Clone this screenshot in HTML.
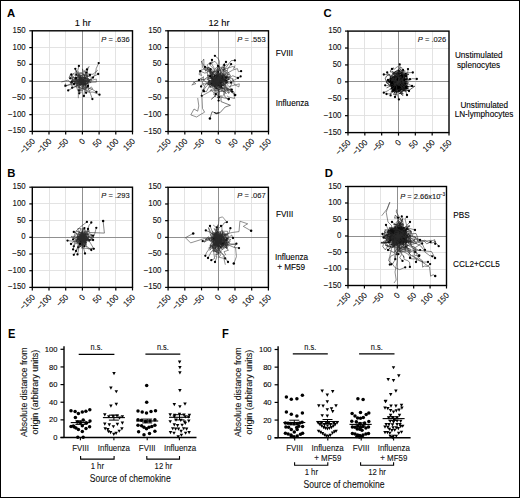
<!DOCTYPE html><html><head><meta charset="utf-8"><style>html,body{margin:0;padding:0;background:#fff}svg{display:block}text{stroke:#000;stroke-width:0.1px;paint-order:stroke}text[font-weight]{stroke:none}</style></head><body>
<svg width="520" height="498" viewBox="0 0 520 498" font-family='"Liberation Sans", sans-serif'>
<rect x="0" y="0" width="520" height="498" fill="#fff"/>
<rect x="0.5" y="0.5" width="519" height="497" fill="none" stroke="#000" stroke-width="1"/>
<text x="7" y="16.6" font-size="11.3" text-anchor="start" font-weight="bold" fill="#000">A</text>
<text x="7.2" y="177.1" font-size="11.3" text-anchor="start" font-weight="bold" fill="#000">B</text>
<text x="323.5" y="17.2" font-size="11.3" text-anchor="start" font-weight="bold" fill="#000">C</text>
<text x="324.8" y="177" font-size="11.3" text-anchor="start" font-weight="bold" fill="#000">D</text>
<text transform="translate(7.9 338.1) scale(0.98 1.1)" font-size="11.3" text-anchor="start" fill="#000" font-weight="bold">E</text>
<text transform="translate(221.9 338) scale(0.98 1.1)" font-size="11.3" text-anchor="start" fill="#000" font-weight="bold">F</text>
<line x1="49.5" y1="30.8" x2="49.5" y2="131.4" stroke="#e0e0e0" stroke-width="0.9"/>
<line x1="32.3" y1="114.5" x2="132.5" y2="114.5" stroke="#e0e0e0" stroke-width="0.9"/>
<line x1="65.5" y1="30.8" x2="65.5" y2="131.4" stroke="#e0e0e0" stroke-width="0.9"/>
<line x1="32.3" y1="97.5" x2="132.5" y2="97.5" stroke="#e0e0e0" stroke-width="0.9"/>
<line x1="99.5" y1="30.8" x2="99.5" y2="131.4" stroke="#e0e0e0" stroke-width="0.9"/>
<line x1="32.3" y1="64.5" x2="132.5" y2="64.5" stroke="#e0e0e0" stroke-width="0.9"/>
<line x1="115.5" y1="30.8" x2="115.5" y2="131.4" stroke="#e0e0e0" stroke-width="0.9"/>
<line x1="32.3" y1="47.5" x2="132.5" y2="47.5" stroke="#e0e0e0" stroke-width="0.9"/>
<line x1="82.5" y1="30.8" x2="82.5" y2="131.4" stroke="#909090" stroke-width="1.0"/>
<line x1="32.3" y1="81.5" x2="132.5" y2="81.5" stroke="#909090" stroke-width="1.0"/>
<path d="M82.4 81.1 L85.39 85.19 L83.32 82.57 L79.05 86.34 L79.6 87.74 L79.98 90.15 L78.85 86.5" fill="none" stroke="#333" stroke-width="0.5" stroke-opacity="1" stroke-linejoin="round"/>
<path d="M82.4 81.1 L78.46 78.6 L78.35 77.44 L78.92 74.38 L78.82 74.63 L75.61 79.12" fill="none" stroke="#333" stroke-width="0.5" stroke-opacity="1" stroke-linejoin="round"/>
<circle cx="75.61" cy="79.12" r="1.1" fill="#000"/>
<path d="M82.4 81.1 L80.41 77.61 L79.04 74.26 L79.5 75.46 L76.35 78.74 L75.32 79.35 L77.72 80.19" fill="none" stroke="#333" stroke-width="0.5" stroke-opacity="1" stroke-linejoin="round"/>
<path d="M82.4 81.1 L81.16 80.02 L81.85 81.35 L76.27 85.53 L77.51 90.09 L81.22 92.78 L80.71 90.15 L81.78 89.73 L79.43 87.21 L75.43 87.04 L78.66 82.07" fill="none" stroke="#333" stroke-width="0.5" stroke-opacity="1" stroke-linejoin="round"/>
<path d="M82.4 81.1 L83.49 79.48 L85.82 78.22 L84.47 75.4 L84.17 75.29 L84.16 74.55 L81.73 73.66 L84.16 73.63 L82.45 68.86 L82.96 72.33 L78.25 73.09 L75.54 69.55 L76.31 74.63" fill="none" stroke="#333" stroke-width="0.5" stroke-opacity="1" stroke-linejoin="round"/>
<circle cx="76.31" cy="74.63" r="1.1" fill="#000"/>
<path d="M82.4 81.1 L83.78 82.97 L86.41 83.49 L87.7 87.55 L85.06 88.89 L86.02 92.69 L92.63 88.92 L91.33 86.87 L86.74 90.9" fill="none" stroke="#333" stroke-width="0.5" stroke-opacity="1" stroke-linejoin="round"/>
<path d="M82.4 81.1 L79.93 82.63 L81.38 81.65 L80.53 80.06 L81.08 77.41 L80.67 77.16 L79.37 77.52 L79.88 81.88 L79.62 78.43 L77.13 76.3 L78.79 73.14 L78.72 76.94" fill="none" stroke="#333" stroke-width="0.5" stroke-opacity="1" stroke-linejoin="round"/>
<path d="M82.4 81.1 L81.99 84.76 L78.08 80.58 L73.01 76.44 L71.51 83.48 L64.65 86.68 L65.58 83.38" fill="none" stroke="#333" stroke-width="0.5" stroke-opacity="1" stroke-linejoin="round"/>
<path d="M82.4 81.1 L84.86 83.57 L82.34 84.2 L85.39 79.61 L84.43 75.29 L79.86 75.35 L76.87 75.52 L79.22 76.18 L76.32 70.95 L75.67 76.55 L74.41 74.44" fill="none" stroke="#333" stroke-width="0.5" stroke-opacity="1" stroke-linejoin="round"/>
<path d="M82.4 81.1 L84.28 81.23 L83.67 84.47 L83.33 87.49 L77.41 83.64 L78.33 81.54 L74 77.81 L77.01 81.18 L80.68 79.16 L79.65 76.5 L81.06 82.56" fill="none" stroke="#333" stroke-width="0.5" stroke-opacity="1" stroke-linejoin="round"/>
<path d="M82.4 81.1 L81.25 80.24 L79.33 84.91 L87.23 88.32 L87.39 82.96 L87.82 78.86 L84.46 70.62 L85.09 72.07 L87.87 76.95 L88.06 75.93 L86 75.12 L83.67 76.42" fill="none" stroke="#333" stroke-width="0.5" stroke-opacity="1" stroke-linejoin="round"/>
<path d="M82.4 81.1 L82.15 83.91 L80.41 83.15 L79.31 84.49 L82.22 83.41 L78.51 85.03 L81.65 83.66 L85.32 82.31 L81.88 82.06" fill="none" stroke="#333" stroke-width="0.5" stroke-opacity="1" stroke-linejoin="round"/>
<circle cx="81.88" cy="82.06" r="1.1" fill="#000"/>
<path d="M82.4 81.1 L81.63 83.25 L83.8 83.07 L78.74 81.75 L81.15 76.94 L78.21 80.62 L79.72 81.09 L81.26 82.08" fill="none" stroke="#333" stroke-width="0.5" stroke-opacity="1" stroke-linejoin="round"/>
<path d="M82.4 81.1 L78.65 83.25 L75.21 83.73 L74.35 81.05 L71.17 80.91 L76.18 79.74 L82.02 75" fill="none" stroke="#333" stroke-width="0.5" stroke-opacity="1" stroke-linejoin="round"/>
<path d="M82.4 81.1 L78.97 79.03 L79.27 77.8 L82.35 76.51 L82.01 76.67 L82.27 78.64 L73.5 77.44 L69.81 78.1" fill="none" stroke="#333" stroke-width="0.5" stroke-opacity="1" stroke-linejoin="round"/>
<path d="M82.4 81.1 L78.8 81.84 L84.21 80 L85.38 81.42 L81.85 79.68 L82.16 80.86 L81.42 78.77" fill="none" stroke="#333" stroke-width="0.5" stroke-opacity="1" stroke-linejoin="round"/>
<path d="M82.4 81.1 L82.09 78.34 L81.37 82.37 L80.21 82.26 L79.31 80.58 L79.59 79.44 L76.46 80.15 L78.26 83.59 L74.5 81.9 L75.69 83.94" fill="none" stroke="#333" stroke-width="0.5" stroke-opacity="1" stroke-linejoin="round"/>
<path d="M82.4 81.1 L82.77 79.04 L84.51 77.37 L85.62 77.4 L85.07 81.65 L85.25 84.01" fill="none" stroke="#333" stroke-width="0.5" stroke-opacity="1" stroke-linejoin="round"/>
<circle cx="85.25" cy="84.01" r="1.1" fill="#000"/>
<path d="M82.4 81.1 L84.47 80.12 L85.99 77.92 L80.87 80.07 L82.58 82.88 L91.5 79.87 L90.84 80.52 L96.37 79.03 L96.31 82.15 L88.76 82.45" fill="none" stroke="#333" stroke-width="0.5" stroke-opacity="1" stroke-linejoin="round"/>
<path d="M82.4 81.1 L80.05 84.83 L75.08 81.19 L70.41 78.08 L74.46 72.87 L71.22 75.2 L69.05 77.56 L70.42 74.31 L74.14 81.98 L77.75 81.54 L79.77 82.18 L79.8 80.1 L81.81 81.96" fill="none" stroke="#333" stroke-width="0.5" stroke-opacity="1" stroke-linejoin="round"/>
<path d="M82.4 81.1 L79.25 82.21 L77.45 81.33 L75.36 78.6 L75.14 80.56 L72.51 86.17 L71.56 85.73 L71.19 84.19 L69.97 82.49 L72.2 81.7" fill="none" stroke="#333" stroke-width="0.5" stroke-opacity="1" stroke-linejoin="round"/>
<circle cx="72.2" cy="81.7" r="1.1" fill="#000"/>
<path d="M82.4 81.1 L83.31 79.59 L87.67 77.9 L89.79 80.06 L86.21 77.02 L85.08 70.71 L89.05 66.46 L86.45 72.6" fill="none" stroke="#333" stroke-width="0.5" stroke-opacity="1" stroke-linejoin="round"/>
<circle cx="86.45" cy="72.6" r="1.1" fill="#000"/>
<path d="M82.4 81.1 L86.84 80.82 L87.19 77.54 L90.63 83.07 L91.1 79.71 L95.61 73.61 L96.2 68.63 L98.7 63.1" fill="none" stroke="#2a2a2a" stroke-width="0.55" stroke-opacity="1" stroke-linejoin="round"/>
<circle cx="98.7" cy="63.1" r="1.15" fill="#000"/>
<path d="M82.4 81.1 L79.9 76.31 L80.17 80.12 L83.53 81.67 L80.14 75.14 L77.76 70.61 L78.9 65.9" fill="none" stroke="#2a2a2a" stroke-width="0.55" stroke-opacity="1" stroke-linejoin="round"/>
<circle cx="78.9" cy="65.9" r="1.15" fill="#000"/>
<path d="M82.4 81.1 L80.73 78.72 L81.5 79.91 L78.47 75.99 L75.3 68.8" fill="none" stroke="#2a2a2a" stroke-width="0.55" stroke-opacity="1" stroke-linejoin="round"/>
<circle cx="75.3" cy="68.8" r="1.15" fill="#000"/>
<path d="M82.4 81.1 L84.01 78.67 L87.73 78.95 L88.5 82.02 L85.6 85.04 L83.42 79.84 L87.96 75.16 L87 69.5" fill="none" stroke="#2a2a2a" stroke-width="0.55" stroke-opacity="1" stroke-linejoin="round"/>
<circle cx="87" cy="69.5" r="1.15" fill="#000"/>
<path d="M82.4 81.1 L82.46 79.89 L80 75.73 L87.04 74.06 L92.97 74.29 L97.8 70.2" fill="none" stroke="#2a2a2a" stroke-width="0.55" stroke-opacity="1" stroke-linejoin="round"/>
<path d="M82.4 81.1 L91.53 79.25 L85.03 82.39 L85.08 80.35 L88.46 81.7 L87.14 83.2 L91.84 77.53 L98.2 74" fill="none" stroke="#2a2a2a" stroke-width="0.55" stroke-opacity="1" stroke-linejoin="round"/>
<circle cx="98.2" cy="74" r="1.15" fill="#000"/>
<path d="M82.4 81.1 L81.39 82.38 L84.82 83.68 L81.95 85.72 L83.52 89.21 L77.59 86.4 L75.56 80.81 L71.3 74.5" fill="none" stroke="#2a2a2a" stroke-width="0.55" stroke-opacity="1" stroke-linejoin="round"/>
<circle cx="71.3" cy="74.5" r="1.15" fill="#000"/>
<path d="M82.4 81.1 L85.06 78.52 L79.31 80.26 L80.17 73.08 L85.65 75.51 L93 77.6" fill="none" stroke="#2a2a2a" stroke-width="0.55" stroke-opacity="1" stroke-linejoin="round"/>
<circle cx="93" cy="77.6" r="1.15" fill="#000"/>
<path d="M82.4 81.1 L83.54 79.54 L79.1 83.66 L77.61 79.42 L80.71 79.47 L74.64 80.03 L70.2 78.3" fill="none" stroke="#2a2a2a" stroke-width="0.55" stroke-opacity="1" stroke-linejoin="round"/>
<circle cx="70.2" cy="78.3" r="1.15" fill="#000"/>
<path d="M82.4 81.1 L84.14 83.9 L89.36 83 L86.54 83.61 L81.5 84.41 L74.45 85.03 L67.85 80.17 L61.4 82" fill="none" stroke="#2a2a2a" stroke-width="0.55" stroke-opacity="1" stroke-linejoin="round"/>
<path d="M82.4 81.1 L82.72 83.9 L83.04 85.28 L81.54 81.2 L75.75 81.7 L74.24 81.33 L71.5 82.3" fill="none" stroke="#2a2a2a" stroke-width="0.55" stroke-opacity="1" stroke-linejoin="round"/>
<circle cx="71.5" cy="82.3" r="1.15" fill="#000"/>
<path d="M82.4 81.1 L84.18 85.26 L79.73 84.11 L81.33 82.5 L74.89 83.73 L69.08 84.98 L65.5 85.7" fill="none" stroke="#2a2a2a" stroke-width="0.55" stroke-opacity="1" stroke-linejoin="round"/>
<circle cx="65.5" cy="85.7" r="1.15" fill="#000"/>
<path d="M82.4 81.1 L81.78 76.33 L86.08 78.69 L89.87 81.8 L86.14 84.32 L79.91 84.66 L72.2 87.7" fill="none" stroke="#2a2a2a" stroke-width="0.55" stroke-opacity="1" stroke-linejoin="round"/>
<circle cx="72.2" cy="87.7" r="1.15" fill="#000"/>
<path d="M82.4 81.1 L87.62 82.8 L89.74 79.51 L84.92 78.62 L83.98 74.82 L87.52 80.22 L84.52 85.05 L78.27 85.03 L73.5 87.55 L68.2 90.4" fill="none" stroke="#2a2a2a" stroke-width="0.55" stroke-opacity="1" stroke-linejoin="round"/>
<circle cx="68.2" cy="90.4" r="1.15" fill="#000"/>
<path d="M82.4 81.1 L82.18 83.17 L85.31 89.16 L83.5 89.64 L82.48 90.38 L78.9 90.4" fill="none" stroke="#2a2a2a" stroke-width="0.55" stroke-opacity="1" stroke-linejoin="round"/>
<circle cx="78.9" cy="90.4" r="1.15" fill="#000"/>
<path d="M82.4 81.1 L85.56 80.63 L87.33 80.07 L84.04 85.17 L83.42 88.57 L81.86 87.85 L79.1 91 L79.3 93.3" fill="none" stroke="#2a2a2a" stroke-width="0.55" stroke-opacity="1" stroke-linejoin="round"/>
<circle cx="79.3" cy="93.3" r="1.15" fill="#000"/>
<path d="M82.4 81.1 L82.27 81.81 L79.93 81.33 L81.94 77.65 L84.24 77.18 L85.22 82.44 L86.1 86.71 L86.1 92.8" fill="none" stroke="#2a2a2a" stroke-width="0.55" stroke-opacity="1" stroke-linejoin="round"/>
<circle cx="86.1" cy="92.8" r="1.15" fill="#000"/>
<path d="M82.4 81.1 L81.16 79.89 L83.32 80.23 L82.78 83.79 L85.96 87.18 L92.04 89.1 L96.4 92" fill="none" stroke="#2a2a2a" stroke-width="0.55" stroke-opacity="1" stroke-linejoin="round"/>
<circle cx="96.4" cy="92" r="1.15" fill="#000"/>
<path d="M82.4 81.1 L81.19 84.87 L77.92 82.73 L76.3 84.15 L81.6 87.88 L85.26 89.11 L88.69 92.22 L93 92.03 L99.5 94.7" fill="none" stroke="#2a2a2a" stroke-width="0.55" stroke-opacity="1" stroke-linejoin="round"/>
<circle cx="99.5" cy="94.7" r="1.15" fill="#000"/>
<path d="M82.4 81.1 L78.9 81.44 L86.05 81.16 L84.53 90.64 L83.9 96" fill="none" stroke="#2a2a2a" stroke-width="0.55" stroke-opacity="1" stroke-linejoin="round"/>
<circle cx="83.9" cy="96" r="1.15" fill="#000"/>
<path d="M82.4 81.1 L86.05 86.09 L85.69 88.26 L87.71 85.87 L88.38 85.32 L88.39 84.23 L88.75 90.03 L90.57 94.02 L92.4 99.1" fill="none" stroke="#2a2a2a" stroke-width="0.55" stroke-opacity="1" stroke-linejoin="round"/>
<circle cx="92.4" cy="99.1" r="1.15" fill="#000"/>
<path d="M82.4 81.1 L82.05 84.14 L80.67 82.56 L81.79 84.64 L79.75 83.72 L78.32 88.54 L78.3 98.2" fill="none" stroke="#2a2a2a" stroke-width="0.55" stroke-opacity="1" stroke-linejoin="round"/>
<path d="M82.4 81.1 L78.36 79.7 L71.26 82.59 L72.87 81.43 L79.34 82.75 L84.4 78.47 L90 75" fill="none" stroke="#2a2a2a" stroke-width="0.55" stroke-opacity="1" stroke-linejoin="round"/>
<circle cx="90" cy="75" r="1.15" fill="#000"/>
<path d="M82.4 81.1 L84.78 77.24 L83.08 77.35 L86.31 80.46 L85.62 77.85 L80.69 77.62 L76 78" fill="none" stroke="#2a2a2a" stroke-width="0.55" stroke-opacity="1" stroke-linejoin="round"/>
<circle cx="76" cy="78" r="1.15" fill="#000"/>
<path d="M82.4 81.1 L84.29 84.65 L82.22 82.7 L86.07 86 L88 86" fill="none" stroke="#2a2a2a" stroke-width="0.55" stroke-opacity="1" stroke-linejoin="round"/>
<circle cx="88" cy="86" r="1.15" fill="#000"/>
<path d="M82.4 81.1 L82.55 79.53 L83.1 77.96 L78.01 80.53 L74 84" fill="none" stroke="#2a2a2a" stroke-width="0.55" stroke-opacity="1" stroke-linejoin="round"/>
<circle cx="74" cy="84" r="1.15" fill="#000"/>
<rect x="32.3" y="30.8" width="100.2" height="100.6" fill="none" stroke="#000" stroke-width="1.4"/>
<line x1="29.3" y1="131.4" x2="32.3" y2="131.4" stroke="#000" stroke-width="1.2"/>
<text transform="translate(25.7 133.4) scale(0.95 1)" font-size="8.3" text-anchor="end" fill="#111">−150</text>
<line x1="32.3" y1="131.4" x2="32.3" y2="134.4" stroke="#000" stroke-width="1.2"/>
<text transform="translate(35.5 141.9) rotate(-45) scale(0.95 1)" font-size="8.3" text-anchor="end" fill="#111">−150</text>
<line x1="29.3" y1="114.63" x2="32.3" y2="114.63" stroke="#000" stroke-width="1.2"/>
<text transform="translate(25.7 116.63) scale(0.95 1)" font-size="8.3" text-anchor="end" fill="#111">−100</text>
<line x1="49" y1="131.4" x2="49" y2="134.4" stroke="#000" stroke-width="1.2"/>
<text transform="translate(52.2 141.9) rotate(-45) scale(0.95 1)" font-size="8.3" text-anchor="end" fill="#111">−100</text>
<line x1="29.3" y1="97.87" x2="32.3" y2="97.87" stroke="#000" stroke-width="1.2"/>
<text transform="translate(25.7 99.87) scale(0.95 1)" font-size="8.3" text-anchor="end" fill="#111">−50</text>
<line x1="65.7" y1="131.4" x2="65.7" y2="134.4" stroke="#000" stroke-width="1.2"/>
<text transform="translate(68.9 141.9) rotate(-45) scale(0.95 1)" font-size="8.3" text-anchor="end" fill="#111">−50</text>
<line x1="29.3" y1="81.1" x2="32.3" y2="81.1" stroke="#000" stroke-width="1.2"/>
<text transform="translate(25.7 83.1) scale(0.95 1)" font-size="8.3" text-anchor="end" fill="#111">0</text>
<line x1="82.4" y1="131.4" x2="82.4" y2="134.4" stroke="#000" stroke-width="1.2"/>
<text transform="translate(85.6 141.9) rotate(-45) scale(0.95 1)" font-size="8.3" text-anchor="end" fill="#111">0</text>
<line x1="29.3" y1="64.33" x2="32.3" y2="64.33" stroke="#000" stroke-width="1.2"/>
<text transform="translate(25.7 66.33) scale(0.95 1)" font-size="8.3" text-anchor="end" fill="#111">50</text>
<line x1="99.1" y1="131.4" x2="99.1" y2="134.4" stroke="#000" stroke-width="1.2"/>
<text transform="translate(102.3 141.9) rotate(-45) scale(0.95 1)" font-size="8.3" text-anchor="end" fill="#111">50</text>
<line x1="29.3" y1="47.57" x2="32.3" y2="47.57" stroke="#000" stroke-width="1.2"/>
<text transform="translate(25.7 49.57) scale(0.95 1)" font-size="8.3" text-anchor="end" fill="#111">100</text>
<line x1="115.8" y1="131.4" x2="115.8" y2="134.4" stroke="#000" stroke-width="1.2"/>
<text transform="translate(119 141.9) rotate(-45) scale(0.95 1)" font-size="8.3" text-anchor="end" fill="#111">100</text>
<line x1="29.3" y1="30.8" x2="32.3" y2="30.8" stroke="#000" stroke-width="1.2"/>
<text transform="translate(25.7 32.8) scale(0.95 1)" font-size="8.3" text-anchor="end" fill="#111">150</text>
<line x1="132.5" y1="131.4" x2="132.5" y2="134.4" stroke="#000" stroke-width="1.2"/>
<text transform="translate(135.7 141.9) rotate(-45) scale(0.95 1)" font-size="8.3" text-anchor="end" fill="#111">150</text>
<text x="129.6" y="42.2" font-size="7.55" text-anchor="end" fill="#111"><tspan font-style="italic">P</tspan> = .636</text>
<text x="82.8" y="25.8" font-size="9.3" text-anchor="middle">1 hr</text>
<line x1="184.5" y1="30.8" x2="184.5" y2="131.5" stroke="#e0e0e0" stroke-width="0.9"/>
<line x1="168.1" y1="114.5" x2="268.5" y2="114.5" stroke="#e0e0e0" stroke-width="0.9"/>
<line x1="201.5" y1="30.8" x2="201.5" y2="131.5" stroke="#e0e0e0" stroke-width="0.9"/>
<line x1="168.1" y1="97.5" x2="268.5" y2="97.5" stroke="#e0e0e0" stroke-width="0.9"/>
<line x1="235.5" y1="30.8" x2="235.5" y2="131.5" stroke="#e0e0e0" stroke-width="0.9"/>
<line x1="168.1" y1="64.5" x2="268.5" y2="64.5" stroke="#e0e0e0" stroke-width="0.9"/>
<line x1="251.5" y1="30.8" x2="251.5" y2="131.5" stroke="#e0e0e0" stroke-width="0.9"/>
<line x1="168.1" y1="47.5" x2="268.5" y2="47.5" stroke="#e0e0e0" stroke-width="0.9"/>
<line x1="218.5" y1="30.8" x2="218.5" y2="131.5" stroke="#909090" stroke-width="1.0"/>
<line x1="168.1" y1="81.5" x2="268.5" y2="81.5" stroke="#909090" stroke-width="1.0"/>
<path d="M218.3 81.15 L218.97 85.08 L218.21 85.5 L224.16 78.85 L214.54 81.77 L216.44 84.33 L209.63 84.87 L208.55 84.03 L209.75 87.27 L218.18 79.72" fill="none" stroke="#2a2a2a" stroke-width="0.5" stroke-opacity="1" stroke-linejoin="round"/>
<path d="M218.3 81.15 L214.78 78.17 L216.02 78.59 L213.78 75.05 L214.64 76.63 L215.5 78.31 L217.95 79.08 L218.5 71.92 L222.57 66.58 L221.1 69.23 L221.49 69 L227.06 70.59 L224.83 71.74" fill="none" stroke="#2a2a2a" stroke-width="0.5" stroke-opacity="1" stroke-linejoin="round"/>
<path d="M218.3 81.15 L222.4 77.94 L224.55 82.35 L224.59 80.41 L225.6 79.28 L218.57 77.77 L219.35 77.52 L213.34 74.4" fill="none" stroke="#2a2a2a" stroke-width="0.5" stroke-opacity="1" stroke-linejoin="round"/>
<path d="M218.3 81.15 L222.49 79.43 L225.17 76.59 L229.24 74.37 L230.67 75.38 L226.9 74.22 L229.32 73.86 L227.93 71.92 L227.02 72.34 L227.22 77.09 L229.87 76.78 L224.48 77.65" fill="none" stroke="#2a2a2a" stroke-width="0.5" stroke-opacity="1" stroke-linejoin="round"/>
<path d="M218.3 81.15 L224.24 78.97 L228.56 77.73 L227.19 76.21 L221.63 79.96 L218.17 82.84 L214.02 80.81 L212.24 76 L212.81 83.97 L214.8 85.62 L217.41 91.03 L224.92 91.74 L222.55 96.66" fill="none" stroke="#2a2a2a" stroke-width="0.5" stroke-opacity="1" stroke-linejoin="round"/>
<path d="M218.3 81.15 L221.99 82.89 L217.27 79.79 L216.06 81.77 L212.86 78.35 L210.83 73.52 L210.19 72.27 L207.22 67.89 L207.88 72.44 L208.71 66.99 L210.55 69.13" fill="none" stroke="#2a2a2a" stroke-width="0.5" stroke-opacity="1" stroke-linejoin="round"/>
<circle cx="210.55" cy="69.13" r="1.1" fill="#000"/>
<path d="M218.3 81.15 L221.16 76.36 L223.21 78.68 L225.88 81.91 L226.61 82.12 L227.36 82.7 L221.91 79.56 L218.94 81.35 L221.35 77.66 L219.91 79.61 L223.31 82.33 L223.56 85.2 L219.8 83.43" fill="none" stroke="#2a2a2a" stroke-width="0.5" stroke-opacity="1" stroke-linejoin="round"/>
<circle cx="219.8" cy="83.43" r="1.1" fill="#000"/>
<path d="M218.3 81.15 L221.5 83.99 L219.51 86.92 L221.19 86.65 L222.39 81.86 L221.09 82.52 L219.72 79.81 L219.65 78.15 L223.7 72.43 L224.48 67.49" fill="none" stroke="#2a2a2a" stroke-width="0.5" stroke-opacity="1" stroke-linejoin="round"/>
<path d="M218.3 81.15 L219.16 87.18 L220.16 83.89 L221.26 88.23 L221.43 83.47 L221.69 85.37 L220.07 85.08 L224.33 89.2 L228.74 93.63 L231.85 89.01 L227.68 89.92" fill="none" stroke="#2a2a2a" stroke-width="0.5" stroke-opacity="1" stroke-linejoin="round"/>
<path d="M218.3 81.15 L220.16 75.09 L223.19 77.89 L223.05 75.11 L224.81 75.83 L222.37 76.06 L226.02 76.27 L225.72 74.89 L223.82 74.12 L223.71 75.57 L228.5 78" fill="none" stroke="#2a2a2a" stroke-width="0.5" stroke-opacity="1" stroke-linejoin="round"/>
<path d="M218.3 81.15 L219.83 82.25 L221.18 87.87 L226.34 89.4 L233.82 92.94 L234.53 98.56 L228.62 96.98 L226.92 95.84" fill="none" stroke="#2a2a2a" stroke-width="0.5" stroke-opacity="1" stroke-linejoin="round"/>
<path d="M218.3 81.15 L220.19 82.59 L215.62 84.29 L219.08 86.75 L221.25 87.33 L220.74 86.83" fill="none" stroke="#2a2a2a" stroke-width="0.5" stroke-opacity="1" stroke-linejoin="round"/>
<circle cx="220.74" cy="86.83" r="1.1" fill="#000"/>
<path d="M218.3 81.15 L217.37 79.97 L216.6 71.99 L207.7 71.46 L202.95 68.19 L201.42 61 L203.8 65.72 L205.64 71.33" fill="none" stroke="#2a2a2a" stroke-width="0.5" stroke-opacity="1" stroke-linejoin="round"/>
<path d="M218.3 81.15 L214.07 83.8 L210.56 74.76 L208.73 69.51 L203.94 65.74 L203.83 58.99 L202.17 61.63" fill="none" stroke="#2a2a2a" stroke-width="0.5" stroke-opacity="1" stroke-linejoin="round"/>
<path d="M218.3 81.15 L218.12 86.11 L214.48 85.98 L216.76 87.25 L215.81 82.77 L219.21 76.9 L224.3 85.12 L219.74 86.8 L216.24 81.69 L217.27 81.78" fill="none" stroke="#2a2a2a" stroke-width="0.5" stroke-opacity="1" stroke-linejoin="round"/>
<path d="M218.3 81.15 L217.08 76.26 L211 72.47 L209.35 71.88 L211.09 73.72 L214.22 80.74 L211.85 78.47 L213.1 81.01 L212.31 79.95 L217.01 80.59" fill="none" stroke="#2a2a2a" stroke-width="0.5" stroke-opacity="1" stroke-linejoin="round"/>
<path d="M218.3 81.15 L218.75 83.62 L216.31 80.83 L214.58 78.95 L218.71 85.61 L222.27 88.79 L220.79 91.98" fill="none" stroke="#2a2a2a" stroke-width="0.5" stroke-opacity="1" stroke-linejoin="round"/>
<path d="M218.3 81.15 L222.77 82.64 L223.16 83.67 L222.02 82.01 L221.41 82.94 L220.19 77.57 L215.71 83.94 L208.2 81.77" fill="none" stroke="#2a2a2a" stroke-width="0.5" stroke-opacity="1" stroke-linejoin="round"/>
<path d="M218.3 81.15 L221.14 78.22 L226.59 76.05 L226.82 77.35 L226.46 78.57 L225.3 81.26 L226.15 82.3" fill="none" stroke="#2a2a2a" stroke-width="0.5" stroke-opacity="1" stroke-linejoin="round"/>
<circle cx="226.15" cy="82.3" r="1.1" fill="#000"/>
<path d="M218.3 81.15 L213.3 76.8 L215.3 77.79 L216.75 78.62 L212.15 79.6 L212.81 73.79 L210.34 77.92 L213.3 77.59 L199.53 80.24 L195.24 81.59 L191.77 84.99 L195.88 83.67 L193.04 81.88" fill="none" stroke="#2a2a2a" stroke-width="0.5" stroke-opacity="1" stroke-linejoin="round"/>
<path d="M218.3 81.15 L219.26 77.7 L221.77 80.08 L223.11 76.14 L219.29 78.21 L211.47 78.33 L211.44 84.18 L214.55 83.05" fill="none" stroke="#2a2a2a" stroke-width="0.5" stroke-opacity="1" stroke-linejoin="round"/>
<circle cx="214.55" cy="83.05" r="1.1" fill="#000"/>
<path d="M218.3 81.15 L215.54 78.03 L207.15 77.58 L206.22 77.69 L203.32 80.79 L203.37 76.83 L203.77 76.86 L200.63 78.51 L201.22 79 L203.75 85.86" fill="none" stroke="#2a2a2a" stroke-width="0.5" stroke-opacity="1" stroke-linejoin="round"/>
<path d="M218.3 81.15 L217.87 81.06 L219.48 78.8 L222.31 77.26 L223.98 78.46 L222.39 80.19 L219.7 85.95 L220.21 82.32 L221.16 84.03 L220.76 85.49 L221.1 84.18 L220.68 83.24" fill="none" stroke="#2a2a2a" stroke-width="0.5" stroke-opacity="1" stroke-linejoin="round"/>
<path d="M218.3 81.15 L219.49 75.69 L213.41 68.59 L208.58 63.82 L207.04 65.02 L207.93 66.65 L205.75 71.17 L206.03 68.46 L199.59 70.74 L201.63 75.51 L199.08 74.52 L199.99 70.09" fill="none" stroke="#2a2a2a" stroke-width="0.5" stroke-opacity="1" stroke-linejoin="round"/>
<path d="M218.3 81.15 L218.75 77.64 L223.86 78.32 L226.12 75.95 L227.97 77.33 L222 75.37" fill="none" stroke="#2a2a2a" stroke-width="0.5" stroke-opacity="1" stroke-linejoin="round"/>
<path d="M218.3 81.15 L213.82 77.99 L216.55 71.37 L209.79 73.28 L211.8 75.81 L207.68 76.86 L215.79 81.31 L215.68 79.51 L215.77 80.34 L220.15 77.88 L215.9 77.78 L214.86 77.28 L216.45 80.36" fill="none" stroke="#2a2a2a" stroke-width="0.5" stroke-opacity="1" stroke-linejoin="round"/>
<path d="M218.3 81.15 L225.65 79.71 L227.15 81.59 L227.56 82.95 L226.3 80 L222.82 81.45 L221.95 78.69 L217.08 80.39 L214.51 87.12 L215.36 84.08 L211.29 78.55 L213.49 79.9" fill="none" stroke="#2a2a2a" stroke-width="0.5" stroke-opacity="1" stroke-linejoin="round"/>
<path d="M218.3 81.15 L214.61 81.16 L218.41 77.2 L219.4 73.85 L217.17 73.58 L226.54 76.77 L231.07 78.54 L232.71 78.8" fill="none" stroke="#2a2a2a" stroke-width="0.5" stroke-opacity="1" stroke-linejoin="round"/>
<path d="M218.3 81.15 L215.63 80.88 L214.06 89.87 L213.59 88.49 L210.21 90.25 L210.3 91.03 L215.39 90 L215.98 95.4 L211.26 99.29 L216.75 94.56 L211.69 90.97" fill="none" stroke="#2a2a2a" stroke-width="0.5" stroke-opacity="1" stroke-linejoin="round"/>
<path d="M218.3 81.15 L215.87 79.37 L221.99 80.77 L221.2 77.33 L224.03 78.01 L225.98 72.54 L222.17 69.22 L226.86 64.23 L226.97 64.52" fill="none" stroke="#2a2a2a" stroke-width="0.5" stroke-opacity="1" stroke-linejoin="round"/>
<path d="M218.3 81.15 L221.03 79.07 L215.13 77.84 L217.84 80.65 L217.54 78.74 L213.7 85.02 L214.63 83.02 L207.08 79.51 L216.04 76.79 L215.82 78.97 L215.3 79.39 L210.41 77.03 L216.54 75.73" fill="none" stroke="#2a2a2a" stroke-width="0.5" stroke-opacity="1" stroke-linejoin="round"/>
<path d="M218.3 81.15 L217.41 81.41 L217.2 79.63 L216.19 79.94 L212.75 77.1 L219.84 73.42 L218.28 72.47 L216.29 69.59 L218.11 71.95" fill="none" stroke="#2a2a2a" stroke-width="0.5" stroke-opacity="1" stroke-linejoin="round"/>
<circle cx="218.11" cy="71.95" r="1.1" fill="#000"/>
<path d="M218.3 81.15 L227.53 81.12 L223.04 81.27 L225.62 82.4 L228.9 86.64 L239.34 83.8 L238.92 86.97 L234.15 84.41 L233.83 81.78 L232.76 78.55 L232.56 81.05 L240.65 76.41" fill="none" stroke="#2a2a2a" stroke-width="0.5" stroke-opacity="1" stroke-linejoin="round"/>
<circle cx="240.65" cy="76.41" r="1.1" fill="#000"/>
<path d="M218.3 81.15 L216.98 82.1 L217.67 82.01 L219.17 80.76 L217.25 86.2 L218.89 84.61" fill="none" stroke="#2a2a2a" stroke-width="0.5" stroke-opacity="1" stroke-linejoin="round"/>
<circle cx="218.89" cy="84.61" r="1.1" fill="#000"/>
<path d="M218.3 81.15 L219.35 78.88 L222.38 83.8 L219.82 81.02 L225.43 82.02 L229.16 82.07" fill="none" stroke="#2a2a2a" stroke-width="0.5" stroke-opacity="1" stroke-linejoin="round"/>
<path d="M218.3 81.15 L213.01 79.8 L215.54 80.99 L214.4 81.08 L213.13 79.2 L210.76 75.6 L210.65 73.36 L210.32 70.07" fill="none" stroke="#2a2a2a" stroke-width="0.5" stroke-opacity="1" stroke-linejoin="round"/>
<circle cx="210.32" cy="70.07" r="1.1" fill="#000"/>
<path d="M218.3 81.15 L223.52 82.97 L221.3 81.66 L215.13 84.17 L219.3 81.72 L223.11 75.14 L222.55 80.06 L216.85 79.71" fill="none" stroke="#2a2a2a" stroke-width="0.5" stroke-opacity="1" stroke-linejoin="round"/>
<circle cx="216.85" cy="79.71" r="1.1" fill="#000"/>
<path d="M218.3 81.15 L216.9 82.19 L210.57 75.9 L214.07 70.69 L211.51 77.76 L211.94 72.78 L217.63 79.93" fill="none" stroke="#2a2a2a" stroke-width="0.5" stroke-opacity="1" stroke-linejoin="round"/>
<circle cx="217.63" cy="79.93" r="1.1" fill="#000"/>
<path d="M218.3 81.15 L223.87 76.82 L228.05 83.18 L225.93 80.87 L224.73 90.33 L228.37 88.8 L221.93 86.81 L226.22 93.96 L225.28 91.9 L223.46 85.54 L226.75 82.06 L230.6 76.34 L226.05 77.8" fill="none" stroke="#2a2a2a" stroke-width="0.5" stroke-opacity="1" stroke-linejoin="round"/>
<circle cx="226.05" cy="77.8" r="1.1" fill="#000"/>
<path d="M218.3 81.15 L220.97 89.66 L219.71 85.13 L217.44 88.79 L224.4 83.35 L228.52 92.91 L228.06 90.31 L226.98 87.88 L220.81 88.65 L215.51 90.73 L215.07 86.87 L216.36 88.26" fill="none" stroke="#2a2a2a" stroke-width="0.5" stroke-opacity="1" stroke-linejoin="round"/>
<circle cx="216.36" cy="88.26" r="1.1" fill="#000"/>
<path d="M218.3 81.15 L212.08 82.09 L209.94 87.55 L215.07 87.82 L214.19 80.99 L212.23 84.18" fill="none" stroke="#2a2a2a" stroke-width="0.5" stroke-opacity="1" stroke-linejoin="round"/>
<path d="M218.3 81.15 L218.56 81.68 L219.48 77.88 L216.37 75.27 L217.58 67.29 L217.66 74.42 L210.33 73.72 L207.44 75.61 L210.07 76.14" fill="none" stroke="#2a2a2a" stroke-width="0.5" stroke-opacity="1" stroke-linejoin="round"/>
<circle cx="210.07" cy="76.14" r="1.1" fill="#000"/>
<path d="M218.3 81.15 L216.75 88.62 L215.76 84.25 L215.61 84.06 L221.3 76.54 L224.65 77.52 L217.49 80.47 L216.31 83.08 L216.32 83.98" fill="none" stroke="#2a2a2a" stroke-width="0.5" stroke-opacity="1" stroke-linejoin="round"/>
<circle cx="216.32" cy="83.98" r="1.1" fill="#000"/>
<path d="M218.3 81.15 L210.66 81.16 L215.62 76.19 L209.72 69.36 L208.59 67.28 L206.79 69.1 L212.93 72.87 L209.94 72.21 L211.27 68.83 L211.1 73.99 L214.43 81 L214.9 79.98 L213.38 79.14" fill="none" stroke="#2a2a2a" stroke-width="0.5" stroke-opacity="1" stroke-linejoin="round"/>
<path d="M218.3 81.15 L218.4 83.96 L219.69 85.14 L211.76 84.72 L209.64 80.55 L206.93 83.98 L209.49 84.82 L211.93 83.56 L212.78 84.63 L215.38 85.3 L215.45 85.73 L213.73 94.69 L216.17 97.15" fill="none" stroke="#2a2a2a" stroke-width="0.5" stroke-opacity="1" stroke-linejoin="round"/>
<path d="M218.3 81.15 L221.25 71.27 L225.78 68.71 L228.53 67.94 L233.01 66.42 L234.54 67.23 L233.74 68.68 L234.89 65.45" fill="none" stroke="#2a2a2a" stroke-width="0.5" stroke-opacity="1" stroke-linejoin="round"/>
<path d="M218.3 81.15 L217.85 77.72 L217.73 75.16 L223.33 72.4 L223.99 67.6 L222.95 67.41 L220.72 66.98 L219.33 69.55 L214.84 68.89 L217.59 66.61 L219.08 65.99 L221.13 77.05" fill="none" stroke="#2a2a2a" stroke-width="0.5" stroke-opacity="1" stroke-linejoin="round"/>
<path d="M218.3 81.15 L216.17 82.75 L220.82 74.6 L223.71 79.17 L219.42 81.22 L215.25 81.47 L217.09 73.63 L216.04 77.46 L219.33 78.91 L218.66 81.67" fill="none" stroke="#2a2a2a" stroke-width="0.5" stroke-opacity="1" stroke-linejoin="round"/>
<path d="M218.3 81.15 L221.89 83.3 L216.61 81.12 L211.93 80.56 L215.04 76.67 L211.97 76.32 L216.23 80.39" fill="none" stroke="#2a2a2a" stroke-width="0.5" stroke-opacity="1" stroke-linejoin="round"/>
<path d="M218.3 81.15 L215.73 78.19 L215.44 80.66 L217.65 77.57 L213.24 78.28 L217.53 79.67" fill="none" stroke="#2a2a2a" stroke-width="0.5" stroke-opacity="1" stroke-linejoin="round"/>
<circle cx="217.53" cy="79.67" r="1.1" fill="#000"/>
<path d="M218.3 81.15 L217.98 78.04 L215.92 75.59 L219.3 76.76 L218.88 76.24 L219.78 78.78 L215.64 79.93" fill="none" stroke="#000" stroke-width="0.6" stroke-opacity="1" stroke-linejoin="round"/>
<path d="M218.3 81.15 L214.34 80.56 L210.38 76.89 L210.23 75.96 L207.52 75.57" fill="none" stroke="#000" stroke-width="0.6" stroke-opacity="1" stroke-linejoin="round"/>
<path d="M218.3 81.15 L217.44 81.12 L221.09 81.99 L221.22 81.56 L219.93 84.23 L220.2 82.06 L219.04 81.77" fill="none" stroke="#000" stroke-width="0.6" stroke-opacity="1" stroke-linejoin="round"/>
<path d="M218.3 81.15 L220.51 80.99 L219.38 80.64 L220.42 81.2 L220.75 81.36 L218.64 78.74" fill="none" stroke="#000" stroke-width="0.6" stroke-opacity="1" stroke-linejoin="round"/>
<path d="M218.3 81.15 L218.39 82.05 L219.83 80.56 L219.08 78.86 L219.08 84.57 L221.83 86.91" fill="none" stroke="#000" stroke-width="0.6" stroke-opacity="1" stroke-linejoin="round"/>
<path d="M218.3 81.15 L218.59 77.32 L214.34 74.95 L214.58 76.71 L214.06 75.98 L217 78.31 L215.66 81.46" fill="none" stroke="#000" stroke-width="0.6" stroke-opacity="1" stroke-linejoin="round"/>
<path d="M218.3 81.15 L217.76 81.86 L218.06 80.23 L217.44 82.39 L220.9 81.95 L215.66 78.29" fill="none" stroke="#000" stroke-width="0.6" stroke-opacity="1" stroke-linejoin="round"/>
<path d="M218.3 81.15 L220.98 79.19 L220.57 79.61 L220.09 79.5 L222.46 75.65" fill="none" stroke="#000" stroke-width="0.6" stroke-opacity="1" stroke-linejoin="round"/>
<path d="M218.3 81.15 L218.25 83.7 L220.14 86.04 L219.55 84.84 L216.98 86.21" fill="none" stroke="#000" stroke-width="0.6" stroke-opacity="1" stroke-linejoin="round"/>
<path d="M218.3 81.15 L220.67 80.02 L216.93 79.48 L219.61 77.92 L219.52 80.91 L219.83 79.03 L217.29 79.68 L218.05 81.39 L216.64 80.58" fill="none" stroke="#000" stroke-width="0.6" stroke-opacity="1" stroke-linejoin="round"/>
<path d="M218.3 81.15 L219.94 81.48 L219.77 80.98 L221.58 81.51 L220.69 81.13 L219.63 81.38 L218.58 79.22" fill="none" stroke="#000" stroke-width="0.6" stroke-opacity="1" stroke-linejoin="round"/>
<path d="M218.3 81.15 L217.68 82.93 L218.43 82.03 L220.26 78.95 L222.44 78.18 L219.75 77.86" fill="none" stroke="#000" stroke-width="0.6" stroke-opacity="1" stroke-linejoin="round"/>
<path d="M218.3 81.15 L222.22 78.65 L222.63 79.58 L222.59 78.42 L220.48 78.97 L218.64 81.85" fill="none" stroke="#000" stroke-width="0.6" stroke-opacity="1" stroke-linejoin="round"/>
<path d="M218.3 81.15 L221.2 79.14 L224.32 79.65 L226.66 80.57 L229.14 78.98 L226.23 80.09 L226.58 80.24" fill="none" stroke="#000" stroke-width="0.6" stroke-opacity="1" stroke-linejoin="round"/>
<path d="M218.3 81.15 L216.63 81.88 L214.46 80.34 L216.57 77.76 L218.81 74.28 L217.48 76.48 L217.91 77.34 L218.08 75.47" fill="none" stroke="#000" stroke-width="0.6" stroke-opacity="1" stroke-linejoin="round"/>
<path d="M218.3 81.15 L215.24 78.57 L218.37 79.56 L215.94 81.63 L217.89 75.97 L217.78 76.62 L217.32 75.09 L219.08 74.48" fill="none" stroke="#000" stroke-width="0.6" stroke-opacity="1" stroke-linejoin="round"/>
<path d="M218.3 81.15 L215.75 79.88 L213.39 81.66 L209.63 79.93 L209.69 83.13 L209.56 83.15 L208.75 84.76 L208.46 83.07 L208.84 80.64" fill="none" stroke="#000" stroke-width="0.6" stroke-opacity="1" stroke-linejoin="round"/>
<path d="M218.3 81.15 L221.68 81.89 L220.2 84.17 L223.16 85.37 L220.68 85.93 L222.64 88.71" fill="none" stroke="#000" stroke-width="0.6" stroke-opacity="1" stroke-linejoin="round"/>
<path d="M218.3 81.15 L216.56 82.58 L215.56 82.35 L219.86 79.39 L219.95 80.1" fill="none" stroke="#000" stroke-width="0.6" stroke-opacity="1" stroke-linejoin="round"/>
<path d="M218.3 81.15 L216.5 79.73 L217.15 80.92 L215.15 78.41 L217.48 76.92 L218.95 76.08" fill="none" stroke="#000" stroke-width="0.6" stroke-opacity="1" stroke-linejoin="round"/>
<path d="M218.3 81.15 L220.44 81.14 L218.71 79.67 L218.18 79.14 L217.68 77.69" fill="none" stroke="#000" stroke-width="0.6" stroke-opacity="1" stroke-linejoin="round"/>
<path d="M218.3 81.15 L217.9 79.62 L219.48 80.76 L221.67 81.24 L221.9 79.78 L226.93 80.58 L225.4 79.29 L222.86 79.37 L221.79 75.48" fill="none" stroke="#000" stroke-width="0.6" stroke-opacity="1" stroke-linejoin="round"/>
<path d="M218.3 81.15 L217.85 81.55 L217.62 84.7 L218.54 82.73 L216.02 80.49 L215.02 84.09 L214.83 79.33" fill="none" stroke="#000" stroke-width="0.6" stroke-opacity="1" stroke-linejoin="round"/>
<path d="M218.3 81.15 L216.51 83.02 L216.05 85.72 L214.26 86.38 L213.84 85.2 L210.62 86.4 L212.95 83.22 L213.79 84.92 L210.69 83.01" fill="none" stroke="#000" stroke-width="0.6" stroke-opacity="1" stroke-linejoin="round"/>
<path d="M218.3 81.15 L216.63 81.6 L211.64 82.52 L209.77 84.64 L211.14 84.04" fill="none" stroke="#000" stroke-width="0.6" stroke-opacity="1" stroke-linejoin="round"/>
<path d="M218.3 81.15 L222.55 75.19 L225.01 75.58 L222.74 74.36 L219.66 69.25 L219.36 64.66 L219.38 61.18 L218.06 58.29 L214.9 55.8" fill="none" stroke="#2a2a2a" stroke-width="0.55" stroke-opacity="1" stroke-linejoin="round"/>
<circle cx="214.9" cy="55.8" r="1.15" fill="#000"/>
<path d="M218.3 81.15 L218.49 81.71 L217.49 79.83 L220.9 75.45 L220.17 69.58 L217.05 63.84 L214.94 61.33 L210.3 63.5" fill="none" stroke="#2a2a2a" stroke-width="0.55" stroke-opacity="1" stroke-linejoin="round"/>
<circle cx="210.3" cy="63.5" r="1.15" fill="#000"/>
<path d="M218.3 81.15 L212.65 79.86 L213.73 80.15 L216.99 81.83 L216.15 77.67 L211.55 76.74 L213.09 73.58 L214.41 71.09 L219.75 70.42 L223.89 69.72 L225.96 67.48 L228.64 63.98 L231.41 60.56 L234.9 60.4" fill="none" stroke="#2a2a2a" stroke-width="0.55" stroke-opacity="1" stroke-linejoin="round"/>
<circle cx="234.9" cy="60.4" r="1.15" fill="#000"/>
<path d="M218.3 81.15 L223.66 78.96 L224.59 81.74 L220.18 78.76 L221.75 78 L221.78 75.02 L227.09 72.13 L227.77 68.67 L231.1 64.2" fill="none" stroke="#2a2a2a" stroke-width="0.55" stroke-opacity="1" stroke-linejoin="round"/>
<circle cx="231.1" cy="64.2" r="1.15" fill="#000"/>
<path d="M218.3 81.15 L220.78 79.27 L220.81 81.65 L216.17 78.79 L213.59 78.24 L212.53 76.6 L216.81 75.44 L219.87 73.64 L225.19 74.53 L231.31 70.91 L232.63 70.11 L237.43 68.62 L238.41 71.67 L241.1 71.2" fill="none" stroke="#2a2a2a" stroke-width="0.55" stroke-opacity="1" stroke-linejoin="round"/>
<circle cx="241.1" cy="71.2" r="1.15" fill="#000"/>
<path d="M218.3 81.15 L219.01 82.27 L213.93 86.22 L209.12 82.49 L207.96 77.7 L207.31 72.55 L204.64 73.04 L200.3 71.2" fill="none" stroke="#2a2a2a" stroke-width="0.55" stroke-opacity="1" stroke-linejoin="round"/>
<circle cx="200.3" cy="71.2" r="1.15" fill="#000"/>
<path d="M218.3 81.15 L221.98 85.73 L224.56 84.83 L222.72 81.67 L224.8 86.5 L221.87 84.28 L218.95 85.16 L214.54 85.14 L209.98 84.01 L202.55 83.77 L201.1 86.5" fill="none" stroke="#2a2a2a" stroke-width="0.55" stroke-opacity="1" stroke-linejoin="round"/>
<circle cx="201.1" cy="86.5" r="1.15" fill="#000"/>
<path d="M218.3 81.15 L216.35 78.57 L216.03 79.25 L215.77 82.68 L216.83 81.15 L211.17 84.71 L209.2 83.72 L206.42 86.14 L203.4 90.4" fill="none" stroke="#2a2a2a" stroke-width="0.55" stroke-opacity="1" stroke-linejoin="round"/>
<circle cx="203.4" cy="90.4" r="1.15" fill="#000"/>
<path d="M218.3 81.15 L220.51 75.84 L215.17 78.93 L216.32 76.17 L212.5 79.44 L206.22 83.56 L204.79 85.57 L203.31 89.95 L201.38 93.85 L201.8 95.8" fill="none" stroke="#2a2a2a" stroke-width="0.55" stroke-opacity="1" stroke-linejoin="round"/>
<circle cx="201.8" cy="95.8" r="1.15" fill="#000"/>
<path d="M218.3 81.15 L218.43 76.67 L221.43 77.2 L221.12 77.96 L219.15 74.56 L220.55 78.72 L222.17 79.93 L221.4 80.71 L224.85 84.16 L229.74 89.81 L233.82 91.64 L234.9 95" fill="none" stroke="#2a2a2a" stroke-width="0.55" stroke-opacity="1" stroke-linejoin="round"/>
<circle cx="234.9" cy="95" r="1.15" fill="#000"/>
<path d="M218.3 81.15 L218.3 82.42 L210.84 81.97 L215 82.14 L214.98 85.89 L217.37 89.37 L216.62 91.95 L217.78 96.11 L224.13 97.96 L228.8 98.8" fill="none" stroke="#2a2a2a" stroke-width="0.55" stroke-opacity="1" stroke-linejoin="round"/>
<circle cx="228.8" cy="98.8" r="1.15" fill="#000"/>
<path d="M218.3 81.15 L221.68 76.38 L221.95 78.61 L219.19 85.64 L216.66 81.25 L217.28 87.49 L219.23 92.09 L219.37 96.95 L218.8 97.3" fill="none" stroke="#2a2a2a" stroke-width="0.55" stroke-opacity="1" stroke-linejoin="round"/>
<circle cx="218.8" cy="97.3" r="1.15" fill="#000"/>
<path d="M218.3 81.15 L220.17 85.44 L223.29 91.59 L228.94 89.7 L231.8 89.6" fill="none" stroke="#2a2a2a" stroke-width="0.55" stroke-opacity="1" stroke-linejoin="round"/>
<circle cx="231.8" cy="89.6" r="1.15" fill="#000"/>
<path d="M218.3 81.15 L215.58 80.47 L218.09 77.73 L223.97 81.23 L224.89 83.6 L231.1 82.7" fill="none" stroke="#2a2a2a" stroke-width="0.55" stroke-opacity="1" stroke-linejoin="round"/>
<circle cx="231.1" cy="82.7" r="1.15" fill="#000"/>
<path d="M218.3 81.15 L217.83 79 L217.88 77.03 L221.01 77.59 L220.73 75.61 L222.94 74.76 L225.35 70.43 L224.2 65" fill="none" stroke="#2a2a2a" stroke-width="0.55" stroke-opacity="1" stroke-linejoin="round"/>
<circle cx="224.2" cy="65" r="1.15" fill="#000"/>
<path d="M218.3 81.15 L216.03 80.67 L212.54 77.87 L217.71 81.51 L217.05 81.16 L212.45 87.06 L214.37 81.7 L216.68 76.04 L218.33 70.67 L217.95 68.09 L219.19 66.5 L218 66" fill="none" stroke="#2a2a2a" stroke-width="0.55" stroke-opacity="1" stroke-linejoin="round"/>
<circle cx="218" cy="66" r="1.15" fill="#000"/>
<path d="M218.3 81.15 L219.25 79.98 L217.11 82.1 L223.87 78.27 L225.27 79.1 L219.17 78.03 L215.84 78.99 L210.85 83.07 L210.88 81.75 L208.97 86.91 L206.33 91.75 L204 91.3" fill="none" stroke="#2a2a2a" stroke-width="0.55" stroke-opacity="1" stroke-linejoin="round"/>
<circle cx="204" cy="91.3" r="1.15" fill="#000"/>
<path d="M218.3 81.15 L217.4 82.73 L217.21 82.38 L220.34 84.6 L218.97 88.83 L218.04 92.19 L215.7 94.2" fill="none" stroke="#2a2a2a" stroke-width="0.55" stroke-opacity="1" stroke-linejoin="round"/>
<circle cx="215.7" cy="94.2" r="1.15" fill="#000"/>
<path d="M218.3 81.15 L218.33 72.72 L220.3 73.22 L220.02 76.53 L218.8 80.14 L216.39 83.96 L216.08 85.04 L219.02 91.42 L218.6 97.4" fill="none" stroke="#2a2a2a" stroke-width="0.55" stroke-opacity="1" stroke-linejoin="round"/>
<circle cx="218.6" cy="97.4" r="1.15" fill="#000"/>
<path d="M218.3 81.15 L220.84 78.16 L220.28 78.18 L218.38 79.44 L219.72 88.51 L219.41 88.35 L219.61 90.7 L218.57 93.77 L218.6 100.6" fill="none" stroke="#2a2a2a" stroke-width="0.55" stroke-opacity="1" stroke-linejoin="round"/>
<circle cx="218.6" cy="100.6" r="1.15" fill="#000"/>
<path d="M218.3 81.15 L212.16 81.34 L222.5 81.75 L217.62 81.2 L215.87 85.56 L213.69 84.86 L217.82 88.79 L221.23 90.22 L223.33 90.62 L225.14 97.15 L228.6 99.3" fill="none" stroke="#2a2a2a" stroke-width="0.55" stroke-opacity="1" stroke-linejoin="round"/>
<circle cx="228.6" cy="99.3" r="1.15" fill="#000"/>
<path d="M218.3 81.15 L219.73 79.55 L219.54 76.9 L221.2 81.02 L220.92 82.68 L225.52 87.04 L227.49 88.62 L232.1 91.6" fill="none" stroke="#2a2a2a" stroke-width="0.55" stroke-opacity="1" stroke-linejoin="round"/>
<circle cx="232.1" cy="91.6" r="1.15" fill="#000"/>
<path d="M218.3 81.15 L216.8 74.17 L222.34 75.23 L226.7 77.48 L230.71 80.42 L232.12 82.89 L229.88 87.5 L231.33 92.04 L235.3 95.1" fill="none" stroke="#2a2a2a" stroke-width="0.55" stroke-opacity="1" stroke-linejoin="round"/>
<circle cx="235.3" cy="95.1" r="1.15" fill="#000"/>
<path d="M218.3 81.15 L214.86 79.83 L212.08 86.24 L215.24 82.48 L217.23 82.21 L214.93 80.98 L211.57 75.95 L213.17 70.55 L208.41 67.58 L205 67" fill="none" stroke="#2a2a2a" stroke-width="0.55" stroke-opacity="1" stroke-linejoin="round"/>
<circle cx="205" cy="67" r="1.15" fill="#000"/>
<path d="M218.3 81.15 L220.68 85.65 L217.62 83.06 L220.05 84.61 L212.24 83.29 L215.11 82.29 L217.06 78.94 L219.22 78.99 L222.5 79.95 L230.18 77.77 L232.76 75.7 L238 78" fill="none" stroke="#2a2a2a" stroke-width="0.55" stroke-opacity="1" stroke-linejoin="round"/>
<circle cx="238" cy="78" r="1.15" fill="#000"/>
<path d="M218.3 81.15 L212.77 87.05 L216.78 83.65 L211.91 82.63 L206.96 83.26 L203.13 79.26 L200.59 78.79 L199 80" fill="none" stroke="#2a2a2a" stroke-width="0.55" stroke-opacity="1" stroke-linejoin="round"/>
<circle cx="199" cy="80" r="1.15" fill="#000"/>
<path d="M218.3 81.15 L217.35 86.43 L220.65 88.27 L220.73 86.57 L223.07 80.06 L223.5 74.63 L221.38 72.5 L224.47 69.94 L222.94 64.9 L226 62" fill="none" stroke="#2a2a2a" stroke-width="0.55" stroke-opacity="1" stroke-linejoin="round"/>
<circle cx="226" cy="62" r="1.15" fill="#000"/>
<path d="M218.3 81.15 L218.74 75.15 L216.6 77.5 L218.23 83.03 L217.46 84.86 L219.88 81.81 L217.12 76.7 L217.39 74.89 L215.06 73.85 L213.89 67.68 L211.85 64.09 L212 60" fill="none" stroke="#2a2a2a" stroke-width="0.55" stroke-opacity="1" stroke-linejoin="round"/>
<circle cx="212" cy="60" r="1.15" fill="#000"/>
<path d="M212 90 L208.8 92.1 L201.4 96.1 L202 98 L202.5 108.5 L204.6 112.2 L200.9 114.3 L196.6 117 L190.8 114.9 L194 109 L197.7 111.2 L198.8 105.9 L197.7 98" fill="none" stroke="#444" stroke-width="0.6" stroke-opacity="1" stroke-linejoin="round"/>
<path d="M221 95 L221 101.6 L230.5 105.3 L225.2 107 L219.9 112.8 L216.7 113.8 L213.6 112.2 L212 111.7 L209.9 118.6" fill="none" stroke="#222" stroke-width="0.6" stroke-opacity="1" stroke-linejoin="round"/>
<circle cx="209.9" cy="118.6" r="1.25" fill="#000"/>
<path d="M219.5 112.5 L216 113.6 L214 112.4 L216.5 113 L218.5 112.6" fill="none" stroke="#000" stroke-width="0.6" stroke-opacity="1" stroke-linejoin="round"/>
<rect x="168.1" y="30.8" width="100.4" height="100.7" fill="none" stroke="#000" stroke-width="1.4"/>
<line x1="165.1" y1="131.5" x2="168.1" y2="131.5" stroke="#000" stroke-width="1.2"/>
<text transform="translate(161.5 133.5) scale(0.95 1)" font-size="8.3" text-anchor="end" fill="#111">−150</text>
<line x1="168.1" y1="131.5" x2="168.1" y2="134.5" stroke="#000" stroke-width="1.2"/>
<text transform="translate(171.3 142) rotate(-45) scale(0.95 1)" font-size="8.3" text-anchor="end" fill="#111">−150</text>
<line x1="165.1" y1="114.72" x2="168.1" y2="114.72" stroke="#000" stroke-width="1.2"/>
<text transform="translate(161.5 116.72) scale(0.95 1)" font-size="8.3" text-anchor="end" fill="#111">−100</text>
<line x1="184.83" y1="131.5" x2="184.83" y2="134.5" stroke="#000" stroke-width="1.2"/>
<text transform="translate(188.03 142) rotate(-45) scale(0.95 1)" font-size="8.3" text-anchor="end" fill="#111">−100</text>
<line x1="165.1" y1="97.93" x2="168.1" y2="97.93" stroke="#000" stroke-width="1.2"/>
<text transform="translate(161.5 99.93) scale(0.95 1)" font-size="8.3" text-anchor="end" fill="#111">−50</text>
<line x1="201.57" y1="131.5" x2="201.57" y2="134.5" stroke="#000" stroke-width="1.2"/>
<text transform="translate(204.77 142) rotate(-45) scale(0.95 1)" font-size="8.3" text-anchor="end" fill="#111">−50</text>
<line x1="165.1" y1="81.15" x2="168.1" y2="81.15" stroke="#000" stroke-width="1.2"/>
<text transform="translate(161.5 83.15) scale(0.95 1)" font-size="8.3" text-anchor="end" fill="#111">0</text>
<line x1="218.3" y1="131.5" x2="218.3" y2="134.5" stroke="#000" stroke-width="1.2"/>
<text transform="translate(221.5 142) rotate(-45) scale(0.95 1)" font-size="8.3" text-anchor="end" fill="#111">0</text>
<line x1="165.1" y1="64.37" x2="168.1" y2="64.37" stroke="#000" stroke-width="1.2"/>
<text transform="translate(161.5 66.37) scale(0.95 1)" font-size="8.3" text-anchor="end" fill="#111">50</text>
<line x1="235.03" y1="131.5" x2="235.03" y2="134.5" stroke="#000" stroke-width="1.2"/>
<text transform="translate(238.23 142) rotate(-45) scale(0.95 1)" font-size="8.3" text-anchor="end" fill="#111">50</text>
<line x1="165.1" y1="47.58" x2="168.1" y2="47.58" stroke="#000" stroke-width="1.2"/>
<text transform="translate(161.5 49.58) scale(0.95 1)" font-size="8.3" text-anchor="end" fill="#111">100</text>
<line x1="251.77" y1="131.5" x2="251.77" y2="134.5" stroke="#000" stroke-width="1.2"/>
<text transform="translate(254.97 142) rotate(-45) scale(0.95 1)" font-size="8.3" text-anchor="end" fill="#111">100</text>
<line x1="165.1" y1="30.8" x2="168.1" y2="30.8" stroke="#000" stroke-width="1.2"/>
<text transform="translate(161.5 32.8) scale(0.95 1)" font-size="8.3" text-anchor="end" fill="#111">150</text>
<line x1="268.5" y1="131.5" x2="268.5" y2="134.5" stroke="#000" stroke-width="1.2"/>
<text transform="translate(271.7 142) rotate(-45) scale(0.95 1)" font-size="8.3" text-anchor="end" fill="#111">150</text>
<text x="265.6" y="42.2" font-size="7.55" text-anchor="end" fill="#111"><tspan font-style="italic">P</tspan> = .553</text>
<text x="219" y="25.6" font-size="9.3" text-anchor="middle">12 hr</text>
<text x="275.7" y="55.8" font-size="8.2" text-anchor="start">FVIII</text>
<text x="275.7" y="106" font-size="8.2" text-anchor="start">Influenza</text>
<line x1="364.5" y1="31.1" x2="364.5" y2="132.6" stroke="#e0e0e0" stroke-width="0.9"/>
<line x1="348" y1="115.5" x2="449" y2="115.5" stroke="#e0e0e0" stroke-width="0.9"/>
<line x1="381.5" y1="31.1" x2="381.5" y2="132.6" stroke="#e0e0e0" stroke-width="0.9"/>
<line x1="348" y1="98.5" x2="449" y2="98.5" stroke="#e0e0e0" stroke-width="0.9"/>
<line x1="415.5" y1="31.1" x2="415.5" y2="132.6" stroke="#e0e0e0" stroke-width="0.9"/>
<line x1="348" y1="64.5" x2="449" y2="64.5" stroke="#e0e0e0" stroke-width="0.9"/>
<line x1="432.5" y1="31.1" x2="432.5" y2="132.6" stroke="#e0e0e0" stroke-width="0.9"/>
<line x1="348" y1="48.5" x2="449" y2="48.5" stroke="#e0e0e0" stroke-width="0.9"/>
<line x1="398.5" y1="31.1" x2="398.5" y2="132.6" stroke="#909090" stroke-width="1.0"/>
<line x1="348" y1="81.5" x2="449" y2="81.5" stroke="#909090" stroke-width="1.0"/>
<path d="M398.5 81.85 L397.79 77.26 L396.95 79.09 L397.91 81.27 L399.42 75.2 L399.01 77.45 L402.89 75.31 L403.51 76.54" fill="none" stroke="#000" stroke-width="0.62" stroke-opacity="1" stroke-linejoin="round"/>
<path d="M398.5 81.85 L398.77 84.19 L401.74 78.83 L405.9 82.34 L404.66 84.87 L406.95 86.36 L411.22 86.45 L414.74 86.31 L409.46 89.98 L406.01 90.82 L403.1 88.77" fill="none" stroke="#000" stroke-width="0.62" stroke-opacity="1" stroke-linejoin="round"/>
<path d="M398.5 81.85 L397.9 77.98 L399.67 73.2 L398.16 75.89 L402.23 76.3 L406.44 75.6 L403.27 76.34 L407.17 75.39 L403.34 76.26" fill="none" stroke="#000" stroke-width="0.62" stroke-opacity="1" stroke-linejoin="round"/>
<path d="M398.5 81.85 L400.71 81.5 L399.25 80.27 L401.34 78.59 L402.59 80.84 L400.9 85.35 L400.72 79.71 L401.88 80.58 L396.05 82.08 L397.98 82.39" fill="none" stroke="#000" stroke-width="0.62" stroke-opacity="1" stroke-linejoin="round"/>
<path d="M398.5 81.85 L396.48 79.51 L392.7 81.2 L393.34 80.79 L394.46 79.95 L394.76 75.78 L396.18 81.07 L397.65 81.74 L398.22 82.66 L397.92 83.34 L398.5 83.32" fill="none" stroke="#000" stroke-width="0.62" stroke-opacity="1" stroke-linejoin="round"/>
<path d="M398.5 81.85 L401.35 80.55 L402.74 81.06 L400.11 80.12 L404.22 80.46 L402.9 81.93 L402.13 85.94" fill="none" stroke="#000" stroke-width="0.62" stroke-opacity="1" stroke-linejoin="round"/>
<path d="M398.5 81.85 L400.59 81.68 L398.74 80.4 L402.17 76.87 L399.03 75.09 L396.57 76.41" fill="none" stroke="#000" stroke-width="0.62" stroke-opacity="1" stroke-linejoin="round"/>
<path d="M398.5 81.85 L397.44 80.94 L396.24 83.87 L394.4 83.74 L393.16 85.37 L393.93 85.46 L393.19 85.19 L391.91 87.53 L392.28 87.53 L390.76 85.32 L390.47 81.49 L390.12 78.36 L391.43 80.61" fill="none" stroke="#000" stroke-width="0.62" stroke-opacity="1" stroke-linejoin="round"/>
<path d="M398.5 81.85 L398.27 84.75 L399.45 81.53 L402.05 78.43 L401.66 78.98 L395 80.87 L394.43 79.02 L399.92 80.69 L400.2 81.72 L400.56 83.21 L400.85 82.65 L398.13 83.22" fill="none" stroke="#000" stroke-width="0.62" stroke-opacity="1" stroke-linejoin="round"/>
<path d="M398.5 81.85 L399.53 82.49 L394.75 79.9 L394.67 82.48 L394.73 80.4 L391.86 78.3 L394.7 76.66 L396.72 74.56 L394.4 73.77 L397.68 72.81 L397.33 72.08 L396.18 75.21 L394.77 75.42" fill="none" stroke="#000" stroke-width="0.62" stroke-opacity="1" stroke-linejoin="round"/>
<path d="M398.5 81.85 L401.98 85.38 L400.49 88.5 L401.28 92.43 L400.25 93 L399.05 93.51 L403.33 93.76 L399.79 91.12" fill="none" stroke="#000" stroke-width="0.62" stroke-opacity="1" stroke-linejoin="round"/>
<path d="M398.5 81.85 L396.46 84.59 L397.97 88.13 L399.34 90.79 L396.43 91.43 L396.69 86.35 L401.84 87.09 L399.22 84.32 L399.78 86.06 L398.31 86.71 L396.1 86.55 L395.82 86.65" fill="none" stroke="#000" stroke-width="0.62" stroke-opacity="1" stroke-linejoin="round"/>
<path d="M398.5 81.85 L401.67 80.91 L401.1 78.81 L396.98 76.32 L398.14 77.33 L396.55 77.54 L396.71 76.64 L402.31 80.24 L402.44 83.51" fill="none" stroke="#000" stroke-width="0.62" stroke-opacity="1" stroke-linejoin="round"/>
<path d="M398.5 81.85 L397.75 83.35 L395.99 80.75 L393.52 79.99 L397.11 81.27 L398.37 85.01 L396.42 83.11 L394.72 83.45 L398.2 84.73 L398.25 81.6" fill="none" stroke="#000" stroke-width="0.62" stroke-opacity="1" stroke-linejoin="round"/>
<path d="M398.5 81.85 L400.94 82.35 L404.44 79.28 L396.9 80.94 L397.24 80.24 L396.1 79.53" fill="none" stroke="#000" stroke-width="0.62" stroke-opacity="1" stroke-linejoin="round"/>
<path d="M398.5 81.85 L400.15 83.07 L399.2 81.23 L401.35 79.53 L401.61 80.76 L398.94 83.03" fill="none" stroke="#000" stroke-width="0.62" stroke-opacity="1" stroke-linejoin="round"/>
<path d="M398.5 81.85 L400.94 82.93 L399.14 79.95 L401.63 81.04 L397.64 82.48 L401.14 82.22 L401 81.02 L398.36 83.43 L404.72 83.51 L403.31 85.24 L401.46 86.81 L402.36 84.14 L398.65 83.77" fill="none" stroke="#000" stroke-width="0.62" stroke-opacity="1" stroke-linejoin="round"/>
<circle cx="398.65" cy="83.77" r="1.1" fill="#000"/>
<path d="M398.5 81.85 L395.42 81.83 L396.93 83.22 L400.69 86.99 L399.44 87.08 L398.36 89.58 L397.65 86.24 L398.97 84.59 L395.76 85.96 L396.07 90.83" fill="none" stroke="#000" stroke-width="0.62" stroke-opacity="1" stroke-linejoin="round"/>
<circle cx="396.07" cy="90.83" r="1.1" fill="#000"/>
<path d="M398.5 81.85 L398.16 86.33 L399.92 83.85 L394.99 86.17 L390.85 88.6 L394.02 90.22 L394.19 90.3 L395.49 90.25 L394.88 90.03 L398.39 89.21 L399.98 87.1 L398.94 84.46 L399.14 86.79" fill="none" stroke="#000" stroke-width="0.62" stroke-opacity="1" stroke-linejoin="round"/>
<path d="M398.5 81.85 L397.3 81.65 L397.3 83.75 L397.38 85.96 L401.69 86.66 L398.73 83.62 L400.66 86.24" fill="none" stroke="#000" stroke-width="0.62" stroke-opacity="1" stroke-linejoin="round"/>
<circle cx="400.66" cy="86.24" r="1.1" fill="#000"/>
<path d="M398.5 81.85 L401.18 78.33 L399.64 74.14 L398.45 75.58 L396.32 74.7 L399.33 73.1 L399.67 79.46 L398.51 80.39 L397.11 83.56" fill="none" stroke="#000" stroke-width="0.62" stroke-opacity="1" stroke-linejoin="round"/>
<path d="M398.5 81.85 L400.7 81.24 L400.5 81.77 L400.3 89.08 L397.35 91.85 L397.13 91.19 L400.28 91.12 L398.27 92.05 L398.71 87 L400.11 84.38 L399.23 85.47" fill="none" stroke="#000" stroke-width="0.62" stroke-opacity="1" stroke-linejoin="round"/>
<path d="M398.5 81.85 L396.77 80.9 L395.89 80.41 L397.67 80.48 L399.01 82.26 L400.24 84.37 L398.15 84.69 L397.49 85.66 L399.86 81.76" fill="none" stroke="#000" stroke-width="0.62" stroke-opacity="1" stroke-linejoin="round"/>
<path d="M398.5 81.85 L396.84 78.8 L394.84 80.98 L395.03 83.18 L396.67 84.64 L398.66 82.43 L400.16 80.89 L398.45 83.02" fill="none" stroke="#000" stroke-width="0.62" stroke-opacity="1" stroke-linejoin="round"/>
<path d="M398.5 81.85 L398.15 82.43 L399.88 82.33 L401.3 82.7 L399.45 80.88 L399.82 82.87 L401.96 82.12 L404.19 80.22 L397.48 76.44 L401.15 72.99 L399.63 71.34 L400.89 70.75 L405.36 70.96" fill="none" stroke="#000" stroke-width="0.62" stroke-opacity="1" stroke-linejoin="round"/>
<path d="M398.5 81.85 L397.9 83.59 L399.97 86.67 L400.91 85.23 L401.14 86.67 L400.93 85.69 L400.53 82.7 L398.52 83.11" fill="none" stroke="#000" stroke-width="0.62" stroke-opacity="1" stroke-linejoin="round"/>
<circle cx="398.52" cy="83.11" r="1.1" fill="#000"/>
<path d="M398.5 81.85 L401.99 82.11 L400.48 77.2 L398.12 80.39 L392.79 81.11 L398.85 80.88 L396.81 81.6" fill="none" stroke="#000" stroke-width="0.62" stroke-opacity="1" stroke-linejoin="round"/>
<circle cx="396.81" cy="81.6" r="1.1" fill="#000"/>
<path d="M398.5 81.85 L395.72 83.01 L392.6 84.54 L399.02 82.91 L396.37 82.98 L397.42 83.38 L397.92 81.07 L398.53 84.06" fill="none" stroke="#000" stroke-width="0.62" stroke-opacity="1" stroke-linejoin="round"/>
<circle cx="398.53" cy="84.06" r="1.1" fill="#000"/>
<path d="M398.5 81.85 L399.73 78.35 L401.81 80.65 L399.69 81.97 L402.08 81.29 L400.79 80.07" fill="none" stroke="#000" stroke-width="0.62" stroke-opacity="1" stroke-linejoin="round"/>
<path d="M398.5 81.85 L396.97 77.88 L399.62 79.29 L395.47 77.69 L402.34 72.09 L401.95 77.32 L407.12 78.09 L406.06 79.37" fill="none" stroke="#000" stroke-width="0.62" stroke-opacity="1" stroke-linejoin="round"/>
<circle cx="406.06" cy="79.37" r="1.1" fill="#000"/>
<path d="M398.5 81.85 L399.74 79.74 L403.43 77.77 L405.83 79.08 L401.95 81.39 L401.19 79.29 L395.67 83.65 L395.07 87.51 L394.92 84.11" fill="none" stroke="#000" stroke-width="0.62" stroke-opacity="1" stroke-linejoin="round"/>
<path d="M398.5 81.85 L399.81 87.4 L397.57 85.52 L397.29 85.75 L397.94 85.41 L396.97 83.88" fill="none" stroke="#000" stroke-width="0.62" stroke-opacity="1" stroke-linejoin="round"/>
<circle cx="396.97" cy="83.88" r="1.1" fill="#000"/>
<path d="M398.5 81.85 L399.79 86.94 L396.47 88.89 L395.83 90.88 L393.41 89.38 L394.66 88.12 L393.23 89.61 L393.66 91.87 L395.01 87.39 L396.37 87.1" fill="none" stroke="#000" stroke-width="0.62" stroke-opacity="1" stroke-linejoin="round"/>
<path d="M398.5 81.85 L397.53 82.37 L400.07 83.87 L401.46 84.74 L407.02 83.28 L405.94 80.84 L401.81 81.22 L399.98 81.33" fill="none" stroke="#000" stroke-width="0.62" stroke-opacity="1" stroke-linejoin="round"/>
<path d="M398.5 81.85 L402.53 83.37 L397.55 85.44 L396.1 88.16 L395.38 86.28 L392.59 85.67 L395.96 83.96 L392.41 89.03 L397.78 90.61 L397.41 87.6 L394.39 88.85 L398.44 86.21" fill="none" stroke="#000" stroke-width="0.62" stroke-opacity="1" stroke-linejoin="round"/>
<path d="M398.5 81.85 L400.13 84.66 L403.17 84.74 L403.23 82.27 L406.25 81.75 L405.09 82.68 L403.44 80.93 L403.14 85.27 L403.06 87.3 L399.95 83.37" fill="none" stroke="#000" stroke-width="0.62" stroke-opacity="1" stroke-linejoin="round"/>
<path d="M398.5 81.85 L396.38 84.04 L395.6 82.03 L390.43 78.93 L391.81 81.22 L393.81 79.99 L390.07 77.47 L392.86 73.61 L397.13 70.81 L394.68 71.74" fill="none" stroke="#000" stroke-width="0.62" stroke-opacity="1" stroke-linejoin="round"/>
<path d="M398.5 81.85 L399.12 79.42 L401.35 78.67 L403.09 80.1 L400.43 85.1 L404.2 83.66 L402.21 83.09 L403.08 84.34 L402.68 84.45 L405.79 82.55 L401.74 82.38 L402.33 79.96 L404.9 77.01" fill="none" stroke="#000" stroke-width="0.62" stroke-opacity="1" stroke-linejoin="round"/>
<path d="M398.5 81.85 L399.32 82.31 L401.54 80.62 L398.67 86.52 L399.21 89.55 L402.78 92.07 L403.6 89.49 L400.44 93.03 L402.8 95.59 L399.51 91.61 L397.68 89.92 L398.79 88.63 L403.34 88.3" fill="none" stroke="#000" stroke-width="0.62" stroke-opacity="1" stroke-linejoin="round"/>
<path d="M398.5 81.85 L396.64 80.95 L395.6 80.15 L393.34 81.44 L392.74 81.74 L396.74 82 L396.63 84.7 L397.01 84.37" fill="none" stroke="#000" stroke-width="0.62" stroke-opacity="1" stroke-linejoin="round"/>
<circle cx="397.01" cy="84.37" r="1.1" fill="#000"/>
<path d="M398.5 81.85 L399.84 85.77 L399.09 83.71 L402.56 81.41 L401.53 77.66 L397.65 74.41 L399.47 78.16 L397.65 75.75" fill="none" stroke="#000" stroke-width="0.62" stroke-opacity="1" stroke-linejoin="round"/>
<path d="M398.5 81.85 L397.08 79.62 L395.1 80.75 L398.7 77.98 L397.91 80.45 L399.57 81.17 L400.83 84.83 L401.74 82.72 L404.25 81.91 L406.63 87.21" fill="none" stroke="#000" stroke-width="0.62" stroke-opacity="1" stroke-linejoin="round"/>
<path d="M398.5 81.85 L400 82.63 L398.56 80.62 L397.11 83.09 L398.13 87.09 L399.47 91.35 L400.72 88.1 L405.11 88.57 L408.15 88.74 L407.48 88.8 L404.86 85.52 L402.81 83.87 L399.62 83.26" fill="none" stroke="#000" stroke-width="0.62" stroke-opacity="1" stroke-linejoin="round"/>
<circle cx="399.62" cy="83.26" r="1.1" fill="#000"/>
<path d="M398.5 81.85 L399.64 80.32 L399.3 77.77 L398.02 71.29 L402.04 73.33 L400.93 74.1 L405.41 74.76 L407.64 74.33 L407.91 74.2 L408.89 74.47 L405.8 73.8" fill="none" stroke="#000" stroke-width="0.62" stroke-opacity="1" stroke-linejoin="round"/>
<circle cx="405.8" cy="73.8" r="1.1" fill="#000"/>
<path d="M398.5 81.85 L398.64 76.44 L402.38 75.18 L402.45 74.97 L402.79 76.03 L405.64 73.68 L404.54 72.93 L403.85 74.78 L398.88 69.75 L398.86 71.13" fill="none" stroke="#000" stroke-width="0.62" stroke-opacity="1" stroke-linejoin="round"/>
<circle cx="398.86" cy="71.13" r="1.1" fill="#000"/>
<path d="M398.5 81.85 L396.05 82.59 L394.01 84.49 L392.38 87.06 L390.69 89.44 L392.05 87.63 L397.12 92.86 L396.62 91.4 L396.51 90.02 L398.24 87.16 L393.57 88.28 L395.69 89.9 L393.14 90.92" fill="none" stroke="#000" stroke-width="0.62" stroke-opacity="1" stroke-linejoin="round"/>
<circle cx="393.14" cy="90.92" r="1.1" fill="#000"/>
<path d="M398.5 81.85 L399.29 82 L400.56 85.08 L400.84 85.16 L403.48 81.17 L403.28 81.19 L406.17 79.05 L408.69 79.85 L405.52 76.03 L402.49 76.23 L403.53 77.87 L406.09 76.35" fill="none" stroke="#000" stroke-width="0.62" stroke-opacity="1" stroke-linejoin="round"/>
<circle cx="406.09" cy="76.35" r="1.1" fill="#000"/>
<path d="M398.5 81.85 L401.37 76.34 L400.59 73.71 L397.19 73.5 L395.63 72.09 L392.43 73.41 L397.28 77.87 L393.18 76.84 L392.11 78.89 L391.47 80.6 L395.14 77.29 L399.44 78.47 L396.14 81.25" fill="none" stroke="#000" stroke-width="0.62" stroke-opacity="1" stroke-linejoin="round"/>
<path d="M398.5 81.85 L397.99 86.98 L397.27 86.75 L394.03 86.96 L399.18 84.34 L398.54 83.27" fill="none" stroke="#000" stroke-width="0.62" stroke-opacity="1" stroke-linejoin="round"/>
<path d="M398.5 81.85 L399.75 84.91 L401.1 89.13 L406.05 87.6 L405.37 87.01 L404.84 84.7 L405.62 84.79 L401.39 83.81 L402.17 84.59 L400.48 84.74 L398.69 81.17 L397.27 80.35 L397.18 82.19" fill="none" stroke="#000" stroke-width="0.62" stroke-opacity="1" stroke-linejoin="round"/>
<path d="M398.5 81.85 L397.31 83.72 L398.84 88.96 L400.13 90 L399.47 88.56 L396.49 84.75" fill="none" stroke="#000" stroke-width="0.62" stroke-opacity="1" stroke-linejoin="round"/>
<path d="M398.5 81.85 L401.04 83.43 L399.22 86.29 L401.29 87.05 L405.86 89.35 L407.46 86.1 L406.17 88.32" fill="none" stroke="#000" stroke-width="0.62" stroke-opacity="1" stroke-linejoin="round"/>
<circle cx="406.17" cy="88.32" r="1.1" fill="#000"/>
<path d="M398.5 81.85 L397.35 83.3 L396.07 86.99 L394.34 84.31 L395.45 81.68 L401.1 81 L402.56 82.19 L402.1 79.57 L399.03 83.53" fill="none" stroke="#000" stroke-width="0.62" stroke-opacity="1" stroke-linejoin="round"/>
<circle cx="399.03" cy="83.53" r="1.1" fill="#000"/>
<path d="M398.5 81.85 L401.05 82.3 L397.49 84.03 L399.08 84.13 L401.49 86.89 L401.44 82.77 L403.17 82.17 L400.15 79.41 L405.31 81.82 L406.71 79.45" fill="none" stroke="#000" stroke-width="0.62" stroke-opacity="1" stroke-linejoin="round"/>
<path d="M398.5 81.85 L399.13 78.67 L402.64 76.92 L401.57 77.79 L402.64 76.95 L401.05 76.34" fill="none" stroke="#000" stroke-width="0.62" stroke-opacity="1" stroke-linejoin="round"/>
<path d="M398.5 81.85 L400.95 83.58 L399.82 86.21 L397.7 86.63 L397.32 86.48 L399.16 86.18 L398.78 85.29 L402.58 86.2 L402.32 82.04" fill="none" stroke="#000" stroke-width="0.62" stroke-opacity="1" stroke-linejoin="round"/>
<path d="M398.5 81.85 L397.9 83.27 L401.06 83.43 L400.93 84.8 L403.81 83.49 L400.12 81 L396.35 78.28 L395.43 78.63 L395.21 78.29 L393.69 78.85 L395.29 80.24 L398.41 79.01" fill="none" stroke="#000" stroke-width="0.62" stroke-opacity="1" stroke-linejoin="round"/>
<path d="M398.5 81.85 L398.03 78.54 L398.9 81.76 L404.07 85.08 L399.13 82.67 L398.17 83.08 L399.05 83.07 L396.39 83.4 L397.14 81.34 L398.65 81.62" fill="none" stroke="#000" stroke-width="0.62" stroke-opacity="1" stroke-linejoin="round"/>
<circle cx="398.65" cy="81.62" r="1.1" fill="#000"/>
<path d="M398.5 81.85 L396.59 79.39 L396.21 79.16 L397.58 77.77 L394.63 74 L393.71 73.78 L397.5 73.12 L400.82 76.68 L397.12 78.59 L398.89 80.84" fill="none" stroke="#000" stroke-width="0.62" stroke-opacity="1" stroke-linejoin="round"/>
<path d="M398.5 81.85 L399.52 82.26 L399.91 81.79 L395.32 84.49 L397.2 86.84 L395.62 87.1 L395.34 87.77 L395.32 88.05 L396.57 85.47" fill="none" stroke="#000" stroke-width="0.62" stroke-opacity="1" stroke-linejoin="round"/>
<path d="M398.5 81.85 L399.86 82.91 L398.89 81.05 L400.29 82.2 L400.42 83.02 L398.54 82.7 L399.99 82.89 L393.52 83.24 L391.91 82.13 L391.91 85.41 L386.54 82.69 L390.64 80.75 L394.55 83.79" fill="none" stroke="#000" stroke-width="0.62" stroke-opacity="1" stroke-linejoin="round"/>
<path d="M398.5 81.85 L402.91 85.25 L404.63 80.44 L405.83 81.85 L404.56 84.19 L401.27 86.97 L402.46 88.31 L401.57 88.61 L398.87 89.59" fill="none" stroke="#000" stroke-width="0.62" stroke-opacity="1" stroke-linejoin="round"/>
<path d="M398.5 81.85 L396.83 77.71 L401.05 77.28 L402.26 72.47 L404.48 73.14 L401.2 75.38" fill="none" stroke="#000" stroke-width="0.62" stroke-opacity="1" stroke-linejoin="round"/>
<path d="M398.5 81.85 L395.6 83.42 L395.12 81.24 L396.11 78.32 L397.58 78.53 L404.17 81.37 L402.32 82.42 L403.8 84.64" fill="none" stroke="#000" stroke-width="0.62" stroke-opacity="1" stroke-linejoin="round"/>
<circle cx="403.8" cy="84.64" r="1.1" fill="#000"/>
<path d="M398.5 81.85 L399.2 83.47 L393.53 81.82 L386.18 80.99 L385.31 78.58 L386.56 75.92 L389.71 74.7 L391.06 79.79 L390.34 80.88 L388.69 82.77 L391.48 81.91 L394.34 84.69 L398.15 83.48" fill="none" stroke="#000" stroke-width="0.62" stroke-opacity="1" stroke-linejoin="round"/>
<path d="M398.5 81.85 L395.79 80.85 L397.79 79.69 L399.14 86.52 L393.12 87.2 L393.56 86.45 L390.84 84.77 L390.1 85.86" fill="none" stroke="#000" stroke-width="0.62" stroke-opacity="1" stroke-linejoin="round"/>
<path d="M398.5 81.85 L401.28 75.99 L399.35 80.88 L397.44 80.29 L397.22 78.66 L398.05 77.85 L395.25 83.14 L395.81 80.21 L389.81 78.28" fill="none" stroke="#000" stroke-width="0.62" stroke-opacity="1" stroke-linejoin="round"/>
<path d="M398.5 81.85 L398.91 79.34 L399.43 78.88 L397.77 76.27 L397.85 73.75 L399.67 74.27 L402.64 78.8 L398.31 77.77 L396.8 80.19" fill="none" stroke="#000" stroke-width="0.62" stroke-opacity="1" stroke-linejoin="round"/>
<path d="M398.5 81.85 L397.21 81.93 L395.81 80.04 L399.36 82.28 L398.35 80.82 L398.12 81.62" fill="none" stroke="#000" stroke-width="0.62" stroke-opacity="1" stroke-linejoin="round"/>
<path d="M398.5 81.85 L399.35 80.54 L396.9 84.44 L398.21 82.87 L399.27 81.88 L399.48 77.26 L404.23 75.11 L398.49 78.51 L398.65 82.23" fill="none" stroke="#000" stroke-width="0.62" stroke-opacity="1" stroke-linejoin="round"/>
<path d="M398.5 81.85 L401.75 81.3 L399.52 84.99 L398.26 86.2 L397.97 86.87 L397.49 86.16 L393.29 91.46 L393.97 87.35 L391.92 85.2 L390.28 79.56 L391.87 84.2 L391.44 86.64 L393.09 84.2" fill="none" stroke="#000" stroke-width="0.62" stroke-opacity="1" stroke-linejoin="round"/>
<path d="M398.5 81.85 L399.33 79.19 L399.58 78.09 L401.06 78.98 L398.22 80.07 L400.89 80.25" fill="none" stroke="#000" stroke-width="0.62" stroke-opacity="1" stroke-linejoin="round"/>
<path d="M398.5 81.85 L398.79 81.19 L403.93 77.74 L404.35 78.75 L401.24 77.63 L397.84 78.24 L396.86 78.27 L397.22 78.21 L399.23 79.3" fill="none" stroke="#000" stroke-width="0.62" stroke-opacity="1" stroke-linejoin="round"/>
<path d="M398.5 81.85 L395.45 81.34 L396.29 76.25 L392.51 78.54 L389.44 80.8 L388.07 81.54 L389.36 82.05 L391.11 82.01 L392.13 85.44 L396.61 83.63 L398.3 85.88" fill="none" stroke="#000" stroke-width="0.62" stroke-opacity="1" stroke-linejoin="round"/>
<path d="M398.5 81.85 L399.58 83.55 L398.57 83.4 L397.36 82.46 L397.25 85.53 L393.35 85.15 L397.32 86.37 L397.72 88.86 L395.3 86.35 L391.28 83.25 L391.91 85.76 L390.93 84.55" fill="none" stroke="#000" stroke-width="0.62" stroke-opacity="1" stroke-linejoin="round"/>
<circle cx="390.93" cy="84.55" r="1.1" fill="#000"/>
<path d="M398.5 81.85 L393.04 80.63 L394.07 80.34 L397.3 80.71 L398.39 81.08 L399.21 83.87 L401.54 85.09 L401.34 84.42 L404.49 84.62 L398.72 84.71" fill="none" stroke="#000" stroke-width="0.62" stroke-opacity="1" stroke-linejoin="round"/>
<path d="M398.5 81.85 L398.29 81.38 L404.12 84.62 L403.1 85.8 L408.34 82.49 L406.63 85.81 L404.09 86.28" fill="none" stroke="#000" stroke-width="0.62" stroke-opacity="1" stroke-linejoin="round"/>
<path d="M398.5 81.85 L398.81 81.94 L396.24 90.21 L396.84 92.73 L395.09 90.75 L394.79 91.87 L394.65 93.3" fill="none" stroke="#000" stroke-width="0.62" stroke-opacity="1" stroke-linejoin="round"/>
<path d="M398.5 81.85 L398.55 78.53 L399.83 78.33 L404.3 76.77 L401.82 76.47 L401.3 81.13 L400.6 80.02 L402.09 82.92 L404.8 79.68 L402.71 84.12 L400.99 85.38 L407.34 89.07" fill="none" stroke="#000" stroke-width="0.62" stroke-opacity="1" stroke-linejoin="round"/>
<path d="M398.5 81.85 L398.18 79.99 L395.43 75.89 L394.8 75.54 L392 77.5 L396.42 80.86 L397.78 79.64 L397.89 79.32" fill="none" stroke="#000" stroke-width="0.62" stroke-opacity="1" stroke-linejoin="round"/>
<path d="M398.5 81.85 L396.17 85.55 L397.61 82.45 L396.38 81.7 L397.44 81.68 L394.23 85.32 L393.45 86 L401.12 88.01 L400.66 90.15 L404.38 85.97 L402.52 89.24" fill="none" stroke="#000" stroke-width="0.62" stroke-opacity="1" stroke-linejoin="round"/>
<path d="M398.5 81.85 L398.52 81.8 L394.4 76.56 L392.31 77.81 L389.19 82.57 L391.04 83.03 L392.45 81.78 L395.39 80.34 L397.93 79.47 L399.82 78.4 L396.35 83.19 L398.31 84" fill="none" stroke="#000" stroke-width="0.62" stroke-opacity="1" stroke-linejoin="round"/>
<path d="M398.5 81.85 L399.54 79.02 L405.27 80.02 L402.27 82.33 L401.97 79.36 L401.4 78.81" fill="none" stroke="#000" stroke-width="0.62" stroke-opacity="1" stroke-linejoin="round"/>
<circle cx="401.4" cy="78.81" r="1.1" fill="#000"/>
<path d="M398.5 81.85 L395.54 83.11 L397.06 87.98 L399.33 89.99 L402.54 87.45 L405.72 90.64" fill="none" stroke="#000" stroke-width="0.62" stroke-opacity="1" stroke-linejoin="round"/>
<path d="M398.5 81.85 L397.94 84.43 L400.51 81.44 L397.58 86.37 L390.91 81.73 L392.05 81.64 L392.09 82.26 L394.21 82.26 L395.42 85.77 L399.11 84.65 L401.89 82.37 L399.76 81.7 L399.66 81.96" fill="none" stroke="#000" stroke-width="0.62" stroke-opacity="1" stroke-linejoin="round"/>
<circle cx="399.66" cy="81.96" r="1.1" fill="#000"/>
<path d="M398.5 81.85 L399.97 85.09 L402.18 84.08 L401.23 79.75 L405.23 79.31 L403.34 78.33 L402.15 76.07 L402.83 78.75 L402.24 81.28 L401.31 80.96 L400.51 82.98" fill="none" stroke="#000" stroke-width="0.62" stroke-opacity="1" stroke-linejoin="round"/>
<path d="M398.5 81.85 L399.51 86.53 L394.29 84.86 L394.67 82.78 L394.96 81.67 L396.66 81.77 L399.76 78.24 L401.4 77.07" fill="none" stroke="#000" stroke-width="0.62" stroke-opacity="1" stroke-linejoin="round"/>
<path d="M398.5 81.85 L398.7 79.53 L397.68 80.12 L397.11 78.18 L395.98 77.8 L393.62 80.78" fill="none" stroke="#000" stroke-width="0.62" stroke-opacity="1" stroke-linejoin="round"/>
<path d="M398.5 81.85 L396.18 81.51 L396.42 79.96 L398.16 84.57 L401.56 84.06 L403.15 85.93 L401.15 85.04 L401.94 82.88 L398.5 82.78" fill="none" stroke="#000" stroke-width="0.62" stroke-opacity="1" stroke-linejoin="round"/>
<circle cx="398.5" cy="82.78" r="1.1" fill="#000"/>
<path d="M398.5 81.85 L394.63 83.95 L396.85 78.72 L390.26 76.89 L393.97 77.3 L395.69 79.02 L397.92 77.82 L396.54 79.11 L398.09 80.88 L398.98 80.05 L401.75 81.57 L404.42 75.69" fill="none" stroke="#000" stroke-width="0.62" stroke-opacity="1" stroke-linejoin="round"/>
<path d="M398.5 81.85 L397.35 81.64 L396.07 81.59 L397.98 84.02 L398.94 84.77 L403.88 87.28 L403.54 90.76 L407.14 87.83 L404.16 88.98 L405.13 88.88 L407.4 86.21 L405.12 86.11 L404.1 80.67" fill="none" stroke="#000" stroke-width="0.62" stroke-opacity="1" stroke-linejoin="round"/>
<path d="M398.5 81.85 L396.84 84.33 L398.12 82.22 L403.5 84.22 L401.99 84.36 L401.67 88.48" fill="none" stroke="#000" stroke-width="0.62" stroke-opacity="1" stroke-linejoin="round"/>
<path d="M398.5 81.85 L400.38 86.2 L402.11 85.93 L401.37 83.66 L399.22 86.92 L400.67 87.58 L399.56 85.7" fill="none" stroke="#000" stroke-width="0.62" stroke-opacity="1" stroke-linejoin="round"/>
<path d="M398.5 81.85 L400.76 85.77 L400.06 89.38 L400.76 88.57 L399.32 89.62 L396.85 83.16 L395.86 81.91 L395.39 82.39 L398.17 83.21 L398.68 83.18" fill="none" stroke="#000" stroke-width="0.62" stroke-opacity="1" stroke-linejoin="round"/>
<circle cx="398.68" cy="83.18" r="1.1" fill="#000"/>
<path d="M398.5 81.85 L400.26 80.45 L399.99 79.58 L401.14 78.01 L401.37 81.53 L401.7 79.25 L404.71 81.69" fill="none" stroke="#000" stroke-width="0.62" stroke-opacity="1" stroke-linejoin="round"/>
<path d="M398.5 81.85 L396.66 82.74 L395.51 81.44 L397.16 83.32 L397.85 85.13 L397.14 81.91" fill="none" stroke="#000" stroke-width="0.62" stroke-opacity="1" stroke-linejoin="round"/>
<circle cx="397.14" cy="81.91" r="1.1" fill="#000"/>
<path d="M398.5 81.85 L397.75 85.45 L395.45 87.71 L399.56 89.6 L401.2 90.03 L405.08 88.58 L402.94 87.29 L400.07 89.78 L404.1 88.65 L399.55 88.44 L402.65 89.98 L406.57 91.81" fill="none" stroke="#000" stroke-width="0.62" stroke-opacity="1" stroke-linejoin="round"/>
<path d="M398.5 81.85 L399.75 79.76 L400.44 83.49 L404.06 79.56 L404.67 79.53 L399.65 82.59 L398.31 83.87 L397.37 82.91" fill="none" stroke="#000" stroke-width="0.62" stroke-opacity="1" stroke-linejoin="round"/>
<path d="M398.5 81.85 L396.52 85.57 L394.88 92.45 L395.04 89.7 L397.36 84.3 L395.54 83.78 L394.64 83.33 L392.52 83.89" fill="none" stroke="#000" stroke-width="0.62" stroke-opacity="1" stroke-linejoin="round"/>
<path d="M398.5 81.85 L401.98 77.7 L400.11 80.77 L398.77 83.56 L397.94 83.29 L398.7 83.77 L396.37 83.17" fill="none" stroke="#000" stroke-width="0.62" stroke-opacity="1" stroke-linejoin="round"/>
<path d="M398.5 81.85 L395.09 83.17 L395.27 87.1 L394.94 86.07 L391.3 86.1 L392.45 89.54 L392.38 91.79 L397.97 88.79 L400.96 88.63 L397.21 86.53 L397.71 83.66 L399.72 81.63" fill="none" stroke="#000" stroke-width="0.62" stroke-opacity="1" stroke-linejoin="round"/>
<path d="M398.5 81.85 L401.1 84.02 L398.94 81.39 L395.73 82.29 L389.64 80.76 L393.34 83.36 L391.6 82.03 L391.27 84.44" fill="none" stroke="#000" stroke-width="0.62" stroke-opacity="1" stroke-linejoin="round"/>
<path d="M398.5 81.85 L396.14 82.03 L395.73 77.63 L392.9 82.03 L393.82 82.83 L394.7 81.23 L396.24 83.5 L395.85 84.34 L398.79 82.7" fill="none" stroke="#000" stroke-width="0.62" stroke-opacity="1" stroke-linejoin="round"/>
<path d="M398.5 81.85 L398.53 85.27 L398.7 82.37 L397.39 83.23 L396.2 86.94 L400.35 87.43 L397.74 86.57 L396.88 81.24 L398.89 85.94 L398.5 87.16" fill="none" stroke="#000" stroke-width="0.62" stroke-opacity="1" stroke-linejoin="round"/>
<path d="M398.5 81.85 L402.62 79.18 L396.41 80.34 L394.87 79.96 L387.63 80.12 L386.05 82.19 L387.58 83.63 L392.12 87.97" fill="none" stroke="#000" stroke-width="0.62" stroke-opacity="1" stroke-linejoin="round"/>
<path d="M398.5 81.85 L400.91 83.62 L401 85.99 L401.77 87.24 L404.75 83.64 L401.94 84.71 L399.3 90.08 L397.73 87.29" fill="none" stroke="#000" stroke-width="0.62" stroke-opacity="1" stroke-linejoin="round"/>
<path d="M398.5 81.85 L396.31 88.13 L396.42 94.85 L396.6 95 L394.86 94.45 L393.47 94.41 L395.26 91.24 L392.83 86.01 L396.45 85.84" fill="none" stroke="#000" stroke-width="0.62" stroke-opacity="1" stroke-linejoin="round"/>
<path d="M398.5 81.85 L400.05 80.03 L403.79 82.04 L404.69 84.2 L403.52 83.81 L403.9 83.7 L406.16 83.7 L405.9 84.92 L405.83 86.55 L404.53 83.08" fill="none" stroke="#000" stroke-width="0.62" stroke-opacity="1" stroke-linejoin="round"/>
<path d="M398.5 81.85 L395.65 77.09 L391.79 76.69 L394.46 72.25 L390.24 71.92 L391.15 69.44 L393.96 67.78" fill="none" stroke="#000" stroke-width="0.62" stroke-opacity="1" stroke-linejoin="round"/>
<path d="M398.5 81.85 L398.78 80.54 L401.49 82.58 L401.43 85.44 L401.17 83.71 L397.36 87.38 L398.41 86.6 L395.52 86.01" fill="none" stroke="#000" stroke-width="0.62" stroke-opacity="1" stroke-linejoin="round"/>
<circle cx="395.52" cy="86.01" r="1.1" fill="#000"/>
<path d="M398.5 81.85 L400.51 85.88 L404.21 85.69 L399.91 88.68 L400 85.43 L395.82 86.27 L400.79 87.65 L399.97 87.23 L400.2 86.72 L404.13 87.67 L403.14 89.13 L402.16 84.61" fill="none" stroke="#000" stroke-width="0.62" stroke-opacity="1" stroke-linejoin="round"/>
<path d="M398.5 81.85 L397.57 81.53 L399.07 80.4 L401.21 83.33 L399.16 81.59 L399.87 82.45 L400.28 84.15 L397.38 85.72 L400.35 88.12 L401.47 87.15 L402.52 86.59 L398.61 84.7 L398.56 83.04" fill="none" stroke="#000" stroke-width="0.62" stroke-opacity="1" stroke-linejoin="round"/>
<path d="M398.5 81.85 L400.87 81.58 L400.13 82.27 L403.97 83.96 L406.82 83.56 L407.04 86.96 L408.07 89.15 L407.66 86.38 L408.79 86.87 L402.02 84.52 L403.62 83.66 L401.32 83.31 L403.2 86.5" fill="none" stroke="#000" stroke-width="0.62" stroke-opacity="1" stroke-linejoin="round"/>
<path d="M398.5 81.85 L402.95 81.42 L402.43 76.95 L402.66 77.45 L401.73 80.33 L400.18 80.34 L394.71 83.26 L395.57 82.29 L396.16 83.09 L394.35 84.26 L397.3 79.27 L398.71 79.6 L399.81 79.09" fill="none" stroke="#000" stroke-width="0.62" stroke-opacity="1" stroke-linejoin="round"/>
<path d="M398.5 81.85 L395.91 82.04 L397.02 80.47 L397.2 83.37 L395.46 84.47 L396.06 86.37 L400.33 81.73 L396.41 87.99 L395.88 84.4" fill="none" stroke="#000" stroke-width="0.62" stroke-opacity="1" stroke-linejoin="round"/>
<path d="M398.5 81.85 L395.24 80.9 L398.33 80.41 L398.57 78.14 L402.63 81.3 L403.93 80.28 L404.35 82.59 L406.24 81.67 L407.34 81.02" fill="none" stroke="#000" stroke-width="0.62" stroke-opacity="1" stroke-linejoin="round"/>
<path d="M398.5 81.85 L396.88 82.02 L399.81 81.06 L398.61 82.9 L395.66 85.55 L397.12 83.32 L397.18 81.99 L395.19 83.06 L394.63 85.66 L395.01 81.98 L395.76 84.12" fill="none" stroke="#000" stroke-width="0.62" stroke-opacity="1" stroke-linejoin="round"/>
<path d="M398.5 81.85 L396.54 81.25 L398.64 80.37 L400.35 82.85 L400.84 79.25 L396.35 79.38" fill="none" stroke="#000" stroke-width="0.62" stroke-opacity="1" stroke-linejoin="round"/>
<path d="M398.5 81.85 L397.35 82.29 L398.24 85.41 L398.23 80.5 L402.41 76.66 L401.23 77.89 L399.82 84.37 L401.67 85.96" fill="none" stroke="#000" stroke-width="0.62" stroke-opacity="1" stroke-linejoin="round"/>
<path d="M398.5 81.85 L396.77 83.76 L395.16 85.16 L399.24 84.14 L400.19 86.22 L398.71 83.4 L400.79 83.26 L401.36 81.25" fill="none" stroke="#000" stroke-width="0.62" stroke-opacity="1" stroke-linejoin="round"/>
<circle cx="401.36" cy="81.25" r="1.1" fill="#000"/>
<path d="M398.5 81.85 L396.86 85.01 L395.96 83.77 L399.91 84.14 L398.56 82.7 L400.31 87.27 L402.08 86.18 L399.52 84.39 L399.47 84.89 L398.07 87.99 L395.91 86.1" fill="none" stroke="#000" stroke-width="0.62" stroke-opacity="1" stroke-linejoin="round"/>
<circle cx="395.91" cy="86.1" r="1.1" fill="#000"/>
<path d="M398.5 81.85 L400.98 85.31 L401.23 85.73 L403.51 85.91 L401.43 86.65 L403.11 86.3 L400.93 85.94 L400.35 83.72 L401.19 84.99 L401.35 85.21 L399.04 85.62" fill="none" stroke="#000" stroke-width="0.62" stroke-opacity="1" stroke-linejoin="round"/>
<path d="M398.5 81.85 L400.19 87.09 L402.7 86.49 L400.96 80.54 L400.85 79.01 L401.83 76.19 L405.11 78.38 L403.55 78.57 L399.55 80 L399.9 78.84 L395.56 81.71 L396.37 83.48" fill="none" stroke="#000" stroke-width="0.62" stroke-opacity="1" stroke-linejoin="round"/>
<circle cx="396.37" cy="83.48" r="1.1" fill="#000"/>
<path d="M398.5 81.85 L397.21 81.47 L398.14 80.09 L395.17 80.91 L395.36 84.25 L393.86 88.04 L395.42 86.89 L394.14 85.65 L397.56 85.31 L398.93 88.63 L397.46 88.45 L397.48 87.56" fill="none" stroke="#000" stroke-width="0.62" stroke-opacity="1" stroke-linejoin="round"/>
<path d="M398.5 81.85 L398.84 84.56 L400.2 88.62 L399.06 87.09 L393.84 90.01 L391.26 91.56 L392.81 91.65 L392.3 87.95 L392.22 87.85" fill="none" stroke="#000" stroke-width="0.62" stroke-opacity="1" stroke-linejoin="round"/>
<circle cx="392.22" cy="87.85" r="1.1" fill="#000"/>
<path d="M398.5 81.85 L399.4 77.08 L396.11 74.28 L400.05 71.41 L397.02 70.91 L399.25 68.36 L401.79 70.67 L402.01 73.05" fill="none" stroke="#000" stroke-width="0.62" stroke-opacity="1" stroke-linejoin="round"/>
<path d="M398.5 81.85 L393.55 80.79 L390.62 83.48 L394.05 83.24 L392.23 82.91 L390.6 83.12 L395.59 81.06 L394.18 79.75 L393.93 79.1 L394.22 77.06 L398.32 78.22" fill="none" stroke="#000" stroke-width="0.62" stroke-opacity="1" stroke-linejoin="round"/>
<path d="M398.5 81.85 L394.69 81.85 L398.85 80 L398.38 77.96 L398.22 79.55 L398.79 79.07 L398.85 76.98 L399.85 80.19" fill="none" stroke="#000" stroke-width="0.62" stroke-opacity="1" stroke-linejoin="round"/>
<path d="M398.5 81.85 L394.51 77.94 L395.58 77.94 L398.82 78.77 L397.96 84.56 L397.76 82.21 L394.9 79.24 L393.91 81.44 L391.99 84.7 L396.14 79.59 L397.83 81.63 L402.01 80.86 L404.76 82.54" fill="none" stroke="#000" stroke-width="0.62" stroke-opacity="1" stroke-linejoin="round"/>
<circle cx="404.76" cy="82.54" r="1.1" fill="#000"/>
<path d="M398.5 81.85 L400.38 80.11 L400.44 85.44 L401.38 86.49 L396.52 86.63 L398.11 85.5 L401.68 85.31 L399.79 85.09 L399.81 88.76 L398.67 85.57 L398.73 88.06 L402.77 86.5 L406.66 89.37" fill="none" stroke="#000" stroke-width="0.62" stroke-opacity="1" stroke-linejoin="round"/>
<path d="M398.5 81.85 L394.41 79.16 L392.5 83.28 L393.89 81.72 L394.16 80.37 L391.03 79.29 L394.04 76.92 L395.75 80.15 L401.14 83.88 L398.48 84.95 L400.39 81.5 L395.82 83.34" fill="none" stroke="#000" stroke-width="0.62" stroke-opacity="1" stroke-linejoin="round"/>
<circle cx="395.82" cy="83.34" r="1.1" fill="#000"/>
<path d="M398.5 81.85 L397.36 81.38 L398.45 83.33 L401.62 84.98 L404.44 82.98 L403.98 78.83 L404.05 85.17 L404.83 86 L405.67 86.97 L402.62 85.87 L402.38 86.9 L400.46 87.25" fill="none" stroke="#000" stroke-width="0.62" stroke-opacity="1" stroke-linejoin="round"/>
<path d="M398.5 81.85 L400.49 84.36 L400.33 83.93 L398.06 85.46 L398.17 81.05 L399.59 82 L399.31 80.75 L398.23 82.34 L397.6 80.4 L396.01 80.19 L395.95 79.06" fill="none" stroke="#000" stroke-width="0.62" stroke-opacity="1" stroke-linejoin="round"/>
<circle cx="395.95" cy="79.06" r="1.1" fill="#000"/>
<path d="M398.5 81.85 L400.35 84.23 L402.78 80.7 L403.33 81.71 L403.28 79.67 L404.71 76.15" fill="none" stroke="#000" stroke-width="0.62" stroke-opacity="1" stroke-linejoin="round"/>
<path d="M398.5 81.85 L404.43 84.61 L402.22 84.49 L398.75 86.23 L400.6 83.83 L402.19 86.21 L404.65 84.68 L403.43 82.05 L400.73 82.92 L401.3 86.2 L402.45 85.52 L399.42 89.38" fill="none" stroke="#000" stroke-width="0.62" stroke-opacity="1" stroke-linejoin="round"/>
<path d="M398.5 81.85 L397.21 81.6 L398.69 81.42 L403.69 82.24 L403.25 81 L401.63 81.77 L402.43 80.75 L404.46 79.94 L404.4 83.57" fill="none" stroke="#000" stroke-width="0.62" stroke-opacity="1" stroke-linejoin="round"/>
<path d="M398.5 81.85 L400.32 78.91 L401.64 80.57 L397.23 74.87 L396.66 79.74 L400.78 78.51 L398.87 76.86 L399.28 72.28 L402.09 74.89 L400.13 75.83" fill="none" stroke="#000" stroke-width="0.62" stroke-opacity="1" stroke-linejoin="round"/>
<circle cx="400.13" cy="75.83" r="1.1" fill="#000"/>
<path d="M398.5 81.85 L399.45 79.78 L395.51 77.3 L397.93 77.88 L398.93 81.31 L399.45 83.29 L398.07 80.15 L399.43 80.71 L400.66 78.9 L400.15 84.64 L397.96 85.68 L400.97 85.91 L401.11 81.48" fill="none" stroke="#000" stroke-width="0.62" stroke-opacity="1" stroke-linejoin="round"/>
<path d="M398.5 81.85 L401.94 83.65 L399.32 84.42 L401.05 79.37 L397.96 81.85 L398.3 81.27 L394.58 80.29" fill="none" stroke="#000" stroke-width="0.62" stroke-opacity="1" stroke-linejoin="round"/>
<path d="M398.5 81.85 L398.75 83.14 L397.23 83.28 L399.92 83.85 L400.09 83.96 L399.79 86.53 L399.75 82.62 L397.71 83.51 L399.07 82.52 L396.78 82.32" fill="none" stroke="#000" stroke-width="0.62" stroke-opacity="1" stroke-linejoin="round"/>
<path d="M398.5 81.85 L402.24 81.3 L401.81 83.2 L400.89 80 L404.4 80.76 L404.11 81.86 L403.2 85.26 L403.66 86.42 L404.75 91.03 L402.41 89.84 L401.9 87.84 L400.35 88.05" fill="none" stroke="#000" stroke-width="0.62" stroke-opacity="1" stroke-linejoin="round"/>
<path d="M398.5 81.85 L397.06 82.1 L393.93 85.57 L396.15 85.52 L397.72 83.39 L396.46 78.63 L397.22 80.74 L399.14 82.07" fill="none" stroke="#000" stroke-width="0.62" stroke-opacity="1" stroke-linejoin="round"/>
<path d="M398.5 81.85 L403.95 76.76 L401.45 77.89 L403.14 80.12 L397.27 76.27 L396.9 78.58" fill="none" stroke="#000" stroke-width="0.62" stroke-opacity="1" stroke-linejoin="round"/>
<path d="M398.5 81.85 L400.79 83.6 L402.07 83.54 L401.9 82.31 L399.36 85.65 L398.99 86.04 L399.04 85.65 L397.69 83.69 L401.32 84.1 L398.14 85.14 L396.47 84.79" fill="none" stroke="#000" stroke-width="0.62" stroke-opacity="1" stroke-linejoin="round"/>
<path d="M398.5 81.85 L398.86 80.1 L399.18 83.12 L402.06 83.06 L402.44 83.22 L402.26 84.6 L405.94 82.16 L404.82 85.45 L399.88 87.28 L398.48 86.74 L399.22 86.42" fill="none" stroke="#000" stroke-width="0.62" stroke-opacity="1" stroke-linejoin="round"/>
<circle cx="399.22" cy="86.42" r="1.1" fill="#000"/>
<path d="M398.5 81.85 L397.3 78.71 L397.55 77.9 L395.28 79.92 L393.12 80.18 L394.73 80.9 L393.44 79.12" fill="none" stroke="#000" stroke-width="0.62" stroke-opacity="1" stroke-linejoin="round"/>
<path d="M398.5 81.85 L400.14 78.53 L398.73 78.14 L404.23 80.38 L404.49 75.17 L402.55 75.85 L402.7 76.18 L401.81 73.86" fill="none" stroke="#000" stroke-width="0.62" stroke-opacity="1" stroke-linejoin="round"/>
<path d="M398.5 81.85 L398.8 80.06 L393.63 81.82 L390.8 79 L391.65 79.79 L392.59 77.75 L389.33 79.08 L392.97 81.38 L392 84.58 L394.04 82.78" fill="none" stroke="#000" stroke-width="0.62" stroke-opacity="1" stroke-linejoin="round"/>
<path d="M398.5 81.85 L394.98 81.23 L394.02 81.48 L393.98 83.26 L394.35 84.09 L386.58 87.87" fill="none" stroke="#000" stroke-width="0.62" stroke-opacity="1" stroke-linejoin="round"/>
<path d="M398.5 81.85 L395.65 79.27 L399.05 77.82 L399.9 77.37 L400.09 80.95 L401.53 78.64 L402.68 78.51 L403.05 80.49 L399.37 81.62" fill="none" stroke="#000" stroke-width="0.62" stroke-opacity="1" stroke-linejoin="round"/>
<path d="M398.5 81.85 L395.24 83.6 L394.63 84.24 L395.51 85.67 L394.45 85.42 L395.56 77.85 L397.16 73.99 L400.23 68.72 L399.7 64.4" fill="none" stroke="#2a2a2a" stroke-width="0.55" stroke-opacity="1" stroke-linejoin="round"/>
<circle cx="399.7" cy="64.4" r="1.15" fill="#000"/>
<path d="M398.5 81.85 L401.89 82.77 L402.09 88.82 L401.77 92.25 L402.55 92.04 L403.2 87.69 L407.18 83.04 L407.6 75.91 L408 69.1" fill="none" stroke="#2a2a2a" stroke-width="0.55" stroke-opacity="1" stroke-linejoin="round"/>
<circle cx="408" cy="69.1" r="1.15" fill="#000"/>
<path d="M398.5 81.85 L398.8 74.67 L394.45 72.14 L400.74 71.22 L408.21 72.72 L412.8 72.5" fill="none" stroke="#2a2a2a" stroke-width="0.55" stroke-opacity="1" stroke-linejoin="round"/>
<circle cx="412.8" cy="72.5" r="1.15" fill="#000"/>
<path d="M398.5 81.85 L396.87 82.83 L396.3 82.22 L405.57 82.15 L410 79.81 L412.31 78.63 L416.8 79" fill="none" stroke="#2a2a2a" stroke-width="0.55" stroke-opacity="1" stroke-linejoin="round"/>
<circle cx="416.8" cy="79" r="1.15" fill="#000"/>
<path d="M398.5 81.85 L402.41 80.78 L404.83 81.96 L407.44 79.15 L410 79.2" fill="none" stroke="#2a2a2a" stroke-width="0.55" stroke-opacity="1" stroke-linejoin="round"/>
<circle cx="410" cy="79.2" r="1.15" fill="#000"/>
<path d="M398.5 81.85 L397.93 83.9 L401.46 87.27 L401.71 84.16 L398.16 82.33 L392.93 77.32 L389.69 74.56 L383.8 74.5" fill="none" stroke="#2a2a2a" stroke-width="0.55" stroke-opacity="1" stroke-linejoin="round"/>
<circle cx="383.8" cy="74.5" r="1.15" fill="#000"/>
<path d="M398.5 81.85 L397.24 81.38 L391.85 80.14 L396.44 78.35 L393.56 80.92 L392.39 78.98 L390.84 76.89 L387.2 72.5" fill="none" stroke="#2a2a2a" stroke-width="0.55" stroke-opacity="1" stroke-linejoin="round"/>
<circle cx="387.2" cy="72.5" r="1.15" fill="#000"/>
<path d="M398.5 81.85 L396.27 83.97 L397.82 83.45 L396.65 82.81 L392.16 84.55 L386.65 85.69 L385.2 85.3" fill="none" stroke="#2a2a2a" stroke-width="0.55" stroke-opacity="1" stroke-linejoin="round"/>
<circle cx="385.2" cy="85.3" r="1.15" fill="#000"/>
<path d="M398.5 81.85 L400.96 81.81 L400.36 80.63 L395.75 84.33 L393.14 85.71 L388.46 90.37 L383.8 92.7" fill="none" stroke="#2a2a2a" stroke-width="0.55" stroke-opacity="1" stroke-linejoin="round"/>
<circle cx="383.8" cy="92.7" r="1.15" fill="#000"/>
<path d="M398.5 81.85 L404.42 87.17 L404.96 85.97 L406.03 85.03 L400.68 88.73 L394.4 91.52 L389.97 93.76 L386.5 94" fill="none" stroke="#2a2a2a" stroke-width="0.55" stroke-opacity="1" stroke-linejoin="round"/>
<circle cx="386.5" cy="94" r="1.15" fill="#000"/>
<path d="M398.5 81.85 L397.45 81.5 L398.94 78.89 L400.62 76.71 L398.6 73.71 L400.13 73.99 L396.7 77.63 L395.18 86.17 L391.67 89.4 L390.6 95.4" fill="none" stroke="#2a2a2a" stroke-width="0.55" stroke-opacity="1" stroke-linejoin="round"/>
<circle cx="390.6" cy="95.4" r="1.15" fill="#000"/>
<path d="M398.5 81.85 L399.51 78.58 L395.99 74.78 L395.77 77.75 L395.87 78.88 L393.51 83.09 L396.61 86.16 L396.9 93.01 L398.9 99.4" fill="none" stroke="#2a2a2a" stroke-width="0.55" stroke-opacity="1" stroke-linejoin="round"/>
<circle cx="398.9" cy="99.4" r="1.15" fill="#000"/>
<path d="M398.5 81.85 L402.24 78.36 L404.43 85.01 L402.34 80.53 L402.77 86.11 L405.4 87.3" fill="none" stroke="#2a2a2a" stroke-width="0.55" stroke-opacity="1" stroke-linejoin="round"/>
<circle cx="405.4" cy="87.3" r="1.15" fill="#000"/>
<path d="M398.5 81.85 L393.16 80.12 L395.22 73.76 L394.31 74.36 L391.42 81.28 L391.45 79.51 L394.86 83.48 L400.07 84.5 L402.14 88.36 L409 91" fill="none" stroke="#2a2a2a" stroke-width="0.55" stroke-opacity="1" stroke-linejoin="round"/>
<circle cx="409" cy="91" r="1.15" fill="#000"/>
<path d="M398.5 81.85 L397.3 84.44 L398.46 83.02 L398.63 78.15 L401.52 78.02 L403.29 78.54 L403.78 76.08 L403 70" fill="none" stroke="#2a2a2a" stroke-width="0.55" stroke-opacity="1" stroke-linejoin="round"/>
<circle cx="403" cy="70" r="1.15" fill="#000"/>
<path d="M398.5 81.85 L404.12 78.87 L402.67 72.98 L401.9 67.67 L397.24 66.74 L394.59 69.03 L392 69" fill="none" stroke="#2a2a2a" stroke-width="0.55" stroke-opacity="1" stroke-linejoin="round"/>
<circle cx="392" cy="69" r="1.15" fill="#000"/>
<path d="M398.5 81.85 L398.82 84.39 L400.78 82.62 L398.98 85.81 L397.19 84.65 L398.54 80.36 L396.68 86.16 L396.06 91.46 L395 97" fill="none" stroke="#2a2a2a" stroke-width="0.55" stroke-opacity="1" stroke-linejoin="round"/>
<circle cx="395" cy="97" r="1.15" fill="#000"/>
<path d="M398.5 81.85 L399.7 77.19 L398.48 75.11 L398.03 75.81 L392.21 71.53 L397.02 74.82 L399.83 78.8 L404.91 82.24 L412 86" fill="none" stroke="#2a2a2a" stroke-width="0.55" stroke-opacity="1" stroke-linejoin="round"/>
<circle cx="412" cy="86" r="1.15" fill="#000"/>
<path d="M398.5 81.85 L400.46 76.74 L401.77 77.06 L394.48 78.15 L388 80" fill="none" stroke="#2a2a2a" stroke-width="0.55" stroke-opacity="1" stroke-linejoin="round"/>
<circle cx="388" cy="80" r="1.15" fill="#000"/>
<path d="M398.5 81.85 L401.86 79.93 L404.82 76.37 L402.32 79.35 L403.88 85.13 L405.57 90.97 L407 95" fill="none" stroke="#2a2a2a" stroke-width="0.55" stroke-opacity="1" stroke-linejoin="round"/>
<circle cx="407" cy="95" r="1.15" fill="#000"/>
<rect x="348" y="31.1" width="101" height="101.5" fill="none" stroke="#000" stroke-width="1.4"/>
<line x1="345" y1="132.6" x2="348" y2="132.6" stroke="#000" stroke-width="1.2"/>
<text transform="translate(341.4 134.6) scale(0.95 1)" font-size="8.3" text-anchor="end" fill="#111">−150</text>
<line x1="348" y1="132.6" x2="348" y2="135.6" stroke="#000" stroke-width="1.2"/>
<text transform="translate(351.2 143.1) rotate(-45) scale(0.95 1)" font-size="8.3" text-anchor="end" fill="#111">−150</text>
<line x1="345" y1="115.68" x2="348" y2="115.68" stroke="#000" stroke-width="1.2"/>
<text transform="translate(341.4 117.68) scale(0.95 1)" font-size="8.3" text-anchor="end" fill="#111">−100</text>
<line x1="364.83" y1="132.6" x2="364.83" y2="135.6" stroke="#000" stroke-width="1.2"/>
<text transform="translate(368.03 143.1) rotate(-45) scale(0.95 1)" font-size="8.3" text-anchor="end" fill="#111">−100</text>
<line x1="345" y1="98.77" x2="348" y2="98.77" stroke="#000" stroke-width="1.2"/>
<text transform="translate(341.4 100.77) scale(0.95 1)" font-size="8.3" text-anchor="end" fill="#111">−50</text>
<line x1="381.67" y1="132.6" x2="381.67" y2="135.6" stroke="#000" stroke-width="1.2"/>
<text transform="translate(384.87 143.1) rotate(-45) scale(0.95 1)" font-size="8.3" text-anchor="end" fill="#111">−50</text>
<line x1="345" y1="81.85" x2="348" y2="81.85" stroke="#000" stroke-width="1.2"/>
<text transform="translate(341.4 83.85) scale(0.95 1)" font-size="8.3" text-anchor="end" fill="#111">0</text>
<line x1="398.5" y1="132.6" x2="398.5" y2="135.6" stroke="#000" stroke-width="1.2"/>
<text transform="translate(401.7 143.1) rotate(-45) scale(0.95 1)" font-size="8.3" text-anchor="end" fill="#111">0</text>
<line x1="345" y1="64.93" x2="348" y2="64.93" stroke="#000" stroke-width="1.2"/>
<text transform="translate(341.4 66.93) scale(0.95 1)" font-size="8.3" text-anchor="end" fill="#111">50</text>
<line x1="415.33" y1="132.6" x2="415.33" y2="135.6" stroke="#000" stroke-width="1.2"/>
<text transform="translate(418.53 143.1) rotate(-45) scale(0.95 1)" font-size="8.3" text-anchor="end" fill="#111">50</text>
<line x1="345" y1="48.02" x2="348" y2="48.02" stroke="#000" stroke-width="1.2"/>
<text transform="translate(341.4 50.02) scale(0.95 1)" font-size="8.3" text-anchor="end" fill="#111">100</text>
<line x1="432.17" y1="132.6" x2="432.17" y2="135.6" stroke="#000" stroke-width="1.2"/>
<text transform="translate(435.37 143.1) rotate(-45) scale(0.95 1)" font-size="8.3" text-anchor="end" fill="#111">100</text>
<line x1="345" y1="31.1" x2="348" y2="31.1" stroke="#000" stroke-width="1.2"/>
<text transform="translate(341.4 33.1) scale(0.95 1)" font-size="8.3" text-anchor="end" fill="#111">150</text>
<line x1="449" y1="132.6" x2="449" y2="135.6" stroke="#000" stroke-width="1.2"/>
<text transform="translate(452.2 143.1) rotate(-45) scale(0.95 1)" font-size="8.3" text-anchor="end" fill="#111">150</text>
<text x="446.2" y="41.8" font-size="7.55" text-anchor="end" fill="#111"><tspan font-style="italic">P</tspan> = .026</text>
<text x="478.8" y="58.4" font-size="8.2" text-anchor="middle">Unstimulated</text>
<text x="478.6" y="68.2" font-size="8.2" text-anchor="middle">splenocytes</text>
<text x="484.3" y="108" font-size="8.2" text-anchor="middle">Unstimulated</text>
<text x="484" y="117" font-size="8.2" text-anchor="middle">LN-lymphocytes</text>
<line x1="49.5" y1="187.2" x2="49.5" y2="287.4" stroke="#e0e0e0" stroke-width="0.9"/>
<line x1="32.3" y1="270.5" x2="132.5" y2="270.5" stroke="#e0e0e0" stroke-width="0.9"/>
<line x1="65.5" y1="187.2" x2="65.5" y2="287.4" stroke="#e0e0e0" stroke-width="0.9"/>
<line x1="32.3" y1="253.5" x2="132.5" y2="253.5" stroke="#e0e0e0" stroke-width="0.9"/>
<line x1="99.5" y1="187.2" x2="99.5" y2="287.4" stroke="#e0e0e0" stroke-width="0.9"/>
<line x1="32.3" y1="220.5" x2="132.5" y2="220.5" stroke="#e0e0e0" stroke-width="0.9"/>
<line x1="115.5" y1="187.2" x2="115.5" y2="287.4" stroke="#e0e0e0" stroke-width="0.9"/>
<line x1="32.3" y1="203.5" x2="132.5" y2="203.5" stroke="#e0e0e0" stroke-width="0.9"/>
<line x1="82.5" y1="187.2" x2="82.5" y2="287.4" stroke="#909090" stroke-width="1.0"/>
<line x1="32.3" y1="237.5" x2="132.5" y2="237.5" stroke="#909090" stroke-width="1.0"/>
<path d="M82.4 237.3 L81.02 237.33 L80.32 234.51 L83.59 241.67 L79.63 242.7 L78.95 246.7 L79.62 244.66 L80.48 243.36 L82.11 238.68 L79.93 235.14 L80.67 238.09" fill="none" stroke="#2e2e2e" stroke-width="0.5" stroke-opacity="1" stroke-linejoin="round"/>
<circle cx="80.67" cy="238.09" r="1.1" fill="#000"/>
<path d="M82.4 237.3 L81.74 237.68 L82.65 235.63 L78.81 235.99 L82.09 237.6 L84.54 236.7" fill="none" stroke="#2e2e2e" stroke-width="0.5" stroke-opacity="1" stroke-linejoin="round"/>
<path d="M82.4 237.3 L80.02 236.62 L82.89 235.4 L79.76 231.67 L77.06 236.39 L80.61 237.19 L80.35 240.59 L80.62 237.57 L79.84 241.5 L78.78 239.33" fill="none" stroke="#2e2e2e" stroke-width="0.5" stroke-opacity="1" stroke-linejoin="round"/>
<path d="M82.4 237.3 L81.43 239.41 L82.52 240.86 L83.07 241.11 L85.92 239.28 L86.09 235.11 L84.79 234.98 L81.87 239.24 L79.04 236.76 L77.35 236.35 L78.01 239.29" fill="none" stroke="#2e2e2e" stroke-width="0.5" stroke-opacity="1" stroke-linejoin="round"/>
<circle cx="78.01" cy="239.29" r="1.1" fill="#000"/>
<path d="M82.4 237.3 L86.61 236.53 L87.12 238.12 L88.6 234.41 L85.02 232.83 L86.58 234.62 L80.26 236.35 L82.09 238.51 L84.36 237.42" fill="none" stroke="#2e2e2e" stroke-width="0.5" stroke-opacity="1" stroke-linejoin="round"/>
<circle cx="84.36" cy="237.42" r="1.1" fill="#000"/>
<path d="M82.4 237.3 L82.15 236.95 L82.03 236.49 L83.61 235.58 L82.48 239.3 L83.93 240.81 L82.24 242" fill="none" stroke="#2e2e2e" stroke-width="0.5" stroke-opacity="1" stroke-linejoin="round"/>
<path d="M82.4 237.3 L76.83 236.05 L80.93 239.96 L81.95 236.2 L81.35 236.01 L82.88 236.21 L84.11 232.64 L82.85 236.75 L79.55 239.57" fill="none" stroke="#2e2e2e" stroke-width="0.5" stroke-opacity="1" stroke-linejoin="round"/>
<circle cx="79.55" cy="239.57" r="1.1" fill="#000"/>
<path d="M82.4 237.3 L85.79 237.15 L88.44 239.26 L84.22 240.03 L86.01 240.86 L88.58 239.56 L88.04 239.58 L87.39 238.18 L84.88 238.78 L84.52 241.16 L87.07 235.14 L87.81 234.24 L86.41 236.71" fill="none" stroke="#2e2e2e" stroke-width="0.5" stroke-opacity="1" stroke-linejoin="round"/>
<path d="M82.4 237.3 L85.85 243.11 L83.66 240.75 L84.96 244.58 L81.14 241.05 L80.9 242.44 L79.03 241.79 L76.19 241.64 L75.34 241.04 L78.06 239.03" fill="none" stroke="#2e2e2e" stroke-width="0.5" stroke-opacity="1" stroke-linejoin="round"/>
<path d="M82.4 237.3 L78.42 239.3 L81.31 234.87 L83.2 228.8 L81.93 228.56 L81.89 232.97 L84.7 232.14 L84.47 233.99 L80.75 235.22 L82.49 235.91 L82.23 236.08 L82.96 237.6 L82.32 240.02" fill="none" stroke="#2e2e2e" stroke-width="0.5" stroke-opacity="1" stroke-linejoin="round"/>
<path d="M82.4 237.3 L81.93 235.75 L81.11 234.64 L77.23 234.11 L76.89 233.2 L73.6 237.87 L75.43 231.75 L76.15 233.61 L78.83 236.84" fill="none" stroke="#2e2e2e" stroke-width="0.5" stroke-opacity="1" stroke-linejoin="round"/>
<path d="M82.4 237.3 L79.76 242.41 L78.4 242.29 L75.96 239.73 L76.56 240.31 L76.39 239.69 L78.05 238.46 L79.86 238.59" fill="none" stroke="#2e2e2e" stroke-width="0.5" stroke-opacity="1" stroke-linejoin="round"/>
<path d="M82.4 237.3 L78.99 238.91 L80.02 241.68 L79.34 243.62 L81.34 245.16 L80.56 246.62 L77.98 242.3" fill="none" stroke="#2e2e2e" stroke-width="0.5" stroke-opacity="1" stroke-linejoin="round"/>
<path d="M82.4 237.3 L81.63 232.46 L83.45 236.19 L79.75 234.74 L80.46 236.35 L85.08 236.72 L82.95 233.68 L87.1 232.18 L82.99 237.82" fill="none" stroke="#2e2e2e" stroke-width="0.5" stroke-opacity="1" stroke-linejoin="round"/>
<path d="M82.4 237.3 L81.32 234.85 L86.42 231.14 L85.94 230.44 L84.04 229.1 L84.46 235.17 L84.7 233.94 L85.43 236.4 L83.77 235.47 L79.75 237.33 L81.88 241.2 L79.25 246.76 L81.87 246.16" fill="none" stroke="#2e2e2e" stroke-width="0.5" stroke-opacity="1" stroke-linejoin="round"/>
<path d="M82.4 237.3 L84.42 239.78 L82.13 239.92 L83.79 242.95 L81.44 248.19 L87.38 248.48 L93.16 248.26 L90.65 248.84 L88.59 249.22 L86.95 247.44 L84.85 243.36" fill="none" stroke="#2e2e2e" stroke-width="0.5" stroke-opacity="1" stroke-linejoin="round"/>
<path d="M82.4 237.3 L79.84 240 L76.15 243.74 L78.27 243.2 L79.88 243.29 L82.89 243.87 L81.71 242.58 L81.39 244.99 L83.11 244.4 L82.06 242.68" fill="none" stroke="#2e2e2e" stroke-width="0.5" stroke-opacity="1" stroke-linejoin="round"/>
<path d="M82.4 237.3 L83.79 241.38 L83.14 240.47 L82.82 240.35 L83.89 241.79 L80.23 240.87 L81.25 240.32 L82.57 237.69 L85.64 238.64 L81.01 241.47" fill="none" stroke="#2e2e2e" stroke-width="0.5" stroke-opacity="1" stroke-linejoin="round"/>
<circle cx="81.01" cy="241.47" r="1.1" fill="#000"/>
<path d="M82.4 237.3 L77.56 236.58 L80.72 239.69 L81.77 239.81 L78.45 241.43 L79.37 240.13 L80.59 239.72 L84.95 240.86" fill="none" stroke="#2e2e2e" stroke-width="0.5" stroke-opacity="1" stroke-linejoin="round"/>
<path d="M82.4 237.3 L80 236.72 L74.43 238.41 L72.43 237.41 L71.04 236.44 L75.4 236.45 L80.73 238.22" fill="none" stroke="#2e2e2e" stroke-width="0.5" stroke-opacity="1" stroke-linejoin="round"/>
<path d="M82.4 237.3 L83.75 236.14 L85.19 238.96 L83.05 236.04 L84.89 240.49 L85.69 241.19 L85.42 243.98 L81.73 244.14 L80.51 238.35 L79.33 238.17 L79.15 237.4" fill="none" stroke="#2e2e2e" stroke-width="0.5" stroke-opacity="1" stroke-linejoin="round"/>
<path d="M82.4 237.3 L80.53 236.52 L85.91 241.88 L81.75 241.19 L82.54 244.95 L81.02 243.68 L81.29 245.79 L84.67 245.08" fill="none" stroke="#2e2e2e" stroke-width="0.5" stroke-opacity="1" stroke-linejoin="round"/>
<path d="M82.4 237.3 L79.44 236.85 L79.32 236.2 L75.95 241.91 L79.34 237.9 L79.19 235.1 L79.52 232.2 L80.54 233.95 L84.42 237.4 L82.8 240.2 L81.17 240.31" fill="none" stroke="#2e2e2e" stroke-width="0.5" stroke-opacity="1" stroke-linejoin="round"/>
<path d="M82.4 237.3 L76.68 241.07 L77.58 240.59 L78.34 238.13 L80.86 240.39 L78.96 239.66 L77.75 238.01 L81.03 239.54 L81.8 243.11 L82.63 238.95 L81.3 236.62" fill="none" stroke="#2e2e2e" stroke-width="0.5" stroke-opacity="1" stroke-linejoin="round"/>
<path d="M82.4 237.3 L84.54 234.21 L82.8 235.25 L83.71 241.57 L86.94 242.73 L82.32 242.14 L78.37 241.48 L75.95 241.09" fill="none" stroke="#2e2e2e" stroke-width="0.5" stroke-opacity="1" stroke-linejoin="round"/>
<path d="M82.4 237.3 L85.65 239.03 L85.57 241.9 L85.97 243.13 L84.78 239.72 L84.18 242.45" fill="none" stroke="#2e2e2e" stroke-width="0.5" stroke-opacity="1" stroke-linejoin="round"/>
<path d="M82.4 237.3 L87.18 236.98 L92.26 237.74 L92.65 240.6 L88.55 239.57 L89.31 239.87 L88.2 241.01 L87.36 240.66 L84.4 239.04 L82.69 242.94 L81.19 236.86 L80.42 234.31" fill="none" stroke="#2e2e2e" stroke-width="0.5" stroke-opacity="1" stroke-linejoin="round"/>
<path d="M82.4 237.3 L83.09 231.67 L89.09 231.39 L88.47 232.32 L89.22 230.44 L88.27 230.43 L91.12 235.64 L93.82 237.58 L91.02 235.67 L91.8 233.94 L90.38 240.55 L89.41 240.03" fill="none" stroke="#2e2e2e" stroke-width="0.5" stroke-opacity="1" stroke-linejoin="round"/>
<circle cx="89.41" cy="240.03" r="1.1" fill="#000"/>
<path d="M82.4 237.3 L79.71 231.92 L75.74 231.27 L80.26 227.07 L86.9 221.9" fill="none" stroke="#2a2a2a" stroke-width="0.55" stroke-opacity="1" stroke-linejoin="round"/>
<circle cx="86.9" cy="221.9" r="1.15" fill="#000"/>
<path d="M82.4 237.3 L82.39 239.01 L84.97 238.68 L82.55 240.3 L85.46 241.7 L84.85 235.84 L86.91 231.63 L89.09 225.36 L91.3 222.5" fill="none" stroke="#2a2a2a" stroke-width="0.55" stroke-opacity="1" stroke-linejoin="round"/>
<circle cx="91.3" cy="222.5" r="1.15" fill="#000"/>
<path d="M82.4 237.3 L83.72 238.91 L88.97 241.56 L93.15 237.41 L94.66 233.98 L96.3 227.8" fill="none" stroke="#2a2a2a" stroke-width="0.55" stroke-opacity="1" stroke-linejoin="round"/>
<circle cx="96.3" cy="227.8" r="1.15" fill="#000"/>
<path d="M82.4 237.3 L81.66 239.75 L86.34 244.78 L86.13 240.15 L86.39 237.26 L84.4 228.1" fill="none" stroke="#2a2a2a" stroke-width="0.55" stroke-opacity="1" stroke-linejoin="round"/>
<circle cx="84.4" cy="228.1" r="1.15" fill="#000"/>
<path d="M82.4 237.3 L82.31 238.2 L84.36 240.32 L84.86 241.13 L84.85 246.24 L80.36 240.61 L77.29 233.81 L73.8 231.9" fill="none" stroke="#2a2a2a" stroke-width="0.55" stroke-opacity="1" stroke-linejoin="round"/>
<circle cx="73.8" cy="231.9" r="1.15" fill="#000"/>
<path d="M82.4 237.3 L79.47 238.99 L79.34 240.87 L79.2 243.75 L78.88 242.74 L72.6 241.15 L67.5 240.6" fill="none" stroke="#2a2a2a" stroke-width="0.55" stroke-opacity="1" stroke-linejoin="round"/>
<circle cx="67.5" cy="240.6" r="1.15" fill="#000"/>
<path d="M82.4 237.3 L85.5 241.58 L91.69 238.74 L90.86 236.92 L86.17 236.07 L78.24 236.3 L73.1 239.4" fill="none" stroke="#2a2a2a" stroke-width="0.55" stroke-opacity="1" stroke-linejoin="round"/>
<circle cx="73.1" cy="239.4" r="1.15" fill="#000"/>
<path d="M82.4 237.3 L84.24 236.87 L82.87 235.8 L82.46 231.06 L81.72 233.19 L88.66 234.83 L93.1 235.6" fill="none" stroke="#2a2a2a" stroke-width="0.55" stroke-opacity="1" stroke-linejoin="round"/>
<circle cx="93.1" cy="235.6" r="1.15" fill="#000"/>
<path d="M82.4 237.3 L87.27 239.2 L85.54 241.59 L88.75 238.74 L87.78 238.3 L84.94 239.35 L89.58 239.49 L93.1 240" fill="none" stroke="#2a2a2a" stroke-width="0.55" stroke-opacity="1" stroke-linejoin="round"/>
<circle cx="93.1" cy="240" r="1.15" fill="#000"/>
<path d="M82.4 237.3 L80.25 234.41 L82.92 230.83 L83.44 228.16 L81.57 233.83 L77.88 237.36 L75.98 242.47 L73.8 246.3" fill="none" stroke="#2a2a2a" stroke-width="0.55" stroke-opacity="1" stroke-linejoin="round"/>
<circle cx="73.8" cy="246.3" r="1.15" fill="#000"/>
<path d="M82.4 237.3 L83.78 236.51 L82.01 238.78 L81.69 239.89 L78.1 240.15 L79.37 238.01 L77.71 242.19 L78.1 247.3" fill="none" stroke="#2a2a2a" stroke-width="0.55" stroke-opacity="1" stroke-linejoin="round"/>
<circle cx="78.1" cy="247.3" r="1.15" fill="#000"/>
<path d="M82.4 237.3 L82.15 236.69 L82.89 231.86 L79.24 232.87 L80.96 228.59 L77.86 228.49 L78.87 235.66 L75.27 239.67 L74.5 242.81 L73.1 249.4" fill="none" stroke="#2a2a2a" stroke-width="0.55" stroke-opacity="1" stroke-linejoin="round"/>
<circle cx="73.1" cy="249.4" r="1.15" fill="#000"/>
<path d="M82.4 237.3 L84.54 235.74 L86.43 234.35 L83.3 236.97 L84.43 240.3 L81.08 245.34 L77.7 248.49 L73.8 254.8" fill="none" stroke="#2a2a2a" stroke-width="0.55" stroke-opacity="1" stroke-linejoin="round"/>
<circle cx="73.8" cy="254.8" r="1.15" fill="#000"/>
<path d="M82.4 237.3 L86.39 234 L87.42 233.29 L89.1 236.06 L87.95 237.89 L89.17 236.1 L86.76 239.08 L84.57 241.15 L78.83 248.29 L77.5 254.4" fill="none" stroke="#2a2a2a" stroke-width="0.55" stroke-opacity="1" stroke-linejoin="round"/>
<circle cx="77.5" cy="254.4" r="1.15" fill="#000"/>
<path d="M82.4 237.3 L86.49 240.25 L87.06 237.48 L85.27 235.46 L84.66 236.8 L81.29 232.78 L83.34 238.45 L81.75 242.5 L83.6 248.08 L85 253.5" fill="none" stroke="#2a2a2a" stroke-width="0.55" stroke-opacity="1" stroke-linejoin="round"/>
<circle cx="85" cy="253.5" r="1.15" fill="#000"/>
<path d="M82.4 237.3 L83.59 235.47 L85.63 234.02 L82.36 234.42 L79.31 234 L81.01 237.44 L85.09 241.79 L85.78 245.53 L91.3 250" fill="none" stroke="#2a2a2a" stroke-width="0.55" stroke-opacity="1" stroke-linejoin="round"/>
<circle cx="91.3" cy="250" r="1.15" fill="#000"/>
<path d="M82.4 237.3 L85.23 235.97 L84.59 235.55 L87.58 238.35 L90.56 243.25 L93.8 248.8" fill="none" stroke="#2a2a2a" stroke-width="0.55" stroke-opacity="1" stroke-linejoin="round"/>
<circle cx="93.8" cy="248.8" r="1.15" fill="#000"/>
<path d="M82.4 237.3 L84.44 236.78 L84.29 234.11 L84.74 235.72 L85.48 240.64 L84.4 246.3" fill="none" stroke="#2a2a2a" stroke-width="0.55" stroke-opacity="1" stroke-linejoin="round"/>
<circle cx="84.4" cy="246.3" r="1.15" fill="#000"/>
<path d="M82.4 237.3 L83.94 238.08 L82 239.4 L81.4 237 L81.42 238.37 L79.16 238.44 L75.52 240.1 L71 244" fill="none" stroke="#2a2a2a" stroke-width="0.55" stroke-opacity="1" stroke-linejoin="round"/>
<circle cx="71" cy="244" r="1.15" fill="#000"/>
<path d="M82.4 237.3 L85.42 238.73 L81.24 238.97 L79.25 243.53 L76 251" fill="none" stroke="#2a2a2a" stroke-width="0.55" stroke-opacity="1" stroke-linejoin="round"/>
<circle cx="76" cy="251" r="1.15" fill="#000"/>
<path d="M82.4 237.3 L82.77 237.55 L86.89 240.13 L88.71 237.76 L89 241.16 L88.19 239.44 L84.03 239.65 L80 244" fill="none" stroke="#2a2a2a" stroke-width="0.55" stroke-opacity="1" stroke-linejoin="round"/>
<circle cx="80" cy="244" r="1.15" fill="#000"/>
<path d="M82.4 237.3 L86.49 239.77 L83.25 243.46 L82.44 248.02 L84.58 241.76 L87.25 234.54 L88 229" fill="none" stroke="#2a2a2a" stroke-width="0.55" stroke-opacity="1" stroke-linejoin="round"/>
<circle cx="88" cy="229" r="1.15" fill="#000"/>
<path d="M85 236 L90 232.5 L104.4 233.1 L103.1 221" fill="none" stroke="#333" stroke-width="0.6" stroke-opacity="1" stroke-linejoin="round"/>
<circle cx="103.1" cy="221" r="1.25" fill="#000"/>
<rect x="32.3" y="187.2" width="100.2" height="100.2" fill="none" stroke="#000" stroke-width="1.4"/>
<line x1="29.3" y1="287.4" x2="32.3" y2="287.4" stroke="#000" stroke-width="1.2"/>
<text transform="translate(25.7 289.4) scale(0.95 1)" font-size="8.3" text-anchor="end" fill="#111">−150</text>
<line x1="32.3" y1="287.4" x2="32.3" y2="290.4" stroke="#000" stroke-width="1.2"/>
<text transform="translate(35.5 297.9) rotate(-45) scale(0.95 1)" font-size="8.3" text-anchor="end" fill="#111">−150</text>
<line x1="29.3" y1="270.7" x2="32.3" y2="270.7" stroke="#000" stroke-width="1.2"/>
<text transform="translate(25.7 272.7) scale(0.95 1)" font-size="8.3" text-anchor="end" fill="#111">−100</text>
<line x1="49" y1="287.4" x2="49" y2="290.4" stroke="#000" stroke-width="1.2"/>
<text transform="translate(52.2 297.9) rotate(-45) scale(0.95 1)" font-size="8.3" text-anchor="end" fill="#111">−100</text>
<line x1="29.3" y1="254" x2="32.3" y2="254" stroke="#000" stroke-width="1.2"/>
<text transform="translate(25.7 256) scale(0.95 1)" font-size="8.3" text-anchor="end" fill="#111">−50</text>
<line x1="65.7" y1="287.4" x2="65.7" y2="290.4" stroke="#000" stroke-width="1.2"/>
<text transform="translate(68.9 297.9) rotate(-45) scale(0.95 1)" font-size="8.3" text-anchor="end" fill="#111">−50</text>
<line x1="29.3" y1="237.3" x2="32.3" y2="237.3" stroke="#000" stroke-width="1.2"/>
<text transform="translate(25.7 239.3) scale(0.95 1)" font-size="8.3" text-anchor="end" fill="#111">0</text>
<line x1="82.4" y1="287.4" x2="82.4" y2="290.4" stroke="#000" stroke-width="1.2"/>
<text transform="translate(85.6 297.9) rotate(-45) scale(0.95 1)" font-size="8.3" text-anchor="end" fill="#111">0</text>
<line x1="29.3" y1="220.6" x2="32.3" y2="220.6" stroke="#000" stroke-width="1.2"/>
<text transform="translate(25.7 222.6) scale(0.95 1)" font-size="8.3" text-anchor="end" fill="#111">50</text>
<line x1="99.1" y1="287.4" x2="99.1" y2="290.4" stroke="#000" stroke-width="1.2"/>
<text transform="translate(102.3 297.9) rotate(-45) scale(0.95 1)" font-size="8.3" text-anchor="end" fill="#111">50</text>
<line x1="29.3" y1="203.9" x2="32.3" y2="203.9" stroke="#000" stroke-width="1.2"/>
<text transform="translate(25.7 205.9) scale(0.95 1)" font-size="8.3" text-anchor="end" fill="#111">100</text>
<line x1="115.8" y1="287.4" x2="115.8" y2="290.4" stroke="#000" stroke-width="1.2"/>
<text transform="translate(119 297.9) rotate(-45) scale(0.95 1)" font-size="8.3" text-anchor="end" fill="#111">100</text>
<line x1="29.3" y1="187.2" x2="32.3" y2="187.2" stroke="#000" stroke-width="1.2"/>
<text transform="translate(25.7 189.2) scale(0.95 1)" font-size="8.3" text-anchor="end" fill="#111">150</text>
<line x1="132.5" y1="287.4" x2="132.5" y2="290.4" stroke="#000" stroke-width="1.2"/>
<text transform="translate(135.7 297.9) rotate(-45) scale(0.95 1)" font-size="8.3" text-anchor="end" fill="#111">150</text>
<text x="129.6" y="197.9" font-size="7.55" text-anchor="end" fill="#111"><tspan font-style="italic">P</tspan> = .293</text>
<line x1="184.5" y1="187.3" x2="184.5" y2="287.4" stroke="#e0e0e0" stroke-width="0.9"/>
<line x1="168.1" y1="270.5" x2="268.4" y2="270.5" stroke="#e0e0e0" stroke-width="0.9"/>
<line x1="201.5" y1="187.3" x2="201.5" y2="287.4" stroke="#e0e0e0" stroke-width="0.9"/>
<line x1="168.1" y1="254.5" x2="268.4" y2="254.5" stroke="#e0e0e0" stroke-width="0.9"/>
<line x1="234.5" y1="187.3" x2="234.5" y2="287.4" stroke="#e0e0e0" stroke-width="0.9"/>
<line x1="168.1" y1="220.5" x2="268.4" y2="220.5" stroke="#e0e0e0" stroke-width="0.9"/>
<line x1="251.5" y1="187.3" x2="251.5" y2="287.4" stroke="#e0e0e0" stroke-width="0.9"/>
<line x1="168.1" y1="203.5" x2="268.4" y2="203.5" stroke="#e0e0e0" stroke-width="0.9"/>
<line x1="218.5" y1="187.3" x2="218.5" y2="287.4" stroke="#909090" stroke-width="1.0"/>
<line x1="168.1" y1="237.5" x2="268.4" y2="237.5" stroke="#909090" stroke-width="1.0"/>
<path d="M218.25 237.35 L216.08 241.16 L222.01 243.48 L221.42 241.21 L223.52 242.81 L226.17 242.24 L227.55 249.67 L228.55 250.17 L224 251.71 L225.83 255.22" fill="none" stroke="#262626" stroke-width="0.5" stroke-opacity="1" stroke-linejoin="round"/>
<path d="M218.25 237.35 L215.29 233.2 L214.73 235.25 L219.16 237.41 L217.23 239.25 L216.52 238.31 L217.44 230.87 L214.41 239.79 L211.05 240 L213.56 239.24 L214.84 237.66 L216.46 235.32" fill="none" stroke="#262626" stroke-width="0.5" stroke-opacity="1" stroke-linejoin="round"/>
<path d="M218.25 237.35 L222.06 242.84 L226.63 248.86 L224.15 240.74 L216.96 242.62 L218.49 246.2 L216.57 250.11 L216.54 248.94 L212.71 242.77 L220.66 247.29" fill="none" stroke="#262626" stroke-width="0.5" stroke-opacity="1" stroke-linejoin="round"/>
<circle cx="220.66" cy="247.29" r="1.1" fill="#000"/>
<path d="M218.25 237.35 L215.69 238.3 L218.84 239.91 L218.67 241.47 L219.15 239.39 L216.12 227.23 L213.1 224.99" fill="none" stroke="#262626" stroke-width="0.5" stroke-opacity="1" stroke-linejoin="round"/>
<path d="M218.25 237.35 L223.69 237.31 L224.54 242.47 L222.27 244.34 L222.68 243.03 L221.68 240.31" fill="none" stroke="#262626" stroke-width="0.5" stroke-opacity="1" stroke-linejoin="round"/>
<path d="M218.25 237.35 L209.16 238.96 L207.46 237.89 L204.85 242.04 L204.3 242.37 L205.65 239.18 L207.17 239.44 L209.39 238.99 L210.28 241.48 L214.19 240.05 L218.12 237.64 L218.27 238.87" fill="none" stroke="#262626" stroke-width="0.5" stroke-opacity="1" stroke-linejoin="round"/>
<path d="M218.25 237.35 L222.56 241.95 L222.04 244.98 L218.15 241.19 L224.18 248.06 L227.08 246.7 L227.17 248.18 L224.1 246.42 L224.1 246.26 L219.8 242.76" fill="none" stroke="#262626" stroke-width="0.5" stroke-opacity="1" stroke-linejoin="round"/>
<circle cx="219.8" cy="242.76" r="1.1" fill="#000"/>
<path d="M218.25 237.35 L215.08 240.41 L212.04 237.87 L212.58 235.86 L213.96 237.81 L216.38 239 L218.78 242.14" fill="none" stroke="#262626" stroke-width="0.5" stroke-opacity="1" stroke-linejoin="round"/>
<path d="M218.25 237.35 L220.12 235.65 L216.66 238.16 L216.8 232.01 L223.43 236.22 L221.15 240.5 L215.81 241.29 L214.78 241.19 L218.54 243.88 L221.91 244.03 L226.45 240.53 L229.18 238.65 L226.99 238.66" fill="none" stroke="#262626" stroke-width="0.5" stroke-opacity="1" stroke-linejoin="round"/>
<circle cx="226.99" cy="238.66" r="1.1" fill="#000"/>
<path d="M218.25 237.35 L216.32 244.37 L210.61 245.27 L210.58 248.41 L209.72 250.29 L212.07 247.72 L212.3 245.88 L213.79 250.98 L218.42 249.99 L218.32 255.68" fill="none" stroke="#262626" stroke-width="0.5" stroke-opacity="1" stroke-linejoin="round"/>
<path d="M218.25 237.35 L219.35 236.51 L223.33 237.92 L225.25 233.41 L226.22 238.96 L228.4 242.13 L230.61 241.26" fill="none" stroke="#262626" stroke-width="0.5" stroke-opacity="1" stroke-linejoin="round"/>
<path d="M218.25 237.35 L217.48 243.06 L215.31 248.79 L215.89 243.3 L216.86 245.61 L221.02 246.94 L219.54 249.25 L217.71 243.68 L220.89 241.66 L222.53 246.72 L220.88 246.46 L218.01 244.49" fill="none" stroke="#262626" stroke-width="0.5" stroke-opacity="1" stroke-linejoin="round"/>
<path d="M218.25 237.35 L218.28 239.6 L219.62 241.62 L212.85 236.23 L218.21 236.13 L221.26 241.43 L220.44 238.88" fill="none" stroke="#262626" stroke-width="0.5" stroke-opacity="1" stroke-linejoin="round"/>
<path d="M218.25 237.35 L218.31 238.04 L216.86 237.53 L210.34 237.72 L208.49 238.58 L210.84 239.35 L216.46 240.75 L216.62 240.31" fill="none" stroke="#262626" stroke-width="0.5" stroke-opacity="1" stroke-linejoin="round"/>
<path d="M218.25 237.35 L215.13 235.84 L214.67 237.86 L216.65 244.79 L219.18 247.74 L220.31 255.83 L218.49 257.14 L223.89 258.36 L225.35 264.8" fill="none" stroke="#262626" stroke-width="0.5" stroke-opacity="1" stroke-linejoin="round"/>
<path d="M218.25 237.35 L218.41 242.17 L220.79 243.54 L222.59 246.38 L220.37 246.51 L218.66 244.53 L213.52 242.97 L212.89 245.35 L213.78 244.28 L211.95 248.21 L215.92 248.11 L214.35 250.96" fill="none" stroke="#262626" stroke-width="0.5" stroke-opacity="1" stroke-linejoin="round"/>
<path d="M218.25 237.35 L218.68 240.26 L220.16 238.56 L224.26 235.52 L224.37 232.62 L225.44 234.51 L227.65 234.75 L224.07 235.02 L229.04 236.51" fill="none" stroke="#262626" stroke-width="0.5" stroke-opacity="1" stroke-linejoin="round"/>
<path d="M218.25 237.35 L215.82 231.49 L213.95 228.68 L215.34 229.06 L219.56 233.69 L218.7 237.87 L219.35 240.46 L224.33 237.81 L224.72 243.93 L222.86 245.74 L223.9 245.48 L220.27 244.35 L217.7 248.98" fill="none" stroke="#262626" stroke-width="0.5" stroke-opacity="1" stroke-linejoin="round"/>
<path d="M218.25 237.35 L211.34 240.14 L212.06 241.85 L210.17 246.44 L213.34 245.09 L217.88 241.69" fill="none" stroke="#262626" stroke-width="0.5" stroke-opacity="1" stroke-linejoin="round"/>
<path d="M218.25 237.35 L222.43 241.35 L220.16 243.12 L221.8 236.03 L220.5 231.62 L217.53 235.61 L221.77 237.42 L226.04 240.17" fill="none" stroke="#262626" stroke-width="0.5" stroke-opacity="1" stroke-linejoin="round"/>
<circle cx="226.04" cy="240.17" r="1.1" fill="#000"/>
<path d="M218.25 237.35 L221.88 234.33 L226.76 237.54 L218.27 235.64 L215.88 235.87 L214.27 234.08 L217.33 233.83 L219.44 231.78 L216.16 236.25" fill="none" stroke="#262626" stroke-width="0.5" stroke-opacity="1" stroke-linejoin="round"/>
<path d="M218.25 237.35 L220.79 237.4 L222.27 233.87 L223.85 232.74 L219.23 237.57 L220.83 235.12 L218.78 235.25 L218.98 236.72 L218.08 243.37" fill="none" stroke="#262626" stroke-width="0.5" stroke-opacity="1" stroke-linejoin="round"/>
<path d="M218.25 237.35 L216.15 237.18 L215.55 235.67 L213.17 241.79 L209.56 240.27 L208.58 236.67 L205.44 239.57 L208.46 240.12 L219.02 242.92" fill="none" stroke="#262626" stroke-width="0.5" stroke-opacity="1" stroke-linejoin="round"/>
<path d="M218.25 237.35 L223.25 235.84 L223.42 241.02 L230.95 239.45 L228.24 241.84 L222.02 243.16 L219.65 246.31 L219.43 241.04 L217.1 238.69 L215.53 235.06" fill="none" stroke="#262626" stroke-width="0.5" stroke-opacity="1" stroke-linejoin="round"/>
<path d="M218.25 237.35 L217.38 233.68 L215.55 233.81 L217.1 238.74 L213.62 245.36 L221.48 240.39 L221.54 244.39" fill="none" stroke="#262626" stroke-width="0.5" stroke-opacity="1" stroke-linejoin="round"/>
<circle cx="221.54" cy="244.39" r="1.1" fill="#000"/>
<path d="M218.25 237.35 L220.17 237.39 L217.21 235.93 L224.91 241.75 L227.15 242.32 L226.34 246.64 L225.06 243.78 L227.46 240.43 L225.08 244.96 L220.07 244.55 L220.63 245.2 L216.1 244.26 L215.2 250.33" fill="none" stroke="#262626" stroke-width="0.5" stroke-opacity="1" stroke-linejoin="round"/>
<path d="M218.25 237.35 L217.17 245.14 L218.42 250.13 L215.61 251.58 L213.47 246.3 L213.49 244.51" fill="none" stroke="#262626" stroke-width="0.5" stroke-opacity="1" stroke-linejoin="round"/>
<path d="M218.25 237.35 L216.03 237.94 L214.7 232.29 L214.93 233.21 L218.11 231.9 L217.45 226.47 L218.27 224.41 L216.89 227.31" fill="none" stroke="#262626" stroke-width="0.5" stroke-opacity="1" stroke-linejoin="round"/>
<circle cx="216.89" cy="227.31" r="1.1" fill="#000"/>
<path d="M218.25 237.35 L214.2 237.49 L211.45 237.83 L208.44 227.54 L211.34 233.36 L216.02 237 L221.07 239.82 L228.25 238.09 L227.49 231.3 L223.11 231.22 L223.31 233.11 L220.03 236.22 L219.06 243.4" fill="none" stroke="#262626" stroke-width="0.5" stroke-opacity="1" stroke-linejoin="round"/>
<path d="M218.25 237.35 L217.06 239.14 L219.17 236.33 L223.5 240.31 L229.83 243.04 L227.96 242.15 L226.83 245.92 L223.74 244.71 L220.77 246.16 L224.33 244.11 L227.21 248.25" fill="none" stroke="#262626" stroke-width="0.5" stroke-opacity="1" stroke-linejoin="round"/>
<path d="M218.25 237.35 L219.01 239.96 L217.35 238.07 L219.28 237.44 L219.25 240.22 L222.24 244.84 L219.95 244.34 L221.7 240.42 L217.54 243.06 L215.49 240.78 L218.04 243.17" fill="none" stroke="#262626" stroke-width="0.5" stroke-opacity="1" stroke-linejoin="round"/>
<path d="M218.25 237.35 L216.31 240.5 L213.05 238.81 L215.05 239.84 L216.46 244.37 L219.24 237.19 L217.9 244.78" fill="none" stroke="#262626" stroke-width="0.5" stroke-opacity="1" stroke-linejoin="round"/>
<path d="M218.25 237.35 L220.02 235.45 L218.54 237.17 L218.64 239.8 L221.89 242.91 L220.43 239.36" fill="none" stroke="#262626" stroke-width="0.5" stroke-opacity="1" stroke-linejoin="round"/>
<circle cx="220.43" cy="239.36" r="1.1" fill="#000"/>
<path d="M218.25 237.35 L220.01 240.6 L215.65 242.87 L215.86 244.84 L214.08 246 L212.83 251.29 L219.1 252.56 L214.19 250.75 L216.83 252.13 L217.68 253.51" fill="none" stroke="#262626" stroke-width="0.5" stroke-opacity="1" stroke-linejoin="round"/>
<path d="M218.25 237.35 L216.23 240.59 L212.76 249.13 L212.98 248.41 L211.98 244.67 L208.54 248.23 L209.73 247.68 L215.49 245.75 L212.91 241.23 L214.39 240.92 L212.83 237.5 L217.63 242.52 L222.02 242.41" fill="none" stroke="#262626" stroke-width="0.5" stroke-opacity="1" stroke-linejoin="round"/>
<path d="M218.25 237.35 L226.54 240.68 L226.08 238.64 L225.81 240.83 L224.63 239.93 L223.69 240.33 L220.27 239.52" fill="none" stroke="#262626" stroke-width="0.5" stroke-opacity="1" stroke-linejoin="round"/>
<circle cx="220.27" cy="239.52" r="1.1" fill="#000"/>
<path d="M218.25 237.35 L221.79 238.04 L218.91 240.17 L221.97 241.62 L218.7 239.66 L221.78 240.24 L217.43 239.96 L215.17 238.85 L214.03 238.63" fill="none" stroke="#262626" stroke-width="0.5" stroke-opacity="1" stroke-linejoin="round"/>
<circle cx="214.03" cy="238.63" r="1.1" fill="#000"/>
<path d="M218.25 237.35 L219.43 241.19 L215.69 238.68 L217.92 240.7 L214.59 234.86 L214.23 236.06 L215.62 235.27 L217.24 236.71 L217.34 239.11 L217.04 243.46 L222.45 242.63 L220.69 239.85 L219.6 244.24" fill="none" stroke="#262626" stroke-width="0.5" stroke-opacity="1" stroke-linejoin="round"/>
<path d="M218.25 237.35 L220.52 242.84 L221.34 240.06 L220.49 239.74 L217.48 240.78 L214.54 238.93 L214.84 234.58 L212.48 233.46 L210.48 234.64 L212.93 238.3 L214.31 243.39 L216.91 243.8" fill="none" stroke="#262626" stroke-width="0.5" stroke-opacity="1" stroke-linejoin="round"/>
<path d="M218.25 237.35 L217.32 237.2 L220.12 235.57 L216.18 232.77 L211.96 240.42 L211.65 238.65 L214.75 240.04 L213.23 241.32 L213.17 244.23 L217.52 242.49 L216.47 241.18 L219.45 241.69" fill="none" stroke="#262626" stroke-width="0.5" stroke-opacity="1" stroke-linejoin="round"/>
<path d="M218.25 237.35 L219.54 238.26 L219.77 240.14 L215.4 238.96 L211.96 242.65 L214.05 243.62 L215.23 241.92 L214.52 244.94 L214.93 245.34" fill="none" stroke="#262626" stroke-width="0.5" stroke-opacity="1" stroke-linejoin="round"/>
<path d="M218.25 237.35 L220.85 240.66 L221.55 241.37 L222.72 240.42 L226.73 242.49 L228.34 246.58" fill="none" stroke="#262626" stroke-width="0.5" stroke-opacity="1" stroke-linejoin="round"/>
<path d="M218.25 237.35 L220.9 234.81 L220.55 232.84 L224.15 234.77 L225.23 235.18 L223.83 239.92 L223.54 242.37 L220.84 241.97 L218.38 242.19 L218.17 237.97 L220.68 239.32" fill="none" stroke="#262626" stroke-width="0.5" stroke-opacity="1" stroke-linejoin="round"/>
<circle cx="220.68" cy="239.32" r="1.1" fill="#000"/>
<path d="M218.25 237.35 L214.79 238.73 L215.11 242.63 L217.61 242.47 L220.86 239.32 L216.33 247.15 L217.88 244.88 L215.87 247.63 L219.16 245.63" fill="none" stroke="#262626" stroke-width="0.5" stroke-opacity="1" stroke-linejoin="round"/>
<path d="M218.25 237.35 L220.69 233.3 L224.22 239.84 L224.03 242.85 L227.95 244.66 L222.6 244.27 L224.47 245.85 L228.75 244.77 L226.76 246.56 L222.23 249.18" fill="none" stroke="#262626" stroke-width="0.5" stroke-opacity="1" stroke-linejoin="round"/>
<path d="M218.25 237.35 L220.89 242.07 L223.09 244.23 L221.87 247.31 L224.14 247.06 L223.39 243.16" fill="none" stroke="#262626" stroke-width="0.5" stroke-opacity="1" stroke-linejoin="round"/>
<circle cx="223.39" cy="243.16" r="1.1" fill="#000"/>
<path d="M218.25 237.35 L213.44 242.9 L214.72 238.31 L217.34 241.65 L214.33 248.23 L209.83 245.48 L211.62 242.69 L216.87 243.05" fill="none" stroke="#262626" stroke-width="0.5" stroke-opacity="1" stroke-linejoin="round"/>
<path d="M218.25 237.35 L214.94 234.09 L214.1 238.6 L212.58 241.06 L214.73 241.66 L215.65 241.14 L213.68 234.64 L212.45 234.45 L215.46 234.58 L216.02 234.6 L219.19 237.05 L221.05 235.08 L218.74 238.66" fill="none" stroke="#262626" stroke-width="0.5" stroke-opacity="1" stroke-linejoin="round"/>
<path d="M218.25 237.35 L217.03 236.35 L219.07 236.87 L223.36 241.11 L222.83 249.86 L221.35 248.37 L220.1 246.01 L218.25 246.24 L220.59 241.65 L215.63 239.64 L214.16 241.54" fill="none" stroke="#262626" stroke-width="0.5" stroke-opacity="1" stroke-linejoin="round"/>
<path d="M218.25 237.35 L219.72 238.98 L221.2 237.91 L222.78 237.08 L222.69 237.55 L221.82 237.69 L217.51 238.21 L215.34 242.55 L218.82 238.54" fill="none" stroke="#262626" stroke-width="0.5" stroke-opacity="1" stroke-linejoin="round"/>
<path d="M218.25 237.35 L220.74 231.87 L222.21 229.9 L223.04 234.9 L224.13 234.48 L227.58 234.47 L223.99 239.11 L220.67 237.6 L218.03 237.61 L218.33 236.22 L218.32 237.01 L219.57 243" fill="none" stroke="#262626" stroke-width="0.5" stroke-opacity="1" stroke-linejoin="round"/>
<path d="M218.25 237.35 L222.3 237.18 L219.23 238.06 L221.5 245.04 L219.28 242.8 L215.76 242.47 L216.66 244.34" fill="none" stroke="#262626" stroke-width="0.5" stroke-opacity="1" stroke-linejoin="round"/>
<path d="M218.25 237.35 L213.33 236.72 L215.29 234.76 L217.09 235.49 L215.21 230.72 L218.84 229.45 L215.92 228.8 L216.52 234.89 L219.31 238.59 L217.88 240.45 L216.96 243.31 L219.09 240.11 L216.33 239.91" fill="none" stroke="#262626" stroke-width="0.5" stroke-opacity="1" stroke-linejoin="round"/>
<path d="M218.25 237.35 L222.67 235.74 L223.78 239.6 L221.19 238.58 L217.68 245.6 L221.02 246.97 L217.9 244.38 L216.61 245.16 L213.31 245.12 L218.01 245.84 L219.1 239.86 L219.01 240.08" fill="none" stroke="#262626" stroke-width="0.5" stroke-opacity="1" stroke-linejoin="round"/>
<path d="M218.25 237.35 L216.52 239.76 L216.04 234.89 L212.38 235.75 L213.76 235.68 L215.68 239.97" fill="none" stroke="#262626" stroke-width="0.5" stroke-opacity="1" stroke-linejoin="round"/>
<path d="M218.25 237.35 L221.11 237.24 L220.09 233.42 L220.55 235.63 L221.68 238.68 L222.88 235.49 L222.96 235.75 L218.81 238.82 L215.53 242.14 L214.06 242.82 L210.71 246.88 L206.5 252.66 L205.3 255.8" fill="none" stroke="#2a2a2a" stroke-width="0.55" stroke-opacity="1" stroke-linejoin="round"/>
<circle cx="205.3" cy="255.8" r="1.15" fill="#000"/>
<path d="M218.25 237.35 L217.14 237.72 L215.82 235.04 L216.53 240.16 L216.82 240.91 L216.55 241.84 L215.75 244.38 L213.55 250.95 L214.61 258.53 L211.3 260.2" fill="none" stroke="#2a2a2a" stroke-width="0.55" stroke-opacity="1" stroke-linejoin="round"/>
<circle cx="211.3" cy="260.2" r="1.15" fill="#000"/>
<path d="M218.25 237.35 L221.93 240.26 L225.73 243.95 L221.64 241.27 L218.65 234.56 L215.18 234.44 L214.22 234.77 L209.75 232.15 L205.8 230.4" fill="none" stroke="#2a2a2a" stroke-width="0.55" stroke-opacity="1" stroke-linejoin="round"/>
<circle cx="205.8" cy="230.4" r="1.15" fill="#000"/>
<path d="M218.25 237.35 L219.67 244.84 L215.72 254.85 L220.35 252.57 L218.98 247.42 L220.59 243.68 L224.97 241.23 L223.64 236.86 L226.03 234.1 L228.82 233.48 L230.4 228.2" fill="none" stroke="#2a2a2a" stroke-width="0.55" stroke-opacity="1" stroke-linejoin="round"/>
<circle cx="230.4" cy="228.2" r="1.15" fill="#000"/>
<path d="M218.25 237.35 L216.13 236.26 L212.45 231.41 L216.13 234.72 L218.51 237.47 L224 241.54 L224.14 241.14 L229.23 243.73 L236.07 244.5 L234.07 247.22 L239 248.1" fill="none" stroke="#2a2a2a" stroke-width="0.55" stroke-opacity="1" stroke-linejoin="round"/>
<circle cx="239" cy="248.1" r="1.15" fill="#000"/>
<path d="M218.25 237.35 L216.88 238.99 L215.27 244.25 L218.47 242.04 L219.9 240.83 L214.94 240.49 L218.8 239.39 L224.68 244.34 L226.03 243.32 L229 244.83 L230.74 244.74 L236.4 243.7" fill="none" stroke="#2a2a2a" stroke-width="0.55" stroke-opacity="1" stroke-linejoin="round"/>
<circle cx="236.4" cy="243.7" r="1.15" fill="#000"/>
<path d="M218.25 237.35 L216.38 237.89 L218.46 238.12 L219.15 233.85 L216.91 234.95 L219.88 238.63 L217.25 245.17 L218.41 249.46 L221.36 252.71 L223.98 255.5 L225.2 258.4" fill="none" stroke="#2a2a2a" stroke-width="0.55" stroke-opacity="1" stroke-linejoin="round"/>
<circle cx="225.2" cy="258.4" r="1.15" fill="#000"/>
<path d="M218.25 237.35 L222.44 235.43 L222.85 231.96 L216.35 232 L214.95 236.08 L212.95 238.08 L211.03 238.52 L205.64 241.24 L202.7 241.1" fill="none" stroke="#2a2a2a" stroke-width="0.55" stroke-opacity="1" stroke-linejoin="round"/>
<circle cx="202.7" cy="241.1" r="1.15" fill="#000"/>
<path d="M218.25 237.35 L220.29 234.93 L220.5 237.86 L217.93 240.62 L218.02 245.28 L215.22 248.58 L211.3 251.66 L209.79 254.49 L208 258" fill="none" stroke="#2a2a2a" stroke-width="0.55" stroke-opacity="1" stroke-linejoin="round"/>
<circle cx="208" cy="258" r="1.15" fill="#000"/>
<path d="M218.25 237.35 L214.37 235.71 L218.61 234.11 L217.71 236.5 L215.82 240.68 L214.31 245.65 L216.25 249.99 L218.42 253.11 L215.5 256.27 L216.94 256.69 L215 262" fill="none" stroke="#2a2a2a" stroke-width="0.55" stroke-opacity="1" stroke-linejoin="round"/>
<circle cx="215" cy="262" r="1.15" fill="#000"/>
<path d="M218.25 237.35 L212.42 232.79 L211.53 238.75 L218.37 242.24 L221.48 245.38 L220.96 252.44 L223.91 255.58 L223.28 256.61 L226.74 260.1 L228 262" fill="none" stroke="#2a2a2a" stroke-width="0.55" stroke-opacity="1" stroke-linejoin="round"/>
<circle cx="228" cy="262" r="1.15" fill="#000"/>
<path d="M218.25 237.35 L217.38 237.28 L220.17 235.95 L215.84 232.93 L219.3 239.62 L222.94 234.52 L221.97 230.83 L221.89 226.62 L224.14 222.9 L226.9 222.1" fill="none" stroke="#2a2a2a" stroke-width="0.55" stroke-opacity="1" stroke-linejoin="round"/>
<circle cx="226.9" cy="222.1" r="1.15" fill="#000"/>
<path d="M218.25 237.35 L214.15 233.46 L217.23 232.08 L214.35 234.22 L213.57 234.96 L211.68 229.95 L210 226" fill="none" stroke="#2a2a2a" stroke-width="0.55" stroke-opacity="1" stroke-linejoin="round"/>
<circle cx="210" cy="226" r="1.15" fill="#000"/>
<path d="M218.25 237.35 L218.68 241.53 L228.15 238.13 L231.73 234.98 L232.47 237.57 L233 238" fill="none" stroke="#2a2a2a" stroke-width="0.55" stroke-opacity="1" stroke-linejoin="round"/>
<circle cx="233" cy="238" r="1.15" fill="#000"/>
<path d="M218.25 237.35 L217.79 236.6 L216.78 233.96 L217.04 230.13 L216.42 229.34 L219.83 227.49 L221 226" fill="none" stroke="#2a2a2a" stroke-width="0.55" stroke-opacity="1" stroke-linejoin="round"/>
<circle cx="221" cy="226" r="1.15" fill="#000"/>
<path d="M212 238 L204.4 238.5 L190.6 242.9 L185.4 237.7 L193.2 233.4" fill="none" stroke="#444" stroke-width="0.6" stroke-opacity="1" stroke-linejoin="round"/>
<circle cx="193.2" cy="233.4" r="1.25" fill="#000"/>
<path d="M226 234 L232.1 232.5 L239 231.6 L239.9 221.2 L247.7 223.8 L243.3 226.4 L251.1 230.8" fill="none" stroke="#444" stroke-width="0.6" stroke-opacity="1" stroke-linejoin="round"/>
<circle cx="251.1" cy="230.8" r="1.25" fill="#000"/>
<path d="M218 230 L219.1 217.8 L222.6 216.9 L226.9 222.1" fill="none" stroke="#555" stroke-width="0.6" stroke-opacity="1" stroke-linejoin="round"/>
<path d="M226 244 L235.6 248 L236.4 256.7 L233.8 263.6" fill="none" stroke="#444" stroke-width="0.6" stroke-opacity="1" stroke-linejoin="round"/>
<circle cx="233.8" cy="263.6" r="1.25" fill="#000"/>
<rect x="168.1" y="187.3" width="100.3" height="100.1" fill="none" stroke="#000" stroke-width="1.4"/>
<line x1="165.1" y1="287.4" x2="168.1" y2="287.4" stroke="#000" stroke-width="1.2"/>
<text transform="translate(161.5 289.4) scale(0.95 1)" font-size="8.3" text-anchor="end" fill="#111">−150</text>
<line x1="168.1" y1="287.4" x2="168.1" y2="290.4" stroke="#000" stroke-width="1.2"/>
<text transform="translate(171.3 297.9) rotate(-45) scale(0.95 1)" font-size="8.3" text-anchor="end" fill="#111">−150</text>
<line x1="165.1" y1="270.72" x2="168.1" y2="270.72" stroke="#000" stroke-width="1.2"/>
<text transform="translate(161.5 272.72) scale(0.95 1)" font-size="8.3" text-anchor="end" fill="#111">−100</text>
<line x1="184.82" y1="287.4" x2="184.82" y2="290.4" stroke="#000" stroke-width="1.2"/>
<text transform="translate(188.02 297.9) rotate(-45) scale(0.95 1)" font-size="8.3" text-anchor="end" fill="#111">−100</text>
<line x1="165.1" y1="254.03" x2="168.1" y2="254.03" stroke="#000" stroke-width="1.2"/>
<text transform="translate(161.5 256.03) scale(0.95 1)" font-size="8.3" text-anchor="end" fill="#111">−50</text>
<line x1="201.53" y1="287.4" x2="201.53" y2="290.4" stroke="#000" stroke-width="1.2"/>
<text transform="translate(204.73 297.9) rotate(-45) scale(0.95 1)" font-size="8.3" text-anchor="end" fill="#111">−50</text>
<line x1="165.1" y1="237.35" x2="168.1" y2="237.35" stroke="#000" stroke-width="1.2"/>
<text transform="translate(161.5 239.35) scale(0.95 1)" font-size="8.3" text-anchor="end" fill="#111">0</text>
<line x1="218.25" y1="287.4" x2="218.25" y2="290.4" stroke="#000" stroke-width="1.2"/>
<text transform="translate(221.45 297.9) rotate(-45) scale(0.95 1)" font-size="8.3" text-anchor="end" fill="#111">0</text>
<line x1="165.1" y1="220.67" x2="168.1" y2="220.67" stroke="#000" stroke-width="1.2"/>
<text transform="translate(161.5 222.67) scale(0.95 1)" font-size="8.3" text-anchor="end" fill="#111">50</text>
<line x1="234.97" y1="287.4" x2="234.97" y2="290.4" stroke="#000" stroke-width="1.2"/>
<text transform="translate(238.17 297.9) rotate(-45) scale(0.95 1)" font-size="8.3" text-anchor="end" fill="#111">50</text>
<line x1="165.1" y1="203.98" x2="168.1" y2="203.98" stroke="#000" stroke-width="1.2"/>
<text transform="translate(161.5 205.98) scale(0.95 1)" font-size="8.3" text-anchor="end" fill="#111">100</text>
<line x1="251.68" y1="287.4" x2="251.68" y2="290.4" stroke="#000" stroke-width="1.2"/>
<text transform="translate(254.88 297.9) rotate(-45) scale(0.95 1)" font-size="8.3" text-anchor="end" fill="#111">100</text>
<line x1="165.1" y1="187.3" x2="168.1" y2="187.3" stroke="#000" stroke-width="1.2"/>
<text transform="translate(161.5 189.3) scale(0.95 1)" font-size="8.3" text-anchor="end" fill="#111">150</text>
<line x1="268.4" y1="287.4" x2="268.4" y2="290.4" stroke="#000" stroke-width="1.2"/>
<text transform="translate(271.6 297.9) rotate(-45) scale(0.95 1)" font-size="8.3" text-anchor="end" fill="#111">150</text>
<text x="265.6" y="197.9" font-size="7.55" text-anchor="end" fill="#111"><tspan font-style="italic">P</tspan> = .067</text>
<text x="275.9" y="216.6" font-size="8.2" text-anchor="start">FVIII</text>
<text x="291.5" y="260.1" font-size="8.2" text-anchor="middle">Influenza</text>
<text x="291.2" y="270.1" font-size="8.2" text-anchor="middle">+ MF59</text>
<line x1="364.5" y1="186.5" x2="364.5" y2="285.5" stroke="#e0e0e0" stroke-width="0.9"/>
<line x1="348" y1="269.5" x2="446.5" y2="269.5" stroke="#e0e0e0" stroke-width="0.9"/>
<line x1="380.5" y1="186.5" x2="380.5" y2="285.5" stroke="#e0e0e0" stroke-width="0.9"/>
<line x1="348" y1="252.5" x2="446.5" y2="252.5" stroke="#e0e0e0" stroke-width="0.9"/>
<line x1="413.5" y1="186.5" x2="413.5" y2="285.5" stroke="#e0e0e0" stroke-width="0.9"/>
<line x1="348" y1="219.5" x2="446.5" y2="219.5" stroke="#e0e0e0" stroke-width="0.9"/>
<line x1="430.5" y1="186.5" x2="430.5" y2="285.5" stroke="#e0e0e0" stroke-width="0.9"/>
<line x1="348" y1="203.5" x2="446.5" y2="203.5" stroke="#e0e0e0" stroke-width="0.9"/>
<line x1="397.5" y1="186.5" x2="397.5" y2="285.5" stroke="#909090" stroke-width="1.0"/>
<line x1="348" y1="236.5" x2="446.5" y2="236.5" stroke="#909090" stroke-width="1.0"/>
<path d="M397.25 236 L397.95 231.65 L399.17 233.61 L400.32 229.73 L400.84 231.63 L401.68 233.91 L397.81 233.93" fill="none" stroke="#111" stroke-width="0.55" stroke-opacity="1" stroke-linejoin="round"/>
<path d="M397.25 236 L394.19 237.3 L395.64 234.25 L394.93 229.38 L397.01 223.69 L403.58 224.25 L402.97 226.07" fill="none" stroke="#111" stroke-width="0.55" stroke-opacity="1" stroke-linejoin="round"/>
<path d="M397.25 236 L397.31 236.6 L396.35 234.86 L401.04 229.92 L406.42 231.11 L405.76 227.68 L410.6 230.37 L412.54 235.77 L405.95 234.98 L404.04 231.6 L403.35 232.17" fill="none" stroke="#111" stroke-width="0.55" stroke-opacity="1" stroke-linejoin="round"/>
<path d="M397.25 236 L397.8 238.16 L395.53 231.54 L394.91 232.08 L396.05 236.14 L392.23 229.03 L390.17 233.63 L395.18 232.74" fill="none" stroke="#111" stroke-width="0.55" stroke-opacity="1" stroke-linejoin="round"/>
<circle cx="395.18" cy="232.74" r="1.1" fill="#000"/>
<path d="M397.25 236 L398.01 241.92 L402.91 247.71 L410.76 244.56 L417.08 243.05 L413.76 241.67" fill="none" stroke="#111" stroke-width="0.55" stroke-opacity="1" stroke-linejoin="round"/>
<path d="M397.25 236 L396.86 236.72 L395.75 238.67 L396.51 236.19 L396.57 231.1 L397.71 230.83 L397.62 230.88 L396.25 228.42 L396.87 227.11 L400.59 228 L400.02 229.14" fill="none" stroke="#111" stroke-width="0.55" stroke-opacity="1" stroke-linejoin="round"/>
<path d="M397.25 236 L397.55 235.43 L401.48 237.42 L403.74 237.01 L400.07 236.67 L403.01 235.44 L405.9 233.39 L407.24 231.25 L403.82 228.91 L397.04 226.28 L398.21 229.95 L398.64 228" fill="none" stroke="#111" stroke-width="0.55" stroke-opacity="1" stroke-linejoin="round"/>
<path d="M397.25 236 L391.87 239.12 L393.19 238.6 L396.88 238.37 L394.25 237.34 L393.63 236.59 L401.26 237.74" fill="none" stroke="#111" stroke-width="0.55" stroke-opacity="1" stroke-linejoin="round"/>
<path d="M397.25 236 L396.47 236.55 L394.99 239.15 L395.62 238.6 L397.19 237.92 L397.05 240.98 L396.73 244.32 L397.99 239.39 L402.84 237.7" fill="none" stroke="#111" stroke-width="0.55" stroke-opacity="1" stroke-linejoin="round"/>
<path d="M397.25 236 L393.41 233.2 L392.95 235.05 L393.4 233.92 L396.42 237.21 L393.04 240.32 L393.74 236.5 L391.72 233.46 L391.1 234.78 L393.28 235.19 L396.28 233.65" fill="none" stroke="#111" stroke-width="0.55" stroke-opacity="1" stroke-linejoin="round"/>
<path d="M397.25 236 L399.18 235.92 L400.11 233.44 L392.87 235.23 L394.54 240.34 L399.78 239.52 L402.13 241.57 L403.95 240.38 L400.87 239.73 L396.87 238.98 L399.63 238.98 L398.94 234.99 L399.01 233.49" fill="none" stroke="#111" stroke-width="0.55" stroke-opacity="1" stroke-linejoin="round"/>
<path d="M397.25 236 L401.51 237.76 L403.69 240.02 L404.36 242.56 L403.24 239.54 L405.65 239.43 L405.58 237.91 L404.69 239.25 L403.49 241.34 L407.28 237.23 L398.48 234.86" fill="none" stroke="#111" stroke-width="0.55" stroke-opacity="1" stroke-linejoin="round"/>
<path d="M397.25 236 L401.78 233.55 L406.12 232.68 L400.94 236.31 L403.55 235.57 L405.3 230.79 L404.14 232.43 L406.06 236.22" fill="none" stroke="#111" stroke-width="0.55" stroke-opacity="1" stroke-linejoin="round"/>
<path d="M397.25 236 L397.2 230.82 L399.43 230.01 L402.31 227.07 L402.06 225.93 L401.36 220.87 L399.55 217.18" fill="none" stroke="#111" stroke-width="0.55" stroke-opacity="1" stroke-linejoin="round"/>
<path d="M397.25 236 L396.2 232.58 L395.23 232.82 L394.52 233.63 L393.62 235.3 L396.03 233.75 L391.04 231.38 L394.43 231.83 L393.89 236.47 L393.74 238.02 L394.23 236.11 L397.54 236.02" fill="none" stroke="#111" stroke-width="0.55" stroke-opacity="1" stroke-linejoin="round"/>
<circle cx="397.54" cy="236.02" r="1.1" fill="#000"/>
<path d="M397.25 236 L400.71 237.73 L402.17 234.49 L400.9 232.65 L406.43 237.36 L407.14 235.16 L402.25 234.4 L399.07 235.96 L394.33 237.91 L394.52 236.46" fill="none" stroke="#111" stroke-width="0.55" stroke-opacity="1" stroke-linejoin="round"/>
<path d="M397.25 236 L394.52 232.96 L396.58 228.12 L398.39 231.19 L399.27 231.39 L398.8 233.77 L396.2 238.04" fill="none" stroke="#111" stroke-width="0.55" stroke-opacity="1" stroke-linejoin="round"/>
<path d="M397.25 236 L396.38 234.78 L395.27 234.47 L398.84 231.4 L391.08 233.65 L393.11 228.23 L390.46 230.04 L391.53 235.33 L393.8 233.8 L398.75 235.14 L399.83 230.73 L398.5 234.77" fill="none" stroke="#111" stroke-width="0.55" stroke-opacity="1" stroke-linejoin="round"/>
<circle cx="398.5" cy="234.77" r="1.1" fill="#000"/>
<path d="M397.25 236 L396.53 234.06 L399.62 235.28 L400.02 229.74 L398.01 230.3 L398.79 231.6 L401.32 228.84" fill="none" stroke="#111" stroke-width="0.55" stroke-opacity="1" stroke-linejoin="round"/>
<path d="M397.25 236 L397.65 236.62 L397.76 242.66 L397.06 245.34 L396.84 243.16 L388.47 242.05 L391.1 247.91 L394.49 246.18 L393.41 246.03 L388.48 246.81 L386.72 243.65" fill="none" stroke="#111" stroke-width="0.55" stroke-opacity="1" stroke-linejoin="round"/>
<path d="M397.25 236 L394.44 232.72 L393.37 231.76 L398.29 227.84 L402.01 227.28 L398.58 232.78" fill="none" stroke="#111" stroke-width="0.55" stroke-opacity="1" stroke-linejoin="round"/>
<path d="M397.25 236 L404.67 236.25 L401.25 233.85 L405.94 229.89 L404.6 229.42 L401.26 226.9 L394.88 223.98 L398.07 228.31 L396.19 230.36 L396.68 230.5 L395.26 234.18 L396.1 233.24" fill="none" stroke="#111" stroke-width="0.55" stroke-opacity="1" stroke-linejoin="round"/>
<path d="M397.25 236 L393.99 235.51 L396.28 234.38 L395.34 236.35 L392.06 235.41 L393.31 236.59 L393.56 232.83 L395.51 239.09" fill="none" stroke="#111" stroke-width="0.55" stroke-opacity="1" stroke-linejoin="round"/>
<path d="M397.25 236 L396.48 233.39 L396.93 229.59 L394.59 232.56 L396.1 234.98 L395.09 226.85 L395.72 228.99 L396.46 229.58 L395.55 233.37 L399.47 236.06 L401.12 239.48 L403.89 237.23 L404.37 236.73" fill="none" stroke="#111" stroke-width="0.55" stroke-opacity="1" stroke-linejoin="round"/>
<path d="M397.25 236 L401.55 242.39 L400.12 245.92 L395.82 243.71 L405.12 241.95 L402.05 238.49 L401.44 238.4 L399.61 238.01 L396.71 233.01 L398.09 233.88" fill="none" stroke="#111" stroke-width="0.55" stroke-opacity="1" stroke-linejoin="round"/>
<path d="M397.25 236 L397.83 233.68 L398.47 238.18 L406.31 240.66 L406.29 237.17 L406.13 238.33 L401.61 236.67 L403.36 237.83 L402.61 234.7 L404.13 231.7 L411.25 231.16 L410.2 234.92 L407.88 233.28" fill="none" stroke="#111" stroke-width="0.55" stroke-opacity="1" stroke-linejoin="round"/>
<path d="M397.25 236 L396.23 230.71 L396.29 235.31 L398.08 232.31 L399.89 233.59 L397.86 232.06" fill="none" stroke="#111" stroke-width="0.55" stroke-opacity="1" stroke-linejoin="round"/>
<path d="M397.25 236 L404.01 238.54 L403.16 234.88 L403.6 232.65 L409.41 225.01 L408.62 226.92" fill="none" stroke="#111" stroke-width="0.55" stroke-opacity="1" stroke-linejoin="round"/>
<path d="M397.25 236 L396.23 241.41 L398.45 251.86 L396.99 251.63 L397.54 240.76 L398.64 234.77" fill="none" stroke="#111" stroke-width="0.55" stroke-opacity="1" stroke-linejoin="round"/>
<path d="M397.25 236 L406.45 233.72 L403.49 231.33 L405.96 233.23 L406.8 232.57 L405.42 232.68 L407.14 233.13 L407.34 236.97 L409.48 236.23 L410.99 240.76 L411.49 242.09 L406.57 241.49 L405.77 246.76" fill="none" stroke="#111" stroke-width="0.55" stroke-opacity="1" stroke-linejoin="round"/>
<circle cx="405.77" cy="246.76" r="1.1" fill="#000"/>
<path d="M397.25 236 L398.84 238.41 L403.09 233.63 L403.3 232.73 L402.06 234.18 L403.33 238.5 L402.46 232.39 L407.59 229.13 L404.65 231.35 L407.04 228.89" fill="none" stroke="#111" stroke-width="0.55" stroke-opacity="1" stroke-linejoin="round"/>
<circle cx="407.04" cy="228.89" r="1.1" fill="#000"/>
<path d="M397.25 236 L396.4 238.75 L398.11 243.97 L398.93 243.34 L405.56 239.46 L403.18 238.31 L402.79 237.58" fill="none" stroke="#111" stroke-width="0.55" stroke-opacity="1" stroke-linejoin="round"/>
<path d="M397.25 236 L395.84 234.66 L389.1 242.96 L392.04 245.09 L388.27 250.18 L389.74 250.43 L394.27 252.61 L395.37 247.86" fill="none" stroke="#111" stroke-width="0.55" stroke-opacity="1" stroke-linejoin="round"/>
<path d="M397.25 236 L390.07 233.15 L393.86 230 L392.77 230.13 L393.46 235.09 L396.7 238.57 L394.72 241.57 L397.26 236.47 L397.04 233.39 L387.8 231.7 L391.54 230.14 L397.44 233.82 L398.8 234.68" fill="none" stroke="#111" stroke-width="0.55" stroke-opacity="1" stroke-linejoin="round"/>
<path d="M397.25 236 L393.56 241.63 L400.94 239.55 L397.71 241.52 L396.71 240.41 L394.26 236.74 L397.53 233.94 L398.58 235.3" fill="none" stroke="#111" stroke-width="0.55" stroke-opacity="1" stroke-linejoin="round"/>
<path d="M397.25 236 L394.77 236.4 L398.39 238.43 L398.44 237.83 L396.65 238.66 L397.25 235.99 L393.36 240.61 L391.3 239.61 L394.87 237.25 L396.33 235.48 L399.36 233.4 L392.84 233.5 L400.5 234.18" fill="none" stroke="#111" stroke-width="0.55" stroke-opacity="1" stroke-linejoin="round"/>
<path d="M397.25 236 L394.43 236.3 L395.2 237.93 L390.8 237.9 L393.79 239.43 L395.43 233.19 L395.07 226.04 L395.18 229.24 L395.49 229.95 L396.29 228.22 L395.15 228.13 L394.86 237.14 L398.82 232.81" fill="none" stroke="#111" stroke-width="0.55" stroke-opacity="1" stroke-linejoin="round"/>
<path d="M397.25 236 L398.38 235.95 L395.01 236.87 L399.11 239.33 L397.95 235.44 L401.3 240.65 L403.82 236.69 L399.1 238.3 L402.46 241.77 L407.07 239.61 L402.23 239.58" fill="none" stroke="#111" stroke-width="0.55" stroke-opacity="1" stroke-linejoin="round"/>
<path d="M397.25 236 L394.11 233.94 L387.26 232.25 L393.1 231.28 L391.69 231.7 L391.05 233.91 L390.85 238.61 L390.67 237.37" fill="none" stroke="#111" stroke-width="0.55" stroke-opacity="1" stroke-linejoin="round"/>
<path d="M397.25 236 L398.78 237.61 L393.35 240.7 L395.5 240.77 L401.4 241.38 L403.48 238.36 L400.63 234.78 L398.19 229 L390.84 230.38 L391.61 226.49 L390.8 227.8 L392.7 230.28" fill="none" stroke="#111" stroke-width="0.55" stroke-opacity="1" stroke-linejoin="round"/>
<path d="M397.25 236 L399.64 228.72 L405.66 229.29 L403.44 227.81 L407.24 229.01 L406.39 233.07 L403.73 230.71 L402.29 228.68 L404.86 228.3" fill="none" stroke="#111" stroke-width="0.55" stroke-opacity="1" stroke-linejoin="round"/>
<path d="M397.25 236 L399.67 231.84 L398.74 230.25 L399.6 227.49 L400.21 222.11 L401.82 227.77 L403.92 227.89" fill="none" stroke="#111" stroke-width="0.55" stroke-opacity="1" stroke-linejoin="round"/>
<circle cx="403.92" cy="227.89" r="1.1" fill="#000"/>
<path d="M397.25 236 L392.95 233.56 L394.72 234.81 L396.89 234.36 L396.09 231.48 L397.62 232.3 L396.84 231.78 L399.47 234.05" fill="none" stroke="#111" stroke-width="0.55" stroke-opacity="1" stroke-linejoin="round"/>
<path d="M397.25 236 L393.99 234.29 L391.02 236.69 L391.1 229.28 L390.37 234.85 L389.21 239.98 L387.41 237.43 L393.84 242.11" fill="none" stroke="#111" stroke-width="0.55" stroke-opacity="1" stroke-linejoin="round"/>
<path d="M397.25 236 L397.9 238.76 L396.64 237.2 L400.45 241.33 L398.19 242.84 L396.42 242.15 L393.94 242.36 L391.14 244.48 L393.2 244.79" fill="none" stroke="#111" stroke-width="0.55" stroke-opacity="1" stroke-linejoin="round"/>
<path d="M397.25 236 L395.4 238.43 L393 236.19 L386.32 239.16 L386.23 239.67 L383.2 241.99 L388.89 242.7" fill="none" stroke="#111" stroke-width="0.55" stroke-opacity="1" stroke-linejoin="round"/>
<path d="M397.25 236 L399.44 241.6 L399.89 243.58 L401.6 242.66 L403.02 239.57 L401.89 241.32 L404.37 239.89 L401.73 240.88 L399.78 240.81 L400.65 237.86 L401.75 238.56 L399.2 234.06 L395.49 233.41" fill="none" stroke="#111" stroke-width="0.55" stroke-opacity="1" stroke-linejoin="round"/>
<path d="M397.25 236 L398.57 234.41 L397.4 237.27 L397.01 236.81 L398.95 234.36 L398.56 228.72 L403.61 229.15" fill="none" stroke="#111" stroke-width="0.55" stroke-opacity="1" stroke-linejoin="round"/>
<path d="M397.25 236 L397.17 233.55 L399.5 237.75 L397.73 240.46 L398.18 237.3 L399.29 239.17 L397.49 238.14 L396.16 235.52 L395.96 237.96 L394.86 241.74 L394.12 239.37 L398 243.66" fill="none" stroke="#111" stroke-width="0.55" stroke-opacity="1" stroke-linejoin="round"/>
<path d="M397.25 236 L400.94 240.59 L397.83 236.95 L395.86 242.01 L392.93 241.46 L398.26 241.11 L395.45 235.52 L394.24 232.48" fill="none" stroke="#111" stroke-width="0.55" stroke-opacity="1" stroke-linejoin="round"/>
<path d="M397.25 236 L394.38 241.1 L396.42 241.86 L392.81 234.89 L394.17 236.76 L394.75 235.42 L399.27 231.42 L402.88 232.72 L401.04 231.78 L401.53 232.28" fill="none" stroke="#111" stroke-width="0.55" stroke-opacity="1" stroke-linejoin="round"/>
<path d="M397.25 236 L400.64 232.89 L404.98 229.64 L408.81 229.04 L407.71 228.97 L411.16 231.69 L405.33 236.74" fill="none" stroke="#111" stroke-width="0.55" stroke-opacity="1" stroke-linejoin="round"/>
<path d="M397.25 236 L403.16 235.11 L408.29 237.28 L402.94 241.43 L403.5 244.07 L399.76 241.34 L397.62 243.03 L393.97 240.74 L396.88 238.66 L397.15 235.78" fill="none" stroke="#111" stroke-width="0.55" stroke-opacity="1" stroke-linejoin="round"/>
<path d="M397.25 236 L393.99 237.42 L395.6 233.91 L396.78 230.38 L400.25 234.95 L402.8 240.49 L405.13 240.74 L402.33 237.52 L404.91 237.71 L410.94 236.18 L408.85 235.21 L410.55 236.05" fill="none" stroke="#111" stroke-width="0.55" stroke-opacity="1" stroke-linejoin="round"/>
<path d="M397.25 236 L398.52 234.93 L395.75 233.76 L393.78 232.5 L399.59 229.85 L400.62 232.95 L404.05 230.39 L399.21 231.73" fill="none" stroke="#111" stroke-width="0.55" stroke-opacity="1" stroke-linejoin="round"/>
<circle cx="399.21" cy="231.73" r="1.1" fill="#000"/>
<path d="M397.25 236 L396.75 233.59 L402.49 232.69 L399.48 229.25 L397.19 230.65 L402.17 234.06 L400.23 231.68 L397.07 232.94" fill="none" stroke="#111" stroke-width="0.55" stroke-opacity="1" stroke-linejoin="round"/>
<path d="M397.25 236 L400.27 240.31 L396.93 243.3 L396.98 241.04 L394.15 242.49 L388.75 245.56 L385.3 245.19 L388.15 246.6 L390.23 247.02 L390.45 245.55" fill="none" stroke="#111" stroke-width="0.55" stroke-opacity="1" stroke-linejoin="round"/>
<path d="M397.25 236 L397.83 236.19 L393.13 237.69 L385.53 234.88 L390.55 234.07 L390.51 236.88 L393.63 237.73 L393.84 234.51 L395.61 237.73 L399.46 234.5" fill="none" stroke="#111" stroke-width="0.55" stroke-opacity="1" stroke-linejoin="round"/>
<circle cx="399.46" cy="234.5" r="1.1" fill="#000"/>
<path d="M397.25 236 L402.49 230.87 L401.33 236.71 L406.82 238.46 L406.08 237.86 L405.4 238.09 L403.12 236.53 L404.81 236.19 L401.17 236.16 L396.42 237.81 L394.3 236.65 L396.93 235.96" fill="none" stroke="#111" stroke-width="0.55" stroke-opacity="1" stroke-linejoin="round"/>
<path d="M397.25 236 L398.01 235.56 L402.69 239.86 L410.03 242.19 L402.78 242.46 L405.95 240.62 L405.15 244.15 L406.68 241.31 L405.93 232.34" fill="none" stroke="#111" stroke-width="0.55" stroke-opacity="1" stroke-linejoin="round"/>
<path d="M397.25 236 L392.27 230.7 L394.61 236.1 L393.03 235.98 L391.24 230.49 L387.04 232.03 L391.31 233.15 L395.12 233.55 L398.09 234.95" fill="none" stroke="#111" stroke-width="0.55" stroke-opacity="1" stroke-linejoin="round"/>
<path d="M397.25 236 L394.57 240.13 L395.64 242.21 L393.48 241.86 L394.59 237.95 L396.38 237.96 L395.96 231.67 L396.84 233.36 L396.7 234.64" fill="none" stroke="#111" stroke-width="0.55" stroke-opacity="1" stroke-linejoin="round"/>
<path d="M397.25 236 L398.93 241.74 L398.03 244.44 L404.43 243.64 L403.71 243.28 L399.98 243.87 L399.29 252.27 L399.11 247.12" fill="none" stroke="#111" stroke-width="0.55" stroke-opacity="1" stroke-linejoin="round"/>
<path d="M397.25 236 L395.31 235.11 L392.89 235.56 L397.82 235.95 L395.86 236.38 L399.14 235.61 L396.21 237.27 L397.18 237.94 L394.79 242.32" fill="none" stroke="#111" stroke-width="0.55" stroke-opacity="1" stroke-linejoin="round"/>
<path d="M397.25 236 L398.91 231.53 L402.68 235.28 L397.73 238.35 L396.87 241.03 L397.74 239.76 L394.81 237.41" fill="none" stroke="#111" stroke-width="0.55" stroke-opacity="1" stroke-linejoin="round"/>
<circle cx="394.81" cy="237.41" r="1.1" fill="#000"/>
<path d="M397.25 236 L400.01 235.43 L400.74 237.43 L401.12 238.85 L400.57 236.22 L396.72 232.52 L394.44 230.62 L398.93 230.18 L396.02 228.93 L390.48 229.1 L394.91 228.16 L392.02 228.04" fill="none" stroke="#111" stroke-width="0.55" stroke-opacity="1" stroke-linejoin="round"/>
<path d="M397.25 236 L397.84 232.49 L398.6 234.08 L399.12 235.39 L396.35 239.83 L391.95 240.89 L390.25 235.04 L392.21 233.65 L393.56 237.08 L393.21 234.49 L391.66 233.75 L395.32 235.88" fill="none" stroke="#111" stroke-width="0.55" stroke-opacity="1" stroke-linejoin="round"/>
<path d="M397.25 236 L392.28 238.21 L391.8 238.84 L390.2 237.93 L385.71 240.92 L384.61 243.44 L381.01 242.34 L388.69 242.17" fill="none" stroke="#111" stroke-width="0.55" stroke-opacity="1" stroke-linejoin="round"/>
<circle cx="388.69" cy="242.17" r="1.1" fill="#000"/>
<path d="M397.25 236 L398.3 231.18 L400.77 230.12 L395.32 232.07 L392.1 229.27 L395.44 227.63 L394.51 223.52" fill="none" stroke="#111" stroke-width="0.55" stroke-opacity="1" stroke-linejoin="round"/>
<path d="M397.25 236 L396.6 237.28 L392.67 238.42 L395.62 232.42 L389.05 232.07 L389.71 233.04 L387.22 235.34 L388.64 233.55 L394.79 234.89 L398.13 241.24" fill="none" stroke="#111" stroke-width="0.55" stroke-opacity="1" stroke-linejoin="round"/>
<path d="M397.25 236 L399.1 240.59 L399.46 240.63 L403.21 242.83 L402.66 247.39 L410.31 248.93 L410 252.13 L408.09 247.83 L406.57 247.34" fill="none" stroke="#111" stroke-width="0.55" stroke-opacity="1" stroke-linejoin="round"/>
<path d="M397.25 236 L395.84 238.31 L396.28 242.57 L393.89 239.32 L395.76 241.83 L392.33 244.89 L390.92 244.36 L395.28 245.64 L394.88 244.24 L394.14 247.17 L394.19 244.39 L394.22 243.62 L393.81 242.62" fill="none" stroke="#111" stroke-width="0.55" stroke-opacity="1" stroke-linejoin="round"/>
<path d="M397.25 236 L390.96 235.24 L395.95 235.75 L397.77 229.16 L393.22 231.94 L393.68 231.92 L391.54 234.08 L392.1 232.92 L395.84 230.01 L395.1 232.04 L401.27 234.34" fill="none" stroke="#111" stroke-width="0.55" stroke-opacity="1" stroke-linejoin="round"/>
<path d="M397.25 236 L403.7 232.84 L400.8 239.17 L396.48 239.24 L399.97 234.97 L397.36 231.55 L397.47 231.77 L395.82 232.8 L391.84 230.55 L391.77 235.89 L390.12 235.03 L392.69 234.21 L395.23 233.92" fill="none" stroke="#111" stroke-width="0.55" stroke-opacity="1" stroke-linejoin="round"/>
<circle cx="395.23" cy="233.92" r="1.1" fill="#000"/>
<path d="M397.25 236 L394.6 231.9 L394.84 231.83 L395.7 234.86 L395.53 236.27 L396.71 235.77 L395.43 234.06 L392.93 235.35 L392.04 236.68" fill="none" stroke="#111" stroke-width="0.55" stroke-opacity="1" stroke-linejoin="round"/>
<path d="M397.25 236 L398.32 231.28 L401.37 227.71 L399.07 224.54 L404.54 228.15 L400.32 228.53 L399.81 228.75" fill="none" stroke="#111" stroke-width="0.55" stroke-opacity="1" stroke-linejoin="round"/>
<path d="M397.25 236 L398.55 238.31 L399.88 238.62 L399.1 240.23 L401.6 240.08 L403.87 246.1 L403.11 245.16 L402 241.71 L400.14 240.06 L399.46 241 L400.98 243.47" fill="none" stroke="#111" stroke-width="0.55" stroke-opacity="1" stroke-linejoin="round"/>
<path d="M397.25 236 L404.65 239.22 L406.07 242.47 L407.1 242.6 L410.91 241.22 L407.33 236.09 L408.82 233.84 L404.77 237.79 L402.87 240.82 L399 242.01 L398.62 238.75 L401.43 236.02" fill="none" stroke="#111" stroke-width="0.55" stroke-opacity="1" stroke-linejoin="round"/>
<path d="M397.25 236 L399.96 236.85 L401.82 232.86 L400.06 234.42 L400.59 234.85 L402.57 236.36 L398.49 234.97" fill="none" stroke="#111" stroke-width="0.55" stroke-opacity="1" stroke-linejoin="round"/>
<path d="M397.25 236 L399.45 231.47 L398.09 229.29 L402.97 229.42 L400.65 233.45 L399.08 233.13" fill="none" stroke="#111" stroke-width="0.55" stroke-opacity="1" stroke-linejoin="round"/>
<circle cx="399.08" cy="233.13" r="1.1" fill="#000"/>
<path d="M397.25 236 L395.8 235.48 L394.99 235.33 L397.02 236.64 L394.94 242.92 L396.53 237.8 L398.46 242.95" fill="none" stroke="#111" stroke-width="0.55" stroke-opacity="1" stroke-linejoin="round"/>
<path d="M397.25 236 L397.83 236.17 L400.61 241.26 L398.15 241.78 L402.6 242.65 L401.99 238.28 L402.63 240.01 L405.12 241.93 L405.16 243.14 L405.61 243.58 L405.84 240.74 L402.15 245.1" fill="none" stroke="#111" stroke-width="0.55" stroke-opacity="1" stroke-linejoin="round"/>
<path d="M397.25 236 L395 235.53 L396.02 237.06 L397.87 240.41 L396.49 241.25 L396.96 245.03 L397.02 243.76 L395.11 239.92 L397.03 243.18 L393.72 246.02 L392.77 245.57 L392.76 247.33" fill="none" stroke="#111" stroke-width="0.55" stroke-opacity="1" stroke-linejoin="round"/>
<path d="M397.25 236 L399.46 233.53 L399.37 224.69 L399.42 221.61 L398.29 221.01 L399.37 221.34" fill="none" stroke="#111" stroke-width="0.55" stroke-opacity="1" stroke-linejoin="round"/>
<path d="M397.25 236 L401.58 238.11 L401.35 234.44 L402.01 228.86 L409.17 238.08 L408.01 240.33 L406.77 235.74" fill="none" stroke="#111" stroke-width="0.55" stroke-opacity="1" stroke-linejoin="round"/>
<path d="M397.25 236 L392.01 234.86 L396.39 234.15 L398.73 232.3 L399.3 229.5 L398.65 228.62 L402.95 231.98 L407.18 228.22 L406.29 227.33 L410.11 226.34" fill="none" stroke="#111" stroke-width="0.55" stroke-opacity="1" stroke-linejoin="round"/>
<path d="M397.25 236 L399.7 240.12 L396.96 240.42 L400 242.39 L394.54 241.94 L397.74 240.59 L397.04 239.86" fill="none" stroke="#111" stroke-width="0.55" stroke-opacity="1" stroke-linejoin="round"/>
<path d="M397.25 236 L392.22 238.09 L394.63 243.37 L392.99 242.58 L391.6 239.23 L387.39 236.4 L386.16 238.8 L387.31 240.15" fill="none" stroke="#111" stroke-width="0.55" stroke-opacity="1" stroke-linejoin="round"/>
<path d="M397.25 236 L400.57 234.39 L398.57 232.96 L402.82 231.06 L398.85 227.34 L402.33 227.81 L397.87 224.64" fill="none" stroke="#111" stroke-width="0.55" stroke-opacity="1" stroke-linejoin="round"/>
<path d="M397.25 236 L395.65 233.48 L391.77 232.08 L390.78 235.59 L392.17 230.8 L396.53 230.58 L392.93 231.32 L391.26 227.71 L395.84 226.7 L393.52 229.26 L398.48 231.65 L395.21 233.89 L398.36 235.95" fill="none" stroke="#111" stroke-width="0.55" stroke-opacity="1" stroke-linejoin="round"/>
<path d="M397.25 236 L391.29 235.07 L389.36 234.2 L385.02 239.03 L383.66 235.84 L388.61 234.83 L385.98 234.81 L383.93 238.38 L389.53 233.83 L390.28 235.69 L393.24 237.22 L398.41 235.66" fill="none" stroke="#111" stroke-width="0.55" stroke-opacity="1" stroke-linejoin="round"/>
<path d="M397.25 236 L398.46 236.68 L400.65 239.73 L401.34 236.22 L399.51 237.53 L399.34 233.37 L397.51 237.65 L400.01 241.09 L399.5 240.34" fill="none" stroke="#111" stroke-width="0.55" stroke-opacity="1" stroke-linejoin="round"/>
<path d="M397.25 236 L400.95 237.35 L403.42 236.64 L402.64 235.44 L401.46 239.5 L401.27 238 L399.26 236.55 L402.25 233.79 L405.52 230.64 L405.35 235.5 L405.49 234.43" fill="none" stroke="#111" stroke-width="0.55" stroke-opacity="1" stroke-linejoin="round"/>
<path d="M397.25 236 L398.09 237.94 L394.54 237.26 L392.21 236.73 L391.96 233.88 L395.55 233.71 L401.07 234.01 L401.38 231.13 L400.4 232.95 L402.02 238.69 L405.08 236.81 L403.2 235.49" fill="none" stroke="#111" stroke-width="0.55" stroke-opacity="1" stroke-linejoin="round"/>
<circle cx="403.2" cy="235.49" r="1.1" fill="#000"/>
<path d="M397.25 236 L394.93 235.13 L393.12 236.71 L396.45 237.58 L399.14 236.92 L403.22 235.29 L403.29 234.97 L400.07 223.9 L402.31 221.47 L399.69 217.69 L396.27 212.07 L396.51 209.54" fill="none" stroke="#111" stroke-width="0.55" stroke-opacity="1" stroke-linejoin="round"/>
<path d="M397.25 236 L395.12 239.27 L397.78 235.25 L403.01 242.28 L409.42 240.18 L407.38 245.91 L407.72 245.73 L405.01 249.62 L398.38 247.93 L400.77 242.48" fill="none" stroke="#111" stroke-width="0.55" stroke-opacity="1" stroke-linejoin="round"/>
<path d="M397.25 236 L397.73 238.5 L400.3 236.64 L401.34 232.25 L397.68 231.94 L400.65 231.75 L397.35 233.76 L398.27 235.47" fill="none" stroke="#111" stroke-width="0.55" stroke-opacity="1" stroke-linejoin="round"/>
<path d="M397.25 236 L393.35 237.83 L394.15 236.73 L390.66 238.7 L390.91 238.12 L391.8 235.19 L392.73 234.34 L394.69 234.29 L390.23 230.76 L389.02 233.21 L386.58 235.57 L389.7 237.1 L396.59 235.81" fill="none" stroke="#111" stroke-width="0.55" stroke-opacity="1" stroke-linejoin="round"/>
<circle cx="396.59" cy="235.81" r="1.1" fill="#000"/>
<path d="M397.25 236 L399.2 236.29 L396.85 237.5 L398.5 240.02 L401.39 234.77 L401.71 235.47 L398.24 237.3 L395.54 234.28 L395.35 227.74 L395.73 233.69" fill="none" stroke="#111" stroke-width="0.55" stroke-opacity="1" stroke-linejoin="round"/>
<circle cx="395.73" cy="233.69" r="1.1" fill="#000"/>
<path d="M397.25 236 L396.79 236.74 L399.65 231.19 L401.23 232.16 L398.22 228.82 L397.3 224.26 L393.07 224.67" fill="none" stroke="#111" stroke-width="0.55" stroke-opacity="1" stroke-linejoin="round"/>
<path d="M397.25 236 L401.73 235.06 L403.71 233.27 L402.56 237.31 L406.11 237.73 L407.74 234.94 L406.2 236.87 L403.1 234.32" fill="none" stroke="#111" stroke-width="0.55" stroke-opacity="1" stroke-linejoin="round"/>
<path d="M397.25 236 L399.7 238.29 L395.63 240.78 L397.51 241.36 L403.56 236.87 L402.38 236.26 L403.81 232.51" fill="none" stroke="#111" stroke-width="0.55" stroke-opacity="1" stroke-linejoin="round"/>
<path d="M397.25 236 L395.75 235.31 L394.89 237.98 L400.55 237.95 L397.82 238.13 L393.5 237.08 L398.06 234.41 L398.64 236.29" fill="none" stroke="#111" stroke-width="0.55" stroke-opacity="1" stroke-linejoin="round"/>
<circle cx="398.64" cy="236.29" r="1.1" fill="#000"/>
<path d="M397.25 236 L396.85 238.27 L390.42 237.46 L393.75 239.32 L385.86 240.79 L387.58 241.26 L387.79 240.38 L389.56 242.54 L380.71 243.03 L385.01 242.87 L390.24 240.44" fill="none" stroke="#111" stroke-width="0.55" stroke-opacity="1" stroke-linejoin="round"/>
<circle cx="390.24" cy="240.44" r="1.1" fill="#000"/>
<path d="M397.25 236 L406.05 242.61 L405.21 239.36 L397.67 238.02 L401.55 244.45 L400.26 241.45 L400.52 239.06 L400.88 232.72" fill="none" stroke="#111" stroke-width="0.55" stroke-opacity="1" stroke-linejoin="round"/>
<circle cx="400.88" cy="232.72" r="1.1" fill="#000"/>
<path d="M397.25 236 L397.75 233.07 L393.02 236.89 L390.37 233.25 L395.34 233.13 L392.86 233.67 L391.11 234.16 L393.75 228.69 L397.99 227.01 L399.32 229.2 L399.02 228.54 L397.58 229.41 L398.36 231" fill="none" stroke="#111" stroke-width="0.55" stroke-opacity="1" stroke-linejoin="round"/>
<path d="M397.25 236 L394.79 233.03 L394.69 236.38 L397.85 236.93 L400.61 236.52 L399.62 241.2 L399.74 239.23 L403.18 237.81" fill="none" stroke="#111" stroke-width="0.55" stroke-opacity="1" stroke-linejoin="round"/>
<circle cx="403.18" cy="237.81" r="1.1" fill="#000"/>
<path d="M397.25 236 L397.42 235.28 L399.26 236.54 L402.8 235.11 L402.28 229.61 L400.4 230.6 L399.57 235.38 L401.2 233.86 L402.82 231.84 L402.93 231.74" fill="none" stroke="#111" stroke-width="0.55" stroke-opacity="1" stroke-linejoin="round"/>
<path d="M397.25 236 L393.19 241.25 L394.78 237.82 L401.28 234.41 L401.2 233.38 L398.13 234.26" fill="none" stroke="#111" stroke-width="0.55" stroke-opacity="1" stroke-linejoin="round"/>
<path d="M397.25 236 L396.28 237.1 L391.29 237.51 L384.82 238.45 L384.78 230.66 L385.06 233.17 L383.41 233.78 L385.09 235.25 L391.34 233.83 L395.86 236.22 L400.23 241.85" fill="none" stroke="#111" stroke-width="0.55" stroke-opacity="1" stroke-linejoin="round"/>
<circle cx="400.23" cy="241.85" r="1.1" fill="#000"/>
<path d="M397.25 236 L396.38 238.21 L398.96 239.94 L399.79 239.66 L396.58 235.5 L398.02 239.54 L399.6 238.5 L397.34 236.7 L399.07 237.07 L398.03 232.5 L399.61 229.79 L396.69 231.57 L396.69 234.2" fill="none" stroke="#111" stroke-width="0.55" stroke-opacity="1" stroke-linejoin="round"/>
<path d="M397.25 236 L392.27 232.09 L397.11 239.51 L399.15 237.26 L402.6 236.34 L401.28 240.2" fill="none" stroke="#111" stroke-width="0.55" stroke-opacity="1" stroke-linejoin="round"/>
<path d="M397.25 236 L395.06 234.03 L401.19 238.6 L398.55 236.14 L394.39 232.93 L393 233.8 L398.26 240.94 L398.79 243.06" fill="none" stroke="#111" stroke-width="0.55" stroke-opacity="1" stroke-linejoin="round"/>
<circle cx="398.79" cy="243.06" r="1.1" fill="#000"/>
<path d="M397.25 236 L394.08 236.96 L392.37 232.36 L389.66 237.46 L391.46 236.46 L389.39 237.99 L395.68 234.42 L399.38 233.21" fill="none" stroke="#111" stroke-width="0.55" stroke-opacity="1" stroke-linejoin="round"/>
<path d="M397.25 236 L395.79 235.03 L395.02 237.24 L393.86 239.99 L393.26 245.17 L399.02 242.13" fill="none" stroke="#111" stroke-width="0.55" stroke-opacity="1" stroke-linejoin="round"/>
<path d="M397.25 236 L397.08 234.04 L399.52 234.38 L400.98 229.97 L398.14 227.12 L401.84 232.31 L405.19 231.04 L405.57 232.86" fill="none" stroke="#111" stroke-width="0.55" stroke-opacity="1" stroke-linejoin="round"/>
<path d="M397.25 236 L400.57 236.5 L396.49 235.9 L400.45 234.5 L403.06 234.57 L400.86 234.44" fill="none" stroke="#111" stroke-width="0.55" stroke-opacity="1" stroke-linejoin="round"/>
<path d="M397.25 236 L394.38 243.94 L396.77 243.48 L397.67 240.32 L392.06 240.62 L392.74 239.27 L396.76 236.09 L398.66 235.07" fill="none" stroke="#111" stroke-width="0.55" stroke-opacity="1" stroke-linejoin="round"/>
<path d="M397.25 236 L404.78 236.33 L401.55 238.56 L400 236.38 L397.78 235.49 L394.74 230.51 L396.69 230.88 L394.68 231.45 L396.18 231.52 L390.96 229.87 L384.81 229.8 L388.08 232.32 L387.71 229.87" fill="none" stroke="#111" stroke-width="0.55" stroke-opacity="1" stroke-linejoin="round"/>
<path d="M397.25 236 L397.45 236.65 L394.6 234.23 L396.71 229.32 L398.02 230.94 L402.26 234.98 L411.01 239.44 L410.46 244.02 L415.27 238.27 L413.61 242.54 L410.07 241.45 L401.47 237.76 L399.28 239.29" fill="none" stroke="#111" stroke-width="0.55" stroke-opacity="1" stroke-linejoin="round"/>
<path d="M397.25 236 L403.04 234.69 L403.22 233.41 L404.42 232.45 L403.52 233.02 L396.6 232.16" fill="none" stroke="#111" stroke-width="0.55" stroke-opacity="1" stroke-linejoin="round"/>
<circle cx="396.6" cy="232.16" r="1.1" fill="#000"/>
<path d="M397.25 236 L396.91 234.6 L396.8 235.85 L399.05 236.41 L401.03 236.14 L402.49 235.35 L399.96 233.32 L402.25 234.07 L397.36 235.38 L396.25 233.37 L399.83 232.79" fill="none" stroke="#111" stroke-width="0.55" stroke-opacity="1" stroke-linejoin="round"/>
<path d="M397.25 236 L396.58 239.4 L386.2 239.54 L390 234.97 L392.17 233.28 L389.7 227.84 L389.37 228.08 L391.02 230.42 L393.45 238.92 L398.71 234.8" fill="none" stroke="#111" stroke-width="0.55" stroke-opacity="1" stroke-linejoin="round"/>
<path d="M397.25 236 L394.18 234.22 L390.16 233.6 L393.43 232.31 L397.06 233.03 L391.35 230.88 L390.29 228.06 L395.05 230.5 L394.16 234.22" fill="none" stroke="#111" stroke-width="0.55" stroke-opacity="1" stroke-linejoin="round"/>
<circle cx="394.16" cy="234.22" r="1.1" fill="#000"/>
<path d="M397.25 236 L403.43 234.04 L399.08 229.78 L398.41 220.99 L398.95 219.17 L395.37 215.1 L394.52 218.18 L397.22 217.88" fill="none" stroke="#111" stroke-width="0.55" stroke-opacity="1" stroke-linejoin="round"/>
<path d="M397.25 236 L400.09 228.59 L397.66 229.06 L397.63 229.13 L402.04 232.11 L396.63 228.49 L401.13 229.06 L399.21 232.61 L397.82 233.12 L398.31 234.2" fill="none" stroke="#111" stroke-width="0.55" stroke-opacity="1" stroke-linejoin="round"/>
<path d="M397.25 236 L395.99 235.62 L403.34 238.68 L401.09 238.36 L399.36 235.78 L400.07 234.99 L397.1 230.25 L397.49 234.35" fill="none" stroke="#111" stroke-width="0.55" stroke-opacity="1" stroke-linejoin="round"/>
<path d="M397.25 236 L390.32 241.48 L385.03 243.88 L387.62 246.12 L386.81 247.63 L385.26 249.86 L382.75 246.48 L383.46 244.25" fill="none" stroke="#111" stroke-width="0.55" stroke-opacity="1" stroke-linejoin="round"/>
<path d="M397.25 236 L392.89 238.83 L395.51 231.54 L390.8 233.68 L391.23 233.24 L394.66 238.84 L394.84 235.45 L394.04 236.17 L392.6 235.65 L396.74 235.99" fill="none" stroke="#111" stroke-width="0.55" stroke-opacity="1" stroke-linejoin="round"/>
<circle cx="396.74" cy="235.99" r="1.1" fill="#000"/>
<path d="M397.25 236 L393.47 237.54 L391.59 237.73 L388.46 240.91 L390.87 242.11 L393.68 239.48 L398.62 237.35 L396.91 237.36 L399.77 238.87 L400.3 236.45 L402.91 240.41 L398.37 239.51" fill="none" stroke="#111" stroke-width="0.55" stroke-opacity="1" stroke-linejoin="round"/>
<circle cx="398.37" cy="239.51" r="1.1" fill="#000"/>
<path d="M397.25 236 L394.56 230.91 L394.53 234.62 L389.43 237.01 L387.33 232.18 L388.46 234.13 L388.93 230.51" fill="none" stroke="#111" stroke-width="0.55" stroke-opacity="1" stroke-linejoin="round"/>
<circle cx="388.93" cy="230.51" r="1.1" fill="#000"/>
<path d="M397.25 236 L404.62 231.3 L401.96 234.84 L404.19 234.67 L401.23 228.81 L405.6 232.67 L399.36 230.93 L399.62 233.34" fill="none" stroke="#111" stroke-width="0.55" stroke-opacity="1" stroke-linejoin="round"/>
<path d="M397.25 236 L402.1 236.37 L402.22 234.47 L393.25 235 L393.66 236.2 L393.53 236.56 L394.98 236.77 L397.84 236.77 L398.51 234.92" fill="none" stroke="#111" stroke-width="0.55" stroke-opacity="1" stroke-linejoin="round"/>
<circle cx="398.51" cy="234.92" r="1.1" fill="#000"/>
<path d="M397.25 236 L398.84 239.87 L399.09 243.34 L400.36 239.56 L402.55 237.21 L400.31 236.54" fill="none" stroke="#111" stroke-width="0.55" stroke-opacity="1" stroke-linejoin="round"/>
<path d="M397.25 236 L397.69 239.16 L401.25 239.97 L405.79 238.28 L403.17 237.59 L398.51 235.12 L400.13 239.48 L402.33 237.31 L405.19 238.68 L407.1 241.11 L405.72 244.27 L401.57 243.92" fill="none" stroke="#111" stroke-width="0.55" stroke-opacity="1" stroke-linejoin="round"/>
<path d="M397.25 236 L398.22 238.54 L392.9 243.29 L392.59 242.32 L392.59 240.56 L394.81 245.56 L394.64 245.6 L397.17 242.18 L393.59 246.55 L392.8 246.33 L393.53 239.15 L396.32 237.29 L398.93 241.85" fill="none" stroke="#111" stroke-width="0.55" stroke-opacity="1" stroke-linejoin="round"/>
<path d="M397.25 236 L395.39 232.31 L393.31 234.8 L399.05 239.63 L399.14 242.44 L395.7 239.08 L399.58 239.08 L398.51 234.52" fill="none" stroke="#111" stroke-width="0.55" stroke-opacity="1" stroke-linejoin="round"/>
<path d="M397.25 236 L396.82 229.87 L401.95 226.72 L400.66 228.36 L402.47 230.45 L401.16 229.43 L402.94 223.18 L403.6 229.85 L405.3 232.53 L405.37 232.87 L400.15 234.82" fill="none" stroke="#111" stroke-width="0.55" stroke-opacity="1" stroke-linejoin="round"/>
<path d="M397.25 236 L394.31 232.49 L403.47 235.18 L403.63 229.41 L401.5 228.11 L403.22 235.08 L403.93 237.61 L402.34 227.71 L398.1 230.93" fill="none" stroke="#111" stroke-width="0.55" stroke-opacity="1" stroke-linejoin="round"/>
<circle cx="398.1" cy="230.93" r="1.1" fill="#000"/>
<path d="M397.25 236 L395.27 230.73 L403.15 218.71 L397.97 222.93 L400.67 223.57 L400.94 225.14 L402.95 222.45 L401.78 216.39" fill="none" stroke="#111" stroke-width="0.55" stroke-opacity="1" stroke-linejoin="round"/>
<circle cx="401.78" cy="216.39" r="1.1" fill="#000"/>
<path d="M397.25 236 L396.21 240.85 L392.51 241.75 L392.55 235.76 L388.92 232.91 L389.16 229.07 L389.33 227.21 L392.1 228.9 L397.25 228.95 L400.34 231.32 L406.33 232.5 L409.46 234.02 L411.15 233.88 L416.03 233.44 L417.61 237.33 L417.85 242.1 L424.25 240.65 L424.65 240.01 L428.2 242.13 L431.35 243.09 L435.94 241.81 L434.3 240.9 L438.7 246.2" fill="none" stroke="#2a2a2a" stroke-width="0.55" stroke-opacity="1" stroke-linejoin="round"/>
<circle cx="438.7" cy="246.2" r="1.15" fill="#000"/>
<path d="M397.25 236 L400.56 241 L397.1 234.05 L400.61 237.95 L403.96 236.28 L411.87 238.48 L415.07 237.28 L419.2 239.53 L423.23 240.94 L426.75 241.19 L427.26 240.97 L430.37 240.36 L432.9 240.51 L434.77 239.66 L435.2 243.8" fill="none" stroke="#2a2a2a" stroke-width="0.55" stroke-opacity="1" stroke-linejoin="round"/>
<circle cx="435.2" cy="243.8" r="1.15" fill="#000"/>
<path d="M397.25 236 L398.52 232.5 L398.66 232.14 L397.6 229.56 L397.41 228.84 L402.23 231.88 L403.91 232.81 L404.12 231.37 L406.45 233.65 L411.26 236.46 L414.8 236.47 L417.95 240.96 L424.09 241.06 L426.75 243.9 L430.6 242" fill="none" stroke="#2a2a2a" stroke-width="0.55" stroke-opacity="1" stroke-linejoin="round"/>
<circle cx="430.6" cy="242" r="1.15" fill="#000"/>
<path d="M397.25 236 L397.43 233.96 L397.22 236.17 L394.76 235.87 L398.97 235.62 L402.74 240.38 L407.14 239.79 L408.48 242.74 L411.56 246.5 L415.49 247.37 L419.17 245.04 L419.15 244.45 L422.1 243.5" fill="none" stroke="#2a2a2a" stroke-width="0.55" stroke-opacity="1" stroke-linejoin="round"/>
<circle cx="422.1" cy="243.5" r="1.15" fill="#000"/>
<path d="M397.25 236 L392.26 237.41 L395.63 233.12 L392.75 236.28 L396.26 241.63 L400.42 243.85 L405.28 244.51 L407.61 245.08 L411.62 247.48 L412.59 248.25 L416.91 249.32 L419.03 250.58 L420.53 250.24 L420.1 250.1" fill="none" stroke="#2a2a2a" stroke-width="0.55" stroke-opacity="1" stroke-linejoin="round"/>
<circle cx="420.1" cy="250.1" r="1.15" fill="#000"/>
<path d="M397.25 236 L399.05 232.89 L399.35 229.7 L403.69 232.51 L403.87 236.46 L406.93 236.73 L409.1 239.06 L409.02 239.07 L406.85 241.19 L411.24 245.65 L415.14 250.72 L414.24 255.17 L419.1 256.1" fill="none" stroke="#2a2a2a" stroke-width="0.55" stroke-opacity="1" stroke-linejoin="round"/>
<circle cx="419.1" cy="256.1" r="1.15" fill="#000"/>
<path d="M397.25 236 L397.82 242.59 L397.2 240.89 L395.32 241.82 L396.41 243.95 L400.42 247.1 L406.77 247.03 L409.4 252.4 L409.42 253.68 L410.28 252.05 L415.91 249.69 L416.74 254.14 L418.04 257.5 L422.12 260.47 L422.63 267.18 L424.15 266.06 L427.63 266.41 L430.1 264.1" fill="none" stroke="#2a2a2a" stroke-width="0.55" stroke-opacity="1" stroke-linejoin="round"/>
<circle cx="430.1" cy="264.1" r="1.15" fill="#000"/>
<path d="M397.25 236 L399.38 238.6 L393.91 241.13 L397.37 241.58 L398.43 246.61 L401.96 249.64 L401.7 253.63 L404.08 257.38 L403.39 255.63 L404.16 259.32 L407.91 260.78 L409.6 262.33 L409.9 266.9" fill="none" stroke="#2a2a2a" stroke-width="0.55" stroke-opacity="1" stroke-linejoin="round"/>
<circle cx="409.9" cy="266.9" r="1.15" fill="#000"/>
<path d="M397.25 236 L398.94 236.76 L395.4 242.67 L392.72 241.83 L391.08 237.55 L392.49 240.86 L391.93 244.25 L393.86 245.93 L395.47 251.79 L398.5 254.1" fill="none" stroke="#2a2a2a" stroke-width="0.55" stroke-opacity="1" stroke-linejoin="round"/>
<circle cx="398.5" cy="254.1" r="1.15" fill="#000"/>
<path d="M397.25 236 L399.65 235.91 L396.29 233.96 L394.01 243.99 L398.61 245.84 L400.32 250.98 L401.43 254.72 L399.88 257.21 L399.76 257.77 L402.5 260.9" fill="none" stroke="#2a2a2a" stroke-width="0.55" stroke-opacity="1" stroke-linejoin="round"/>
<circle cx="402.5" cy="260.9" r="1.15" fill="#000"/>
<path d="M397.25 236 L398.51 234.66 L398.33 232.49 L399.9 236.28 L407.46 235.9 L409.13 237.87 L411.62 245.92 L416.21 248.4 L415.34 249.24 L414.77 248.62 L415.1 252.1" fill="none" stroke="#2a2a2a" stroke-width="0.55" stroke-opacity="1" stroke-linejoin="round"/>
<circle cx="415.1" cy="252.1" r="1.15" fill="#000"/>
<path d="M397.25 236 L396.13 237.17 L393.39 241.07 L390.39 242.74 L395.28 247.15 L397.89 242.56 L399.82 244.92 L397.3 248.71 L395.72 250.19 L394.3 254.55 L390.83 256.07 L389.99 258.4 L389.8 264.6" fill="none" stroke="#2a2a2a" stroke-width="0.55" stroke-opacity="1" stroke-linejoin="round"/>
<circle cx="389.8" cy="264.6" r="1.15" fill="#000"/>
<path d="M397.25 236 L402.42 234.79 L399.85 234.28 L401.48 230.85 L402.39 235.28 L402.42 235.71 L399.44 235.3 L399.92 241.46 L402.1 242.3 L404.27 245.49 L400.7 247.86 L396.14 253.06 L395.3 259.2" fill="none" stroke="#2a2a2a" stroke-width="0.55" stroke-opacity="1" stroke-linejoin="round"/>
<circle cx="395.3" cy="259.2" r="1.15" fill="#000"/>
<path d="M397.25 236 L396.15 238.91 L395.57 244.26 L391.64 248.32 L389.71 256.6 L388.51 260.63 L390.12 262.01 L392.64 264.35 L394.97 267.6 L399.62 269.63 L405.2 267.3" fill="none" stroke="#2a2a2a" stroke-width="0.55" stroke-opacity="1" stroke-linejoin="round"/>
<circle cx="405.2" cy="267.3" r="1.15" fill="#000"/>
<path d="M397.25 236 L399.84 241.56 L397.87 243.61 L398.19 239.3 L397.77 234.65 L396.01 230.96 L397.39 228.31 L396.16 226.28 L396.26 222.11 L398.94 220.05 L398 217.6" fill="none" stroke="#2a2a2a" stroke-width="0.55" stroke-opacity="1" stroke-linejoin="round"/>
<circle cx="398" cy="217.6" r="1.15" fill="#000"/>
<path d="M397.25 236 L402.84 239.69 L400.25 252.18 L405.58 251.28 L405.88 247.58 L406.98 245.12 L404.76 245.79 L405.68 240.88 L406.28 237.43 L404.86 233.7 L409.34 232.57 L406.21 223.87 L404.93 218.55 L407 217" fill="none" stroke="#2a2a2a" stroke-width="0.55" stroke-opacity="1" stroke-linejoin="round"/>
<circle cx="407" cy="217" r="1.15" fill="#000"/>
<path d="M397.25 236 L391.98 234.78 L391.87 232.98 L390.07 232.3 L386.82 235.5 L383.5 237.5" fill="none" stroke="#2a2a2a" stroke-width="0.55" stroke-opacity="1" stroke-linejoin="round"/>
<circle cx="383.5" cy="237.5" r="1.15" fill="#000"/>
<path d="M397.25 236 L395.11 240.31 L397.29 239.05 L402.74 244.69 L402.32 244.32 L400.57 243.37 L396.04 242.24 L393.48 237.42 L387.42 237.93 L383.67 236.92 L382.5 234" fill="none" stroke="#2a2a2a" stroke-width="0.55" stroke-opacity="1" stroke-linejoin="round"/>
<circle cx="382.5" cy="234" r="1.15" fill="#000"/>
<path d="M397.25 236 L396.21 239.65 L393.63 244.73 L394.47 243.39 L395.09 241.14 L393.04 237.19 L390.93 235.56 L387.24 232.73 L388.37 229.84 L386 225" fill="none" stroke="#2a2a2a" stroke-width="0.55" stroke-opacity="1" stroke-linejoin="round"/>
<circle cx="386" cy="225" r="1.15" fill="#000"/>
<path d="M397.25 236 L396.3 234.54 L395.83 235.2 L397.33 237.36 L401.23 232.36 L403.05 229.7 L405.3 228.08 L407.23 224.83 L410 222" fill="none" stroke="#2a2a2a" stroke-width="0.55" stroke-opacity="1" stroke-linejoin="round"/>
<circle cx="410" cy="222" r="1.15" fill="#000"/>
<path d="M397.25 236 L397.71 233.89 L397.41 231.37 L399.81 232.71 L402.38 233.61 L403.39 229.35 L405.94 225.98 L407.99 227.91 L415 230" fill="none" stroke="#2a2a2a" stroke-width="0.55" stroke-opacity="1" stroke-linejoin="round"/>
<circle cx="415" cy="230" r="1.15" fill="#000"/>
<path d="M397.25 236 L398.15 238.03 L403.75 233.34 L402.39 233.08 L404.27 238.1 L403.54 236.48 L404.45 237.06 L407.03 239.84 L410.68 240.66 L415.55 239.68 L420 240" fill="none" stroke="#2a2a2a" stroke-width="0.55" stroke-opacity="1" stroke-linejoin="round"/>
<circle cx="420" cy="240" r="1.15" fill="#000"/>
<path d="M397.25 236 L392.54 233.82 L393.44 235.83 L401.71 236.81 L406.26 244.16 L404.33 248.5 L399.91 251.9 L396.27 247.61 L391.98 247.01 L389.26 248.73 L388 250" fill="none" stroke="#2a2a2a" stroke-width="0.55" stroke-opacity="1" stroke-linejoin="round"/>
<circle cx="388" cy="250" r="1.15" fill="#000"/>
<path d="M397.25 236 L397.47 238.63 L398.12 232.99 L396.08 226.92 L401.35 226.01 L398.96 225.52 L398.16 226.41 L392 222" fill="none" stroke="#2a2a2a" stroke-width="0.55" stroke-opacity="1" stroke-linejoin="round"/>
<circle cx="392" cy="222" r="1.15" fill="#000"/>
<path d="M397.25 236 L398.12 235.22 L400.17 235.48 L394.67 233.25 L395.33 227.55 L396.07 228.39 L395.86 232.24 L396.7 233.87 L400.99 234.17 L404.62 236.83 L406.82 240.28 L411.73 242.42 L416.79 243.81 L420.81 246.01 L423.59 249.61 L425.26 252.33 L428.66 254.81 L430.16 256.09 L430.84 255.33 L432.3 256.3" fill="none" stroke="#2a2a2a" stroke-width="0.55" stroke-opacity="1" stroke-linejoin="round"/>
<circle cx="432.3" cy="256.3" r="1.15" fill="#000"/>
<path d="M397.25 236 L396.46 235.54 L392.75 233.8 L395.3 235.21 L393.49 241.19 L393.76 245.29 L397.19 245.67 L403.04 249.82 L406.08 251.45 L408.67 250.34 L413.8 249.84 L413.7 252.79 L415.57 251.98 L419.3 255.3" fill="none" stroke="#2a2a2a" stroke-width="0.55" stroke-opacity="1" stroke-linejoin="round"/>
<circle cx="419.3" cy="255.3" r="1.15" fill="#000"/>
<path d="M397.25 236 L396.58 238.2 L403.5 235 L400.32 235.57 L401.93 233.61 L396.7 238.31 L400.47 236.75 L404.61 237.58 L407.92 235.99 L410.47 237.86 L409.96 236.81 L414.89 241.56 L419.2 242.37 L420.03 242.55 L422.52 244.34 L425 250" fill="none" stroke="#2a2a2a" stroke-width="0.55" stroke-opacity="1" stroke-linejoin="round"/>
<circle cx="425" cy="250" r="1.15" fill="#000"/>
<path d="M397.25 236 L397.09 237.14 L384.98 232.03 L386 233.73 L390.9 236.08 L393.96 240.43 L395.2 240.82 L395.31 242.73 L398.32 245.96 L403.35 248.58 L407.96 249.55 L408.16 252.38 L412.32 256.37 L414.13 256.9 L415.54 259.03 L417.58 260.11 L420.22 260.99 L423.03 261.28 L422.08 262.12 L428 262" fill="none" stroke="#2a2a2a" stroke-width="0.55" stroke-opacity="1" stroke-linejoin="round"/>
<circle cx="428" cy="262" r="1.15" fill="#000"/>
<path d="M397.25 236 L402.06 234.37 L396.11 233.66 L398.29 234.04 L401.71 238.04 L401.72 242.87 L402.59 243.51 L404 246.64 L405.45 250.28 L408.27 251.7 L410.44 255.26 L411.01 258.81 L414.96 258.96 L417.18 258.45 L416 262" fill="none" stroke="#2a2a2a" stroke-width="0.55" stroke-opacity="1" stroke-linejoin="round"/>
<circle cx="416" cy="262" r="1.15" fill="#000"/>
<path d="M397.25 236 L399.61 235.38 L394.65 235.24 L394.86 231.88 L398.73 230.9 L398.09 230.78 L399.33 237.14 L398.52 239.34 L398.74 242.81 L398.78 249.22 L398.5 249.24 L394.69 255.79 L394.9 260.04 L392.84 263.68 L391.89 262.99 L391.2 264.3" fill="none" stroke="#2a2a2a" stroke-width="0.55" stroke-opacity="1" stroke-linejoin="round"/>
<circle cx="391.2" cy="264.3" r="1.15" fill="#000"/>
<path d="M397.25 236 L394.2 238.05 L396.25 235.61 L395.25 236.64 L394.54 244.34 L395.33 245.47 L397.06 248.33 L397.2 254.3" fill="none" stroke="#2a2a2a" stroke-width="0.55" stroke-opacity="1" stroke-linejoin="round"/>
<circle cx="397.2" cy="254.3" r="1.15" fill="#000"/>
<path d="M397.25 236 L395.49 236.44 L391.12 237.33 L390.7 234.38 L387.22 236.83 L388.2 239.21 L392.62 240.8 L392.41 242.29 L395.45 242.39 L397.13 246.53 L400.45 248.24 L400.26 250.33 L405.97 252.94 L408.79 254.7 L410 258" fill="none" stroke="#2a2a2a" stroke-width="0.55" stroke-opacity="1" stroke-linejoin="round"/>
<circle cx="410" cy="258" r="1.15" fill="#000"/>
<path d="M392 226 L388 222 L386.2 212.2 L389.8 202.2 L387 209 L381.7 215.8" fill="none" stroke="#444" stroke-width="0.6" stroke-opacity="1" stroke-linejoin="round"/>
<path d="M398 245 L398 250 L397 262 L395 272 L396.2 280 L394 283" fill="none" stroke="#444" stroke-width="0.6" stroke-opacity="1" stroke-linejoin="round"/>
<path d="M415 250 L431.6 251.6 L435 258.1" fill="none" stroke="#333" stroke-width="0.6" stroke-opacity="1" stroke-linejoin="round"/>
<circle cx="435" cy="258.1" r="1.25" fill="#000"/>
<path d="M412 255 L429.6 267.1 L430.6 276.2 L433.2 274.7 L435.2 276" fill="none" stroke="#333" stroke-width="0.6" stroke-opacity="1" stroke-linejoin="round"/>
<circle cx="435.2" cy="276" r="1.25" fill="#000"/>
<rect x="348" y="186.5" width="98.5" height="99" fill="none" stroke="#000" stroke-width="1.4"/>
<line x1="345" y1="285.5" x2="348" y2="285.5" stroke="#000" stroke-width="1.2"/>
<text transform="translate(341.4 287.5) scale(0.95 1)" font-size="8.3" text-anchor="end" fill="#111">−150</text>
<line x1="348" y1="285.5" x2="348" y2="288.5" stroke="#000" stroke-width="1.2"/>
<text transform="translate(351.2 296) rotate(-45) scale(0.95 1)" font-size="8.3" text-anchor="end" fill="#111">−150</text>
<line x1="345" y1="269" x2="348" y2="269" stroke="#000" stroke-width="1.2"/>
<text transform="translate(341.4 271) scale(0.95 1)" font-size="8.3" text-anchor="end" fill="#111">−100</text>
<line x1="364.42" y1="285.5" x2="364.42" y2="288.5" stroke="#000" stroke-width="1.2"/>
<text transform="translate(367.62 296) rotate(-45) scale(0.95 1)" font-size="8.3" text-anchor="end" fill="#111">−100</text>
<line x1="345" y1="252.5" x2="348" y2="252.5" stroke="#000" stroke-width="1.2"/>
<text transform="translate(341.4 254.5) scale(0.95 1)" font-size="8.3" text-anchor="end" fill="#111">−50</text>
<line x1="380.83" y1="285.5" x2="380.83" y2="288.5" stroke="#000" stroke-width="1.2"/>
<text transform="translate(384.03 296) rotate(-45) scale(0.95 1)" font-size="8.3" text-anchor="end" fill="#111">−50</text>
<line x1="345" y1="236" x2="348" y2="236" stroke="#000" stroke-width="1.2"/>
<text transform="translate(341.4 238) scale(0.95 1)" font-size="8.3" text-anchor="end" fill="#111">0</text>
<line x1="397.25" y1="285.5" x2="397.25" y2="288.5" stroke="#000" stroke-width="1.2"/>
<text transform="translate(400.45 296) rotate(-45) scale(0.95 1)" font-size="8.3" text-anchor="end" fill="#111">0</text>
<line x1="345" y1="219.5" x2="348" y2="219.5" stroke="#000" stroke-width="1.2"/>
<text transform="translate(341.4 221.5) scale(0.95 1)" font-size="8.3" text-anchor="end" fill="#111">50</text>
<line x1="413.67" y1="285.5" x2="413.67" y2="288.5" stroke="#000" stroke-width="1.2"/>
<text transform="translate(416.87 296) rotate(-45) scale(0.95 1)" font-size="8.3" text-anchor="end" fill="#111">50</text>
<line x1="345" y1="203" x2="348" y2="203" stroke="#000" stroke-width="1.2"/>
<text transform="translate(341.4 205) scale(0.95 1)" font-size="8.3" text-anchor="end" fill="#111">100</text>
<line x1="430.08" y1="285.5" x2="430.08" y2="288.5" stroke="#000" stroke-width="1.2"/>
<text transform="translate(433.28 296) rotate(-45) scale(0.95 1)" font-size="8.3" text-anchor="end" fill="#111">100</text>
<line x1="345" y1="186.5" x2="348" y2="186.5" stroke="#000" stroke-width="1.2"/>
<text transform="translate(341.4 188.5) scale(0.95 1)" font-size="8.3" text-anchor="end" fill="#111">150</text>
<line x1="446.5" y1="285.5" x2="446.5" y2="288.5" stroke="#000" stroke-width="1.2"/>
<text transform="translate(449.7 296) rotate(-45) scale(0.95 1)" font-size="8.3" text-anchor="end" fill="#111">150</text>
<text x="400.2" y="199.2" font-size="7.5" fill="#111"><tspan font-style="italic">P</tspan> = 2.66x10<tspan font-size="4.6" dy="-3.2" dx="-0.6">−3</tspan></text>
<text x="453.3" y="217.6" font-size="8.2" text-anchor="start">PBS</text>
<text x="453.1" y="267.2" font-size="8.2" text-anchor="start">CCL2+CCL5</text>
<line x1="64" y1="346.3" x2="64" y2="437.5" stroke="#000" stroke-width="1.4"/>
<line x1="60.5" y1="437.5" x2="64" y2="437.5" stroke="#000" stroke-width="1.2"/>
<text x="57.5" y="440.1" font-size="7.6" text-anchor="end">0</text>
<line x1="60.5" y1="419.86" x2="64" y2="419.86" stroke="#000" stroke-width="1.2"/>
<text x="57.5" y="422.46" font-size="7.6" text-anchor="end">20</text>
<line x1="60.5" y1="402.22" x2="64" y2="402.22" stroke="#000" stroke-width="1.2"/>
<text x="57.5" y="404.82" font-size="7.6" text-anchor="end">40</text>
<line x1="60.5" y1="384.58" x2="64" y2="384.58" stroke="#000" stroke-width="1.2"/>
<text x="57.5" y="387.18" font-size="7.6" text-anchor="end">60</text>
<line x1="60.5" y1="366.94" x2="64" y2="366.94" stroke="#000" stroke-width="1.2"/>
<text x="57.5" y="369.54" font-size="7.6" text-anchor="end">80</text>
<line x1="60.5" y1="349.3" x2="64" y2="349.3" stroke="#000" stroke-width="1.2"/>
<text x="57.5" y="351.9" font-size="7.6" text-anchor="end">100</text>
<line x1="60.5" y1="437.5" x2="196.5" y2="437.5" stroke="#000" stroke-width="1.4"/>
<line x1="80.4" y1="437.5" x2="80.4" y2="440.3" stroke="#000" stroke-width="1.1"/>
<line x1="113.9" y1="437.5" x2="113.9" y2="440.3" stroke="#000" stroke-width="1.1"/>
<line x1="147.2" y1="437.5" x2="147.2" y2="440.3" stroke="#000" stroke-width="1.1"/>
<line x1="179.4" y1="437.5" x2="179.4" y2="440.3" stroke="#000" stroke-width="1.1"/>
<circle cx="71" cy="410.7" r="1.75" fill="#000"/>
<circle cx="75.1" cy="411.6" r="1.75" fill="#000"/>
<circle cx="78.4" cy="413.6" r="1.75" fill="#000"/>
<circle cx="82.3" cy="411.9" r="1.75" fill="#000"/>
<circle cx="85.9" cy="411.3" r="1.75" fill="#000"/>
<circle cx="89.8" cy="409.8" r="1.75" fill="#000"/>
<circle cx="75.4" cy="417.4" r="1.75" fill="#000"/>
<circle cx="83.2" cy="420" r="1.75" fill="#000"/>
<circle cx="90" cy="421" r="1.75" fill="#000"/>
<circle cx="86.5" cy="423" r="1.75" fill="#000"/>
<circle cx="77.5" cy="422" r="1.75" fill="#000"/>
<circle cx="80.5" cy="422.5" r="1.75" fill="#000"/>
<circle cx="71" cy="426.6" r="1.75" fill="#000"/>
<circle cx="74.2" cy="427.1" r="1.75" fill="#000"/>
<circle cx="76" cy="428" r="1.75" fill="#000"/>
<circle cx="82.3" cy="425.7" r="1.75" fill="#000"/>
<circle cx="89.6" cy="426.8" r="1.75" fill="#000"/>
<circle cx="86" cy="428.5" r="1.75" fill="#000"/>
<circle cx="78.4" cy="429.4" r="1.75" fill="#000"/>
<circle cx="82.3" cy="431.4" r="1.75" fill="#000"/>
<circle cx="77.8" cy="437.2" r="1.75" fill="#000"/>
<circle cx="83.2" cy="437.2" r="1.75" fill="#000"/>
<circle cx="73.4" cy="426.1" r="1.75" fill="#000"/>
<circle cx="86" cy="422.9" r="1.75" fill="#000"/>
<line x1="70.7" y1="422.6" x2="90.1" y2="422.6" stroke="#000" stroke-width="1.1"/>
<line x1="75.4" y1="420.8" x2="85.4" y2="420.8" stroke="#000" stroke-width="1.0"/>
<line x1="75.4" y1="424.4" x2="85.4" y2="424.4" stroke="#000" stroke-width="1.0"/>
<line x1="80.4" y1="420.8" x2="80.4" y2="424.4" stroke="#000" stroke-width="1.0"/>
<path d="M112.25 371.93 L115.75 371.93 L114 375.13 Z" fill="#000"/>
<path d="M109.15 386.43 L112.65 386.43 L110.9 389.63 Z" fill="#000"/>
<path d="M114.55 390.13 L118.05 390.13 L116.3 393.33 Z" fill="#000"/>
<path d="M109.15 404.53 L112.65 404.53 L110.9 407.73 Z" fill="#000"/>
<path d="M114.55 402.73 L118.05 402.73 L116.3 405.93 Z" fill="#000"/>
<path d="M103.05 413.33 L106.55 413.33 L104.8 416.53 Z" fill="#000"/>
<path d="M107.05 415.13 L110.55 415.13 L108.8 418.33 Z" fill="#000"/>
<path d="M111.15 414.73 L114.65 414.73 L112.9 417.93 Z" fill="#000"/>
<path d="M115.25 414.43 L118.75 414.43 L117 417.63 Z" fill="#000"/>
<path d="M120.65 415.13 L124.15 415.13 L122.4 418.33 Z" fill="#000"/>
<path d="M117.75 416.43 L121.25 416.43 L119.5 419.63 Z" fill="#000"/>
<path d="M103.05 422.43 L106.55 422.43 L104.8 425.63 Z" fill="#000"/>
<path d="M107.55 423.33 L111.05 423.33 L109.3 426.53 Z" fill="#000"/>
<path d="M111.65 425.13 L115.15 425.13 L113.4 428.33 Z" fill="#000"/>
<path d="M115.65 422.83 L119.15 422.83 L117.4 426.03 Z" fill="#000"/>
<path d="M120.65 421.53 L124.15 421.53 L122.4 424.73 Z" fill="#000"/>
<path d="M103.45 427.33 L106.95 427.33 L105.2 430.53 Z" fill="#000"/>
<path d="M106.05 427.93 L109.55 427.93 L107.8 431.13 Z" fill="#000"/>
<path d="M120.15 427.33 L123.65 427.33 L121.9 430.53 Z" fill="#000"/>
<path d="M117.45 429.63 L120.95 429.63 L119.2 432.83 Z" fill="#000"/>
<path d="M108.85 430.93 L112.35 430.93 L110.6 434.13 Z" fill="#000"/>
<path d="M112.05 432.73 L115.55 432.73 L113.8 435.93 Z" fill="#000"/>
<path d="M114.35 431.83 L117.85 431.83 L116.1 435.03 Z" fill="#000"/>
<path d="M106.75 430.13 L110.25 430.13 L108.5 433.33 Z" fill="#000"/>
<line x1="102.9" y1="417.6" x2="124.9" y2="417.6" stroke="#000" stroke-width="1.1"/>
<line x1="108.9" y1="415.1" x2="118.9" y2="415.1" stroke="#000" stroke-width="1.0"/>
<line x1="108.9" y1="420.1" x2="118.9" y2="420.1" stroke="#000" stroke-width="1.0"/>
<line x1="113.9" y1="415.1" x2="113.9" y2="420.1" stroke="#000" stroke-width="1.0"/>
<circle cx="146.7" cy="385.4" r="1.75" fill="#000"/>
<circle cx="146.7" cy="402.3" r="1.75" fill="#000"/>
<circle cx="138" cy="411.1" r="1.75" fill="#000"/>
<circle cx="142.2" cy="411.9" r="1.75" fill="#000"/>
<circle cx="146.5" cy="413.1" r="1.75" fill="#000"/>
<circle cx="151" cy="411.6" r="1.75" fill="#000"/>
<circle cx="155.5" cy="410.7" r="1.75" fill="#000"/>
<circle cx="138" cy="419.8" r="1.75" fill="#000"/>
<circle cx="141.5" cy="420.3" r="1.75" fill="#000"/>
<circle cx="145.5" cy="421.5" r="1.75" fill="#000"/>
<circle cx="150" cy="421" r="1.75" fill="#000"/>
<circle cx="154.9" cy="419.8" r="1.75" fill="#000"/>
<circle cx="138" cy="425.2" r="1.75" fill="#000"/>
<circle cx="141.6" cy="425.8" r="1.75" fill="#000"/>
<circle cx="144" cy="427.3" r="1.75" fill="#000"/>
<circle cx="146.5" cy="428.8" r="1.75" fill="#000"/>
<circle cx="149" cy="427.3" r="1.75" fill="#000"/>
<circle cx="151.8" cy="426.5" r="1.75" fill="#000"/>
<circle cx="154.9" cy="425.2" r="1.75" fill="#000"/>
<circle cx="138.6" cy="431.8" r="1.75" fill="#000"/>
<circle cx="144" cy="434.8" r="1.75" fill="#000"/>
<circle cx="149.5" cy="433.6" r="1.75" fill="#000"/>
<circle cx="154.9" cy="431.2" r="1.75" fill="#000"/>
<line x1="136.2" y1="421" x2="158.2" y2="421" stroke="#000" stroke-width="1.1"/>
<line x1="142.2" y1="419.1" x2="152.2" y2="419.1" stroke="#000" stroke-width="1.0"/>
<line x1="142.2" y1="422.9" x2="152.2" y2="422.9" stroke="#000" stroke-width="1.0"/>
<line x1="147.2" y1="419.1" x2="147.2" y2="422.9" stroke="#000" stroke-width="1.0"/>
<path d="M177.85 360.43 L181.35 360.43 L179.6 363.63 Z" fill="#000"/>
<path d="M178.15 365.93 L181.65 365.93 L179.9 369.13 Z" fill="#000"/>
<path d="M178.15 371.33 L181.65 371.33 L179.9 374.53 Z" fill="#000"/>
<path d="M178.15 388.93 L181.65 388.93 L179.9 392.13 Z" fill="#000"/>
<path d="M172.55 403.03 L176.05 403.03 L174.3 406.23 Z" fill="#000"/>
<path d="M178.15 405.13 L181.65 405.13 L179.9 408.33 Z" fill="#000"/>
<path d="M183.25 402.53 L186.75 402.53 L185 405.73 Z" fill="#000"/>
<path d="M168.45 413.33 L171.95 413.33 L170.2 416.53 Z" fill="#000"/>
<path d="M172.75 413.73 L176.25 413.73 L174.5 416.93 Z" fill="#000"/>
<path d="M177.75 412.73 L181.25 412.73 L179.5 415.93 Z" fill="#000"/>
<path d="M182.25 413.53 L185.75 413.53 L184 416.73 Z" fill="#000"/>
<path d="M187.65 413.63 L191.15 413.63 L189.4 416.83 Z" fill="#000"/>
<path d="M172.55 415.23 L176.05 415.23 L174.3 418.43 Z" fill="#000"/>
<path d="M183.55 415.23 L187.05 415.23 L185.3 418.43 Z" fill="#000"/>
<path d="M186.75 415.43 L190.25 415.43 L188.5 418.63 Z" fill="#000"/>
<path d="M168.45 420.13 L171.95 420.13 L170.2 423.33 Z" fill="#000"/>
<path d="M179.05 418.83 L182.55 418.83 L180.8 422.03 Z" fill="#000"/>
<path d="M182.75 420.43 L186.25 420.43 L184.5 423.63 Z" fill="#000"/>
<path d="M187.05 419.43 L190.55 419.43 L188.8 422.63 Z" fill="#000"/>
<path d="M174.25 418.43 L177.75 418.43 L176 421.63 Z" fill="#000"/>
<path d="M172.55 423.33 L176.05 423.33 L174.3 426.53 Z" fill="#000"/>
<path d="M175.85 423.93 L179.35 423.93 L177.6 427.13 Z" fill="#000"/>
<path d="M180.35 423.63 L183.85 423.63 L182.1 426.83 Z" fill="#000"/>
<path d="M183.55 421.73 L187.05 421.73 L185.3 424.93 Z" fill="#000"/>
<path d="M170.95 427.13 L174.45 427.13 L172.7 430.33 Z" fill="#000"/>
<path d="M173.85 427.53 L177.35 427.53 L175.6 430.73 Z" fill="#000"/>
<path d="M176.75 427.53 L180.25 427.53 L178.5 430.73 Z" fill="#000"/>
<path d="M181.95 427.13 L185.45 427.13 L183.7 430.33 Z" fill="#000"/>
<path d="M184.85 427.53 L188.35 427.53 L186.6 430.73 Z" fill="#000"/>
<path d="M168.75 431.03 L172.25 431.03 L170.5 434.23 Z" fill="#000"/>
<path d="M172.25 431.63 L175.75 431.63 L174 434.83 Z" fill="#000"/>
<path d="M179.35 429.73 L182.85 429.73 L181.1 432.93 Z" fill="#000"/>
<path d="M183.85 431.63 L187.35 431.63 L185.6 434.83 Z" fill="#000"/>
<path d="M187.35 431.03 L190.85 431.03 L189.1 434.23 Z" fill="#000"/>
<path d="M179.65 433.63 L183.15 433.63 L181.4 436.83 Z" fill="#000"/>
<path d="M176.45 435.33 L179.95 435.33 L178.2 438.53 Z" fill="#000"/>
<line x1="169" y1="417.3" x2="190" y2="417.3" stroke="#000" stroke-width="1.1"/>
<line x1="174.5" y1="414.7" x2="184.5" y2="414.7" stroke="#000" stroke-width="1.0"/>
<line x1="174.5" y1="419.9" x2="184.5" y2="419.9" stroke="#000" stroke-width="1.0"/>
<line x1="179.5" y1="414.7" x2="179.5" y2="419.9" stroke="#000" stroke-width="1.0"/>
<line x1="278.1" y1="346.3" x2="278.1" y2="437.7" stroke="#000" stroke-width="1.4"/>
<line x1="274.6" y1="437.7" x2="278.1" y2="437.7" stroke="#000" stroke-width="1.2"/>
<text x="271.6" y="440.3" font-size="7.6" text-anchor="end">0</text>
<line x1="274.6" y1="420.06" x2="278.1" y2="420.06" stroke="#000" stroke-width="1.2"/>
<text x="271.6" y="422.66" font-size="7.6" text-anchor="end">20</text>
<line x1="274.6" y1="402.42" x2="278.1" y2="402.42" stroke="#000" stroke-width="1.2"/>
<text x="271.6" y="405.02" font-size="7.6" text-anchor="end">40</text>
<line x1="274.6" y1="384.78" x2="278.1" y2="384.78" stroke="#000" stroke-width="1.2"/>
<text x="271.6" y="387.38" font-size="7.6" text-anchor="end">60</text>
<line x1="274.6" y1="367.14" x2="278.1" y2="367.14" stroke="#000" stroke-width="1.2"/>
<text x="271.6" y="369.74" font-size="7.6" text-anchor="end">80</text>
<line x1="274.6" y1="349.5" x2="278.1" y2="349.5" stroke="#000" stroke-width="1.2"/>
<text x="271.6" y="352.1" font-size="7.6" text-anchor="end">100</text>
<line x1="274.6" y1="437.7" x2="410.6" y2="437.7" stroke="#000" stroke-width="1.4"/>
<line x1="294.7" y1="437.7" x2="294.7" y2="440.5" stroke="#000" stroke-width="1.1"/>
<line x1="327.8" y1="437.7" x2="327.8" y2="440.5" stroke="#000" stroke-width="1.1"/>
<line x1="361.2" y1="437.7" x2="361.2" y2="440.5" stroke="#000" stroke-width="1.1"/>
<line x1="393.6" y1="437.7" x2="393.6" y2="440.5" stroke="#000" stroke-width="1.1"/>
<circle cx="286.4" cy="396.9" r="1.75" fill="#000"/>
<circle cx="291.3" cy="399.3" r="1.75" fill="#000"/>
<circle cx="296.9" cy="398.8" r="1.75" fill="#000"/>
<circle cx="302.4" cy="395.2" r="1.75" fill="#000"/>
<circle cx="286.4" cy="412" r="1.75" fill="#000"/>
<circle cx="291.3" cy="414.2" r="1.75" fill="#000"/>
<circle cx="296.9" cy="415.9" r="1.75" fill="#000"/>
<circle cx="302.4" cy="413.1" r="1.75" fill="#000"/>
<circle cx="285.4" cy="423" r="1.75" fill="#000"/>
<circle cx="288" cy="423.3" r="1.75" fill="#000"/>
<circle cx="290.8" cy="423.5" r="1.75" fill="#000"/>
<circle cx="294" cy="423.8" r="1.75" fill="#000"/>
<circle cx="297.2" cy="423.5" r="1.75" fill="#000"/>
<circle cx="299.8" cy="423" r="1.75" fill="#000"/>
<circle cx="302.1" cy="422.2" r="1.75" fill="#000"/>
<circle cx="285.9" cy="427" r="1.75" fill="#000"/>
<circle cx="288.6" cy="427.3" r="1.75" fill="#000"/>
<circle cx="296.7" cy="427.6" r="1.75" fill="#000"/>
<circle cx="298.8" cy="426.2" r="1.75" fill="#000"/>
<circle cx="302.6" cy="426.5" r="1.75" fill="#000"/>
<circle cx="291.3" cy="429.5" r="1.75" fill="#000"/>
<circle cx="297.2" cy="429.5" r="1.75" fill="#000"/>
<circle cx="294.3" cy="431.9" r="1.75" fill="#000"/>
<circle cx="285.4" cy="433.2" r="1.75" fill="#000"/>
<circle cx="288.1" cy="434" r="1.75" fill="#000"/>
<circle cx="291" cy="435" r="1.75" fill="#000"/>
<circle cx="300.5" cy="434.3" r="1.75" fill="#000"/>
<circle cx="302.6" cy="433.2" r="1.75" fill="#000"/>
<circle cx="291.3" cy="435.9" r="1.75" fill="#000"/>
<circle cx="294" cy="436.7" r="1.75" fill="#000"/>
<circle cx="297.2" cy="435.9" r="1.75" fill="#000"/>
<line x1="283.3" y1="422.5" x2="305.3" y2="422.5" stroke="#000" stroke-width="1.1"/>
<line x1="289.3" y1="420.2" x2="299.3" y2="420.2" stroke="#000" stroke-width="1.0"/>
<line x1="289.3" y1="424.8" x2="299.3" y2="424.8" stroke="#000" stroke-width="1.0"/>
<line x1="294.3" y1="420.2" x2="294.3" y2="424.8" stroke="#000" stroke-width="1.0"/>
<path d="M320.45 389.53 L323.95 389.53 L322.2 392.73 Z" fill="#000"/>
<path d="M330.95 390.03 L334.45 390.03 L332.7 393.23 Z" fill="#000"/>
<path d="M325.55 393.43 L329.05 393.43 L327.3 396.63 Z" fill="#000"/>
<path d="M325.55 400.33 L329.05 400.33 L327.3 403.53 Z" fill="#000"/>
<path d="M317.05 404.23 L320.55 404.23 L318.8 407.43 Z" fill="#000"/>
<path d="M321.35 404.43 L324.85 404.43 L323.1 407.63 Z" fill="#000"/>
<path d="M334.25 404.23 L337.75 404.23 L336 407.43 Z" fill="#000"/>
<path d="M325.55 408.13 L329.05 408.13 L327.3 411.33 Z" fill="#000"/>
<path d="M329.75 407.23 L333.25 407.23 L331.5 410.43 Z" fill="#000"/>
<path d="M330.95 410.03 L334.45 410.03 L332.7 413.23 Z" fill="#000"/>
<path d="M320.45 414.13 L323.95 414.13 L322.2 417.33 Z" fill="#000"/>
<path d="M325.55 414.43 L329.05 414.43 L327.3 417.63 Z" fill="#000"/>
<path d="M316.45 421.63 L319.95 421.63 L318.2 424.83 Z" fill="#000"/>
<path d="M318.15 423.03 L321.65 423.03 L319.9 426.23 Z" fill="#000"/>
<path d="M319.95 424.43 L323.45 424.43 L321.7 427.63 Z" fill="#000"/>
<path d="M321.95 425.93 L325.45 425.93 L323.7 429.13 Z" fill="#000"/>
<path d="M323.65 426.73 L327.15 426.73 L325.4 429.93 Z" fill="#000"/>
<path d="M325.65 427.33 L329.15 427.33 L327.4 430.53 Z" fill="#000"/>
<path d="M327.65 426.73 L331.15 426.73 L329.4 429.93 Z" fill="#000"/>
<path d="M329.75 425.93 L333.25 425.93 L331.5 429.13 Z" fill="#000"/>
<path d="M331.75 424.43 L335.25 424.43 L333.5 427.63 Z" fill="#000"/>
<path d="M333.45 423.03 L336.95 423.03 L335.2 426.23 Z" fill="#000"/>
<path d="M335.45 421.33 L338.95 421.33 L337.2 424.53 Z" fill="#000"/>
<path d="M319.75 421.73 L323.25 421.73 L321.5 424.93 Z" fill="#000"/>
<path d="M322.75 423.43 L326.25 423.43 L324.5 426.63 Z" fill="#000"/>
<path d="M325.75 424.13 L329.25 424.13 L327.5 427.33 Z" fill="#000"/>
<path d="M328.75 423.43 L332.25 423.43 L330.5 426.63 Z" fill="#000"/>
<path d="M332.05 421.73 L335.55 421.73 L333.8 424.93 Z" fill="#000"/>
<path d="M324.25 420.93 L327.75 420.93 L326 424.13 Z" fill="#000"/>
<path d="M327.25 420.93 L330.75 420.93 L329 424.13 Z" fill="#000"/>
<path d="M316.75 429.63 L320.25 429.63 L318.5 432.83 Z" fill="#000"/>
<path d="M318.75 430.83 L322.25 430.83 L320.5 434.03 Z" fill="#000"/>
<path d="M320.75 431.93 L324.25 431.93 L322.5 435.13 Z" fill="#000"/>
<path d="M322.75 433.43 L326.25 433.43 L324.5 436.63 Z" fill="#000"/>
<path d="M324.55 434.53 L328.05 434.53 L326.3 437.73 Z" fill="#000"/>
<path d="M326.55 434.83 L330.05 434.83 L328.3 438.03 Z" fill="#000"/>
<path d="M328.55 433.73 L332.05 433.73 L330.3 436.93 Z" fill="#000"/>
<path d="M330.85 431.43 L334.35 431.43 L332.6 434.63 Z" fill="#000"/>
<path d="M332.85 430.23 L336.35 430.23 L334.6 433.43 Z" fill="#000"/>
<path d="M334.35 429.63 L337.85 429.63 L336.1 432.83 Z" fill="#000"/>
<line x1="316.3" y1="421.5" x2="338.7" y2="421.5" stroke="#000" stroke-width="1.1"/>
<line x1="322.5" y1="419.5" x2="332.5" y2="419.5" stroke="#000" stroke-width="1.0"/>
<line x1="322.5" y1="423.5" x2="332.5" y2="423.5" stroke="#000" stroke-width="1.0"/>
<line x1="327.5" y1="419.5" x2="327.5" y2="423.5" stroke="#000" stroke-width="1.0"/>
<circle cx="357.9" cy="398.8" r="1.75" fill="#000"/>
<circle cx="363.1" cy="399.5" r="1.75" fill="#000"/>
<circle cx="352.1" cy="413.5" r="1.75" fill="#000"/>
<circle cx="360.5" cy="412.5" r="1.75" fill="#000"/>
<circle cx="366.2" cy="414.4" r="1.75" fill="#000"/>
<circle cx="368.8" cy="413.1" r="1.75" fill="#000"/>
<circle cx="355" cy="416" r="1.75" fill="#000"/>
<circle cx="357.6" cy="418" r="1.75" fill="#000"/>
<circle cx="360.5" cy="418.3" r="1.75" fill="#000"/>
<circle cx="363.3" cy="417.6" r="1.75" fill="#000"/>
<circle cx="351.8" cy="421.2" r="1.75" fill="#000"/>
<circle cx="356.3" cy="421.8" r="1.75" fill="#000"/>
<circle cx="364.6" cy="423.1" r="1.75" fill="#000"/>
<circle cx="368.8" cy="421.5" r="1.75" fill="#000"/>
<circle cx="360" cy="423.5" r="1.75" fill="#000"/>
<circle cx="352.4" cy="427" r="1.75" fill="#000"/>
<circle cx="355" cy="427.3" r="1.75" fill="#000"/>
<circle cx="357.9" cy="426.3" r="1.75" fill="#000"/>
<circle cx="360.5" cy="427.5" r="1.75" fill="#000"/>
<circle cx="363" cy="426.6" r="1.75" fill="#000"/>
<circle cx="365.9" cy="427.9" r="1.75" fill="#000"/>
<circle cx="368.5" cy="427" r="1.75" fill="#000"/>
<circle cx="357.2" cy="428.9" r="1.75" fill="#000"/>
<circle cx="359.8" cy="429.2" r="1.75" fill="#000"/>
<circle cx="362" cy="430.2" r="1.75" fill="#000"/>
<circle cx="352.4" cy="433.4" r="1.75" fill="#000"/>
<circle cx="355" cy="434" r="1.75" fill="#000"/>
<circle cx="357.6" cy="435" r="1.75" fill="#000"/>
<circle cx="359.8" cy="435.6" r="1.75" fill="#000"/>
<circle cx="363" cy="435" r="1.75" fill="#000"/>
<circle cx="365.9" cy="434" r="1.75" fill="#000"/>
<circle cx="368.5" cy="433.4" r="1.75" fill="#000"/>
<circle cx="356.9" cy="436.6" r="1.75" fill="#000"/>
<circle cx="359.5" cy="436.9" r="1.75" fill="#000"/>
<circle cx="362" cy="436.6" r="1.75" fill="#000"/>
<line x1="349.5" y1="424.4" x2="371.7" y2="424.4" stroke="#000" stroke-width="1.1"/>
<line x1="355.6" y1="422.9" x2="365.6" y2="422.9" stroke="#000" stroke-width="1.0"/>
<line x1="355.6" y1="425.9" x2="365.6" y2="425.9" stroke="#000" stroke-width="1.0"/>
<line x1="360.6" y1="422.9" x2="360.6" y2="425.9" stroke="#000" stroke-width="1.0"/>
<path d="M391.75 366.13 L395.25 366.13 L393.5 369.33 Z" fill="#000"/>
<path d="M397.05 374.23 L400.55 374.23 L398.8 377.43 Z" fill="#000"/>
<path d="M386.45 377.93 L389.95 377.93 L388.2 381.13 Z" fill="#000"/>
<path d="M391.75 379.03 L395.25 379.03 L393.5 382.23 Z" fill="#000"/>
<path d="M394.15 389.43 L397.65 389.43 L395.9 392.63 Z" fill="#000"/>
<path d="M388.95 393.03 L392.45 393.03 L390.7 396.23 Z" fill="#000"/>
<path d="M383.65 399.93 L387.15 399.93 L385.4 403.13 Z" fill="#000"/>
<path d="M384.05 399.73 L387.55 399.73 L385.8 402.93 Z" fill="#000"/>
<path d="M389.25 404.53 L392.75 404.53 L391 407.73 Z" fill="#000"/>
<path d="M394.15 404.53 L397.65 404.53 L395.9 407.73 Z" fill="#000"/>
<path d="M399.75 403.73 L403.25 403.73 L401.5 406.93 Z" fill="#000"/>
<path d="M383.25 406.53 L386.75 406.53 L385 409.73 Z" fill="#000"/>
<path d="M386.05 406.93 L389.55 406.93 L387.8 410.13 Z" fill="#000"/>
<path d="M400.15 406.53 L403.65 406.53 L401.9 409.73 Z" fill="#000"/>
<path d="M388.85 408.93 L392.35 408.93 L390.6 412.13 Z" fill="#000"/>
<path d="M391.75 410.53 L395.25 410.53 L393.5 413.73 Z" fill="#000"/>
<path d="M394.55 409.33 L398.05 409.33 L396.3 412.53 Z" fill="#000"/>
<path d="M397.35 408.53 L400.85 408.53 L399.1 411.73 Z" fill="#000"/>
<path d="M388.85 413.83 L392.35 413.83 L390.6 417.03 Z" fill="#000"/>
<path d="M397.75 413.83 L401.25 413.83 L399.5 417.03 Z" fill="#000"/>
<path d="M386.85 416.23 L390.35 416.23 L388.6 419.43 Z" fill="#000"/>
<path d="M390.75 415.93 L394.25 415.93 L392.5 419.13 Z" fill="#000"/>
<path d="M395.25 416.23 L398.75 416.23 L397 419.43 Z" fill="#000"/>
<path d="M392.75 418.43 L396.25 418.43 L394.5 421.63 Z" fill="#000"/>
<path d="M388.45 419.83 L391.95 419.83 L390.2 423.03 Z" fill="#000"/>
<path d="M391.75 420.43 L395.25 420.43 L393.5 423.63 Z" fill="#000"/>
<path d="M395.35 419.43 L398.85 419.43 L397.1 422.63 Z" fill="#000"/>
<path d="M398.95 419.83 L402.45 419.83 L400.7 423.03 Z" fill="#000"/>
<path d="M384.45 423.03 L387.95 423.03 L386.2 426.23 Z" fill="#000"/>
<path d="M387.25 423.03 L390.75 423.03 L389 426.23 Z" fill="#000"/>
<path d="M390.75 423.33 L394.25 423.33 L392.5 426.53 Z" fill="#000"/>
<path d="M395.35 423.03 L398.85 423.03 L397.1 426.23 Z" fill="#000"/>
<path d="M398.25 423.03 L401.75 423.03 L400 426.23 Z" fill="#000"/>
<path d="M383.25 425.43 L386.75 425.43 L385 428.63 Z" fill="#000"/>
<path d="M386.05 425.83 L389.55 425.83 L387.8 429.03 Z" fill="#000"/>
<path d="M391.35 426.23 L394.85 426.23 L393.1 429.43 Z" fill="#000"/>
<path d="M394.55 426.23 L398.05 426.23 L396.3 429.43 Z" fill="#000"/>
<path d="M398.95 425.03 L402.45 425.03 L400.7 428.23 Z" fill="#000"/>
<path d="M400.95 424.63 L404.45 424.63 L402.7 427.83 Z" fill="#000"/>
<path d="M387.65 427.83 L391.15 427.83 L389.4 431.03 Z" fill="#000"/>
<path d="M390.15 429.03 L393.65 429.03 L391.9 432.23 Z" fill="#000"/>
<path d="M392.95 428.63 L396.45 428.63 L394.7 431.83 Z" fill="#000"/>
<path d="M396.55 427.03 L400.05 427.03 L398.3 430.23 Z" fill="#000"/>
<path d="M383.25 431.03 L386.75 431.03 L385 434.23 Z" fill="#000"/>
<path d="M385.65 431.03 L389.15 431.03 L387.4 434.23 Z" fill="#000"/>
<path d="M388.05 431.83 L391.55 431.83 L389.8 435.03 Z" fill="#000"/>
<path d="M396.95 431.83 L400.45 431.83 L398.7 435.03 Z" fill="#000"/>
<path d="M399.75 430.63 L403.25 430.63 L401.5 433.83 Z" fill="#000"/>
<path d="M388.45 434.63 L391.95 434.63 L390.2 437.83 Z" fill="#000"/>
<path d="M391.75 434.63 L395.25 434.63 L393.5 437.83 Z" fill="#000"/>
<path d="M394.55 434.63 L398.05 434.63 L396.3 437.83 Z" fill="#000"/>
<path d="M390.55 435.93 L394.05 435.93 L392.3 439.13 Z" fill="#000"/>
<line x1="382.6" y1="418.6" x2="404.6" y2="418.6" stroke="#000" stroke-width="1.1"/>
<line x1="388.6" y1="416.8" x2="398.6" y2="416.8" stroke="#000" stroke-width="1.0"/>
<line x1="388.6" y1="420.4" x2="398.6" y2="420.4" stroke="#000" stroke-width="1.0"/>
<line x1="393.6" y1="416.8" x2="393.6" y2="420.4" stroke="#000" stroke-width="1.0"/>
<text transform="translate(27.3 392.2) rotate(-90) scale(0.898 1)" font-size="9.8" text-anchor="middle" fill="#111">Absolute distance from</text>
<text transform="translate(38.3 392.2) rotate(-90) scale(0.917 1)" font-size="9.8" text-anchor="middle" fill="#111">origin (arbitrary units)</text>
<text transform="translate(240.5 392.2) rotate(-90) scale(0.898 1)" font-size="9.8" text-anchor="middle" fill="#111">Absolute distance from</text>
<text transform="translate(252.3 392.2) rotate(-90) scale(0.917 1)" font-size="9.8" text-anchor="middle" fill="#111">origin (arbitrary units)</text>
<text transform="translate(96.55 350) scale(0.88 1)" font-size="8.4" text-anchor="middle" fill="#111">n.s.</text>
<line x1="78.7" y1="354.3" x2="114.4" y2="354.3" stroke="#000" stroke-width="1.2"/>
<text transform="translate(162.85 349.9) scale(0.88 1)" font-size="8.4" text-anchor="middle" fill="#111">n.s.</text>
<line x1="145.4" y1="354.2" x2="180.3" y2="354.2" stroke="#000" stroke-width="1.2"/>
<text transform="translate(310.3 349.6) scale(0.88 1)" font-size="8.4" text-anchor="middle" fill="#111">n.s.</text>
<line x1="292.8" y1="353.9" x2="327.8" y2="353.9" stroke="#000" stroke-width="1.2"/>
<text transform="translate(376.8 349.6) scale(0.88 1)" font-size="8.4" text-anchor="middle" fill="#111">n.s.</text>
<line x1="359.1" y1="353.9" x2="394.5" y2="353.9" stroke="#000" stroke-width="1.2"/>
<text transform="translate(80.5 451.2) scale(0.88 1)" font-size="9" text-anchor="middle" fill="#111">FVIII</text>
<text transform="translate(113.9 451.2) scale(0.88 1)" font-size="9" text-anchor="middle" fill="#111">Influenza</text>
<text transform="translate(147.2 451.2) scale(0.88 1)" font-size="9" text-anchor="middle" fill="#111">FVIII</text>
<text transform="translate(180 451.2) scale(0.88 1)" font-size="9" text-anchor="middle" fill="#111">Influenza</text>
<path d="M80.6 456 L80.6 459.1 L114.1 459.1 L114.1 456" fill="none" stroke="#000" stroke-width="1.1"/>
<text transform="translate(97.3 468.8) scale(0.88 1)" font-size="8.8" text-anchor="middle" fill="#111">1 hr</text>
<path d="M146.8 456 L146.8 459.1 L179.5 459.1 L179.5 456" fill="none" stroke="#000" stroke-width="1.1"/>
<text transform="translate(163.4 468.8) scale(0.88 1)" font-size="8.8" text-anchor="middle" fill="#111">12 hr</text>
<text transform="translate(130.2 482.1) scale(0.83 1)" font-size="10.4" text-anchor="middle" fill="#111">Source of chemokine</text>
<text transform="translate(294.6 451.3) scale(0.88 1)" font-size="9" text-anchor="middle" fill="#111">FVIII</text>
<text transform="translate(327.6 451.3) scale(0.88 1)" font-size="9" text-anchor="middle" fill="#111">Influenza</text>
<text transform="translate(361.1 451.3) scale(0.88 1)" font-size="9" text-anchor="middle" fill="#111">FVIII</text>
<text transform="translate(393.8 451.3) scale(0.88 1)" font-size="9" text-anchor="middle" fill="#111">Influenza</text>
<text transform="translate(327.8 461) scale(0.88 1)" font-size="9" text-anchor="middle" fill="#111">+ MF59</text>
<text transform="translate(393.8 461) scale(0.88 1)" font-size="9" text-anchor="middle" fill="#111">+ MF59</text>
<path d="M294.6 462.2 L294.6 465.2 L327.8 465.2 L327.8 462.2" fill="none" stroke="#000" stroke-width="1.1"/>
<text transform="translate(311.3 475) scale(0.88 1)" font-size="8.8" text-anchor="middle" fill="#111">1 hr</text>
<path d="M360.6 462.2 L360.6 465.2 L393.6 465.2 L393.6 462.2" fill="none" stroke="#000" stroke-width="1.1"/>
<text transform="translate(377 475) scale(0.88 1)" font-size="8.8" text-anchor="middle" fill="#111">12 hr</text>
<text transform="translate(344 488.3) scale(0.83 1)" font-size="10.4" text-anchor="middle" fill="#111">Source of chemokine</text>
</svg></body></html>
